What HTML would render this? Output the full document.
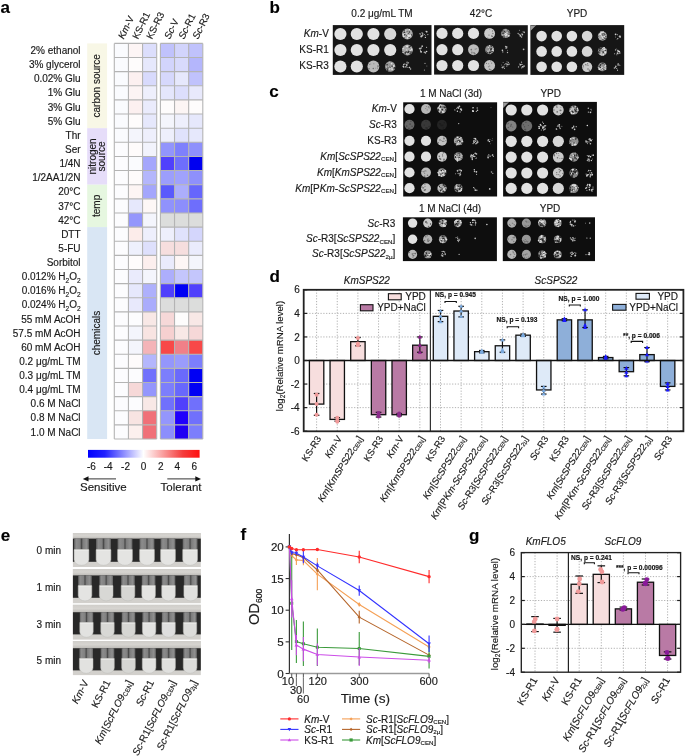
<!DOCTYPE html>
<html><head><meta charset="utf-8"><style>html,body{margin:0;padding:0;background:#fff;}svg{display:block;will-change:transform;font-family:"Liberation Sans",sans-serif;}text{stroke:currentColor;stroke-width:0.15px;paint-order:stroke;}</style></head>
<body><svg width="685" height="756" viewBox="0 0 685 756" font-family="Liberation Sans, sans-serif"><text x="0.50" y="13.30" font-size="17.00" text-anchor="start" fill="#000" font-weight="bold"><tspan>a</tspan></text>
<rect x="87.20" y="43.40" width="19.90" height="84.78" fill="#f8f7e6"/>
<rect x="87.20" y="128.18" width="19.90" height="56.52" fill="#e6ddf9"/>
<rect x="87.20" y="184.70" width="19.90" height="42.39" fill="#e6f7e0"/>
<rect x="87.20" y="227.09" width="19.90" height="211.95" fill="#d9e6f4"/>
<text transform="translate(100.10 85.79) rotate(-90.0)" font-size="10.00" text-anchor="middle" fill="#1a1a1a"><tspan>carbon source</tspan></text>
<text transform="translate(96.20 156.44) rotate(-90.0)" font-size="10.00" text-anchor="middle" fill="#1a1a1a"><tspan>nitrogen</tspan></text>
<text transform="translate(104.60 156.44) rotate(-90.0)" font-size="10.00" text-anchor="middle" fill="#1a1a1a"><tspan>source</tspan></text>
<text transform="translate(100.10 205.90) rotate(-90.0)" font-size="10.00" text-anchor="middle" fill="#1a1a1a"><tspan>temp</tspan></text>
<text transform="translate(100.10 333.06) rotate(-90.0)" font-size="10.00" text-anchor="middle" fill="#1a1a1a"><tspan>chemicals</tspan></text>
<text x="80.60" y="54.06" font-size="10.00" text-anchor="end" fill="#1a1a1a"><tspan>2% ethanol</tspan></text>
<rect x="114.30" y="43.40" width="14.13" height="14.13" fill="#fafbfe"/>
<rect x="128.43" y="43.40" width="14.13" height="14.13" fill="#fdf5f5"/>
<rect x="142.56" y="43.40" width="14.13" height="14.13" fill="#dcdefc"/>
<rect x="160.40" y="43.40" width="14.13" height="14.13" fill="#c0c2fc"/>
<rect x="174.53" y="43.40" width="14.13" height="14.13" fill="#d2d4fc"/>
<rect x="188.66" y="43.40" width="14.13" height="14.13" fill="#c0c2fc"/>
<text x="80.60" y="68.19" font-size="10.00" text-anchor="end" fill="#1a1a1a"><tspan>3% glycerol</tspan></text>
<rect x="114.30" y="57.53" width="14.13" height="14.13" fill="#fafbfe"/>
<rect x="128.43" y="57.53" width="14.13" height="14.13" fill="#fefcfc"/>
<rect x="142.56" y="57.53" width="14.13" height="14.13" fill="#e6e8fc"/>
<rect x="160.40" y="57.53" width="14.13" height="14.13" fill="#d2d4fc"/>
<rect x="174.53" y="57.53" width="14.13" height="14.13" fill="#d8dafc"/>
<rect x="188.66" y="57.53" width="14.13" height="14.13" fill="#b4b6fc"/>
<text x="80.60" y="82.32" font-size="10.00" text-anchor="end" fill="#1a1a1a"><tspan>0.02% Glu</tspan></text>
<rect x="114.30" y="71.66" width="14.13" height="14.13" fill="#fafbfe"/>
<rect x="128.43" y="71.66" width="14.13" height="14.13" fill="#fcf0f0"/>
<rect x="142.56" y="71.66" width="14.13" height="14.13" fill="#d8dafc"/>
<rect x="160.40" y="71.66" width="14.13" height="14.13" fill="#d6d8fc"/>
<rect x="174.53" y="71.66" width="14.13" height="14.13" fill="#e6e8fc"/>
<rect x="188.66" y="71.66" width="14.13" height="14.13" fill="#c0c2fc"/>
<text x="80.60" y="96.45" font-size="10.00" text-anchor="end" fill="#1a1a1a"><tspan>1% Glu</tspan></text>
<rect x="114.30" y="85.79" width="14.13" height="14.13" fill="#fafbfe"/>
<rect x="128.43" y="85.79" width="14.13" height="14.13" fill="#fcf4f4"/>
<rect x="142.56" y="85.79" width="14.13" height="14.13" fill="#eeeffc"/>
<rect x="160.40" y="85.79" width="14.13" height="14.13" fill="#e4e6fc"/>
<rect x="174.53" y="85.79" width="14.13" height="14.13" fill="#dcdefc"/>
<rect x="188.66" y="85.79" width="14.13" height="14.13" fill="#e8e9fc"/>
<text x="80.60" y="110.58" font-size="10.00" text-anchor="end" fill="#1a1a1a"><tspan>3% Glu</tspan></text>
<rect x="114.30" y="99.92" width="14.13" height="14.13" fill="#fafbfe"/>
<rect x="128.43" y="99.92" width="14.13" height="14.13" fill="#fcf0f0"/>
<rect x="142.56" y="99.92" width="14.13" height="14.13" fill="#eaebfc"/>
<rect x="160.40" y="99.92" width="14.13" height="14.13" fill="#fefcfc"/>
<rect x="174.53" y="99.92" width="14.13" height="14.13" fill="#fcf5f4"/>
<rect x="188.66" y="99.92" width="14.13" height="14.13" fill="#fefcfc"/>
<text x="80.60" y="124.72" font-size="10.00" text-anchor="end" fill="#1a1a1a"><tspan>5% Glu</tspan></text>
<rect x="114.30" y="114.05" width="14.13" height="14.13" fill="#fafbfe"/>
<rect x="128.43" y="114.05" width="14.13" height="14.13" fill="#fefcfc"/>
<rect x="142.56" y="114.05" width="14.13" height="14.13" fill="#e6e8fc"/>
<rect x="160.40" y="114.05" width="14.13" height="14.13" fill="#f4f5fc"/>
<rect x="174.53" y="114.05" width="14.13" height="14.13" fill="#eeeffc"/>
<rect x="188.66" y="114.05" width="14.13" height="14.13" fill="#e6e8fc"/>
<text x="80.60" y="138.84" font-size="10.00" text-anchor="end" fill="#1a1a1a"><tspan>Thr</tspan></text>
<rect x="114.30" y="128.18" width="14.13" height="14.13" fill="#fafbfe"/>
<rect x="128.43" y="128.18" width="14.13" height="14.13" fill="#f4f5fc"/>
<rect x="142.56" y="128.18" width="14.13" height="14.13" fill="#eeeffc"/>
<rect x="160.40" y="128.18" width="14.13" height="14.13" fill="#eeeffc"/>
<rect x="174.53" y="128.18" width="14.13" height="14.13" fill="#e0e2fc"/>
<rect x="188.66" y="128.18" width="14.13" height="14.13" fill="#e6e8fc"/>
<text x="80.60" y="152.97" font-size="10.00" text-anchor="end" fill="#1a1a1a"><tspan>Ser</tspan></text>
<rect x="114.30" y="142.31" width="14.13" height="14.13" fill="#fcfcfe"/>
<rect x="128.43" y="142.31" width="14.13" height="14.13" fill="#fefbfb"/>
<rect x="142.56" y="142.31" width="14.13" height="14.13" fill="#f2f3fc"/>
<rect x="160.40" y="142.31" width="14.13" height="14.13" fill="#9294fc"/>
<rect x="174.53" y="142.31" width="14.13" height="14.13" fill="#7e80fc"/>
<rect x="188.66" y="142.31" width="14.13" height="14.13" fill="#8e90fc"/>
<text x="80.60" y="167.10" font-size="10.00" text-anchor="end" fill="#1a1a1a"><tspan>1/4N</tspan></text>
<rect x="114.30" y="156.44" width="14.13" height="14.13" fill="#fcfcfe"/>
<rect x="128.43" y="156.44" width="14.13" height="14.13" fill="#fafbfe"/>
<rect x="142.56" y="156.44" width="14.13" height="14.13" fill="#a4a6fc"/>
<rect x="160.40" y="156.44" width="14.13" height="14.13" fill="#5040fc"/>
<rect x="174.53" y="156.44" width="14.13" height="14.13" fill="#6e6efc"/>
<rect x="188.66" y="156.44" width="14.13" height="14.13" fill="#0000f0"/>
<text x="80.60" y="181.23" font-size="10.00" text-anchor="end" fill="#1a1a1a"><tspan>1/2AA1/2N</tspan></text>
<rect x="114.30" y="170.57" width="14.13" height="14.13" fill="#fcfcfe"/>
<rect x="128.43" y="170.57" width="14.13" height="14.13" fill="#fefbfb"/>
<rect x="142.56" y="170.57" width="14.13" height="14.13" fill="#b4b6fc"/>
<rect x="160.40" y="170.57" width="14.13" height="14.13" fill="#9c9efc"/>
<rect x="174.53" y="170.57" width="14.13" height="14.13" fill="#a0a2fc"/>
<rect x="188.66" y="170.57" width="14.13" height="14.13" fill="#8e90fc"/>
<text x="80.60" y="195.37" font-size="10.00" text-anchor="end" fill="#1a1a1a"><tspan>20°C</tspan></text>
<rect x="114.30" y="184.70" width="14.13" height="14.13" fill="#fcfcfe"/>
<rect x="128.43" y="184.70" width="14.13" height="14.13" fill="#fdf5f4"/>
<rect x="142.56" y="184.70" width="14.13" height="14.13" fill="#a4a6fc"/>
<rect x="160.40" y="184.70" width="14.13" height="14.13" fill="#5a5afc"/>
<rect x="174.53" y="184.70" width="14.13" height="14.13" fill="#acaefc"/>
<rect x="188.66" y="184.70" width="14.13" height="14.13" fill="#6666fc"/>
<text x="80.60" y="209.50" font-size="10.00" text-anchor="end" fill="#1a1a1a"><tspan>37°C</tspan></text>
<rect x="114.30" y="198.83" width="14.13" height="14.13" fill="#fcfcfe"/>
<rect x="128.43" y="198.83" width="14.13" height="14.13" fill="#e6e8fc"/>
<rect x="142.56" y="198.83" width="14.13" height="14.13" fill="#fdf7f6"/>
<rect x="160.40" y="198.83" width="14.13" height="14.13" fill="#9092fc"/>
<rect x="174.53" y="198.83" width="14.13" height="14.13" fill="#8c8efc"/>
<rect x="188.66" y="198.83" width="14.13" height="14.13" fill="#6e6efc"/>
<text x="80.60" y="223.62" font-size="10.00" text-anchor="end" fill="#1a1a1a"><tspan>42°C</tspan></text>
<rect x="114.30" y="212.96" width="14.13" height="14.13" fill="#fcfcfe"/>
<rect x="128.43" y="212.96" width="14.13" height="14.13" fill="#9496fc"/>
<rect x="142.56" y="212.96" width="14.13" height="14.13" fill="#f4f5fc"/>
<rect x="160.40" y="212.96" width="14.13" height="14.13" fill="#dcdddc"/>
<rect x="174.53" y="212.96" width="14.13" height="14.13" fill="#dcdddc"/>
<rect x="188.66" y="212.96" width="14.13" height="14.13" fill="#dcdddc"/>
<text x="80.60" y="237.75" font-size="10.00" text-anchor="end" fill="#1a1a1a"><tspan>DTT</tspan></text>
<rect x="114.30" y="227.09" width="14.13" height="14.13" fill="#fcfcfe"/>
<rect x="128.43" y="227.09" width="14.13" height="14.13" fill="#fcecea"/>
<rect x="142.56" y="227.09" width="14.13" height="14.13" fill="#eeeffc"/>
<rect x="160.40" y="227.09" width="14.13" height="14.13" fill="#eeeffc"/>
<rect x="174.53" y="227.09" width="14.13" height="14.13" fill="#e0e2fc"/>
<rect x="188.66" y="227.09" width="14.13" height="14.13" fill="#d4d6fc"/>
<text x="80.60" y="251.89" font-size="10.00" text-anchor="end" fill="#1a1a1a"><tspan>5-FU</tspan></text>
<rect x="114.30" y="241.22" width="14.13" height="14.13" fill="#fcfcfe"/>
<rect x="128.43" y="241.22" width="14.13" height="14.13" fill="#eef0fc"/>
<rect x="142.56" y="241.22" width="14.13" height="14.13" fill="#dee0fc"/>
<rect x="160.40" y="241.22" width="14.13" height="14.13" fill="#f6dede"/>
<rect x="174.53" y="241.22" width="14.13" height="14.13" fill="#f6dede"/>
<rect x="188.66" y="241.22" width="14.13" height="14.13" fill="#eaebfc"/>
<text x="80.60" y="266.02" font-size="10.00" text-anchor="end" fill="#1a1a1a"><tspan>Sorbitol</tspan></text>
<rect x="114.30" y="255.35" width="14.13" height="14.13" fill="#fcfcfe"/>
<rect x="128.43" y="255.35" width="14.13" height="14.13" fill="#fefcfc"/>
<rect x="142.56" y="255.35" width="14.13" height="14.13" fill="#fcefee"/>
<rect x="160.40" y="255.35" width="14.13" height="14.13" fill="#eaebfc"/>
<rect x="174.53" y="255.35" width="14.13" height="14.13" fill="#fdf6f5"/>
<rect x="188.66" y="255.35" width="14.13" height="14.13" fill="#f4f5fc"/>
<text x="80.6" y="280.15" font-size="10" text-anchor="end" fill="#1a1a1a">0.012% H<tspan font-size="6.5" dy="2.6">2</tspan><tspan dy="-2.6">O</tspan><tspan font-size="6.5" dy="2.6">2</tspan></text>
<rect x="114.30" y="269.48" width="14.13" height="14.13" fill="#fcfcfe"/>
<rect x="128.43" y="269.48" width="14.13" height="14.13" fill="#eaebfc"/>
<rect x="142.56" y="269.48" width="14.13" height="14.13" fill="#f4f5fc"/>
<rect x="160.40" y="269.48" width="14.13" height="14.13" fill="#adaefc"/>
<rect x="174.53" y="269.48" width="14.13" height="14.13" fill="#c4c6fc"/>
<rect x="188.66" y="269.48" width="14.13" height="14.13" fill="#c4c6fc"/>
<text x="80.6" y="294.28" font-size="10" text-anchor="end" fill="#1a1a1a">0.016% H<tspan font-size="6.5" dy="2.6">2</tspan><tspan dy="-2.6">O</tspan><tspan font-size="6.5" dy="2.6">2</tspan></text>
<rect x="114.30" y="283.61" width="14.13" height="14.13" fill="#fcfcfe"/>
<rect x="128.43" y="283.61" width="14.13" height="14.13" fill="#e6e8fc"/>
<rect x="142.56" y="283.61" width="14.13" height="14.13" fill="#aeb0fc"/>
<rect x="160.40" y="283.61" width="14.13" height="14.13" fill="#5040fc"/>
<rect x="174.53" y="283.61" width="14.13" height="14.13" fill="#0000f4"/>
<rect x="188.66" y="283.61" width="14.13" height="14.13" fill="#5040fc"/>
<text x="80.6" y="308.41" font-size="10" text-anchor="end" fill="#1a1a1a">0.024% H<tspan font-size="6.5" dy="2.6">2</tspan><tspan dy="-2.6">O</tspan><tspan font-size="6.5" dy="2.6">2</tspan></text>
<rect x="114.30" y="297.74" width="14.13" height="14.13" fill="#fcfcfe"/>
<rect x="128.43" y="297.74" width="14.13" height="14.13" fill="#e8e9fc"/>
<rect x="142.56" y="297.74" width="14.13" height="14.13" fill="#aaacfc"/>
<rect x="160.40" y="297.74" width="14.13" height="14.13" fill="#dcdddc"/>
<rect x="174.53" y="297.74" width="14.13" height="14.13" fill="#dcdddc"/>
<rect x="188.66" y="297.74" width="14.13" height="14.13" fill="#dcdddc"/>
<text x="80.60" y="322.54" font-size="10.00" text-anchor="end" fill="#1a1a1a"><tspan>55 mM AcOH</tspan></text>
<rect x="114.30" y="311.87" width="14.13" height="14.13" fill="#fcfcfe"/>
<rect x="128.43" y="311.87" width="14.13" height="14.13" fill="#fcfcfe"/>
<rect x="142.56" y="311.87" width="14.13" height="14.13" fill="#f8e8e6"/>
<rect x="160.40" y="311.87" width="14.13" height="14.13" fill="#f6d8d8"/>
<rect x="174.53" y="311.87" width="14.13" height="14.13" fill="#fdfcfc"/>
<rect x="188.66" y="311.87" width="14.13" height="14.13" fill="#f8e8e6"/>
<text x="80.60" y="336.67" font-size="10.00" text-anchor="end" fill="#1a1a1a"><tspan>57.5 mM AcOH</tspan></text>
<rect x="114.30" y="326.00" width="14.13" height="14.13" fill="#fcfcfe"/>
<rect x="128.43" y="326.00" width="14.13" height="14.13" fill="#f4f5fc"/>
<rect x="142.56" y="326.00" width="14.13" height="14.13" fill="#f8e4e2"/>
<rect x="160.40" y="326.00" width="14.13" height="14.13" fill="#f6d0d0"/>
<rect x="174.53" y="326.00" width="14.13" height="14.13" fill="#f8e8e6"/>
<rect x="188.66" y="326.00" width="14.13" height="14.13" fill="#f6d8d8"/>
<text x="80.60" y="350.80" font-size="10.00" text-anchor="end" fill="#1a1a1a"><tspan>60 mM AcOH</tspan></text>
<rect x="114.30" y="340.13" width="14.13" height="14.13" fill="#fcfcfe"/>
<rect x="128.43" y="340.13" width="14.13" height="14.13" fill="#f4f5fc"/>
<rect x="142.56" y="340.13" width="14.13" height="14.13" fill="#f4b4b8"/>
<rect x="160.40" y="340.13" width="14.13" height="14.13" fill="#f84848"/>
<rect x="174.53" y="340.13" width="14.13" height="14.13" fill="#f08088"/>
<rect x="188.66" y="340.13" width="14.13" height="14.13" fill="#f84848"/>
<text x="80.60" y="364.93" font-size="10.00" text-anchor="end" fill="#1a1a1a"><tspan>0.2 μg/mL TM</tspan></text>
<rect x="114.30" y="354.26" width="14.13" height="14.13" fill="#fcfcfe"/>
<rect x="128.43" y="354.26" width="14.13" height="14.13" fill="#fefbfb"/>
<rect x="142.56" y="354.26" width="14.13" height="14.13" fill="#b4b6fc"/>
<rect x="160.40" y="354.26" width="14.13" height="14.13" fill="#9496fc"/>
<rect x="174.53" y="354.26" width="14.13" height="14.13" fill="#9a9cfc"/>
<rect x="188.66" y="354.26" width="14.13" height="14.13" fill="#7c7efc"/>
<text x="80.60" y="379.06" font-size="10.00" text-anchor="end" fill="#1a1a1a"><tspan>0.3 μg/mL TM</tspan></text>
<rect x="114.30" y="368.39" width="14.13" height="14.13" fill="#fcfcfe"/>
<rect x="128.43" y="368.39" width="14.13" height="14.13" fill="#fcfcfe"/>
<rect x="142.56" y="368.39" width="14.13" height="14.13" fill="#7070fc"/>
<rect x="160.40" y="368.39" width="14.13" height="14.13" fill="#7c7efc"/>
<rect x="174.53" y="368.39" width="14.13" height="14.13" fill="#6a6afc"/>
<rect x="188.66" y="368.39" width="14.13" height="14.13" fill="#0000f4"/>
<text x="80.60" y="393.19" font-size="10.00" text-anchor="end" fill="#1a1a1a"><tspan>0.4 μg/mL TM</tspan></text>
<rect x="114.30" y="382.52" width="14.13" height="14.13" fill="#fcfcfe"/>
<rect x="128.43" y="382.52" width="14.13" height="14.13" fill="#f6d8d8"/>
<rect x="142.56" y="382.52" width="14.13" height="14.13" fill="#9496fc"/>
<rect x="160.40" y="382.52" width="14.13" height="14.13" fill="#7c7efc"/>
<rect x="174.53" y="382.52" width="14.13" height="14.13" fill="#6868fc"/>
<rect x="188.66" y="382.52" width="14.13" height="14.13" fill="#0000f4"/>
<text x="80.60" y="407.31" font-size="10.00" text-anchor="end" fill="#1a1a1a"><tspan>0.6 M NaCl</tspan></text>
<rect x="114.30" y="396.65" width="14.13" height="14.13" fill="#fcfcfe"/>
<rect x="128.43" y="396.65" width="14.13" height="14.13" fill="#fcfcfe"/>
<rect x="142.56" y="396.65" width="14.13" height="14.13" fill="#f8e8e6"/>
<rect x="160.40" y="396.65" width="14.13" height="14.13" fill="#7070fc"/>
<rect x="174.53" y="396.65" width="14.13" height="14.13" fill="#5040fc"/>
<rect x="188.66" y="396.65" width="14.13" height="14.13" fill="#7070fc"/>
<text x="80.60" y="421.44" font-size="10.00" text-anchor="end" fill="#1a1a1a"><tspan>0.8 M NaCl</tspan></text>
<rect x="114.30" y="410.78" width="14.13" height="14.13" fill="#fcfcfe"/>
<rect x="128.43" y="410.78" width="14.13" height="14.13" fill="#f8e4e2"/>
<rect x="142.56" y="410.78" width="14.13" height="14.13" fill="#f07078"/>
<rect x="160.40" y="410.78" width="14.13" height="14.13" fill="#9496fc"/>
<rect x="174.53" y="410.78" width="14.13" height="14.13" fill="#2000fc"/>
<rect x="188.66" y="410.78" width="14.13" height="14.13" fill="#7070fc"/>
<text x="80.60" y="435.58" font-size="10.00" text-anchor="end" fill="#1a1a1a"><tspan>1.0 M NaCl</tspan></text>
<rect x="114.30" y="424.91" width="14.13" height="14.13" fill="#fcfcfe"/>
<rect x="128.43" y="424.91" width="14.13" height="14.13" fill="#fcf0ee"/>
<rect x="142.56" y="424.91" width="14.13" height="14.13" fill="#f07078"/>
<rect x="160.40" y="424.91" width="14.13" height="14.13" fill="#8c8efc"/>
<rect x="174.53" y="424.91" width="14.13" height="14.13" fill="#2000f4"/>
<rect x="188.66" y="424.91" width="14.13" height="14.13" fill="#7c7efc"/>
<line x1="114.30" y1="43.40" x2="114.30" y2="439.04" stroke="#b4b4b4" stroke-width="1.10"/>
<line x1="128.43" y1="43.40" x2="128.43" y2="439.04" stroke="#b4b4b4" stroke-width="1.10"/>
<line x1="142.56" y1="43.40" x2="142.56" y2="439.04" stroke="#b4b4b4" stroke-width="1.10"/>
<line x1="156.69" y1="43.40" x2="156.69" y2="439.04" stroke="#b4b4b4" stroke-width="1.10"/>
<line x1="114.30" y1="43.40" x2="156.69" y2="43.40" stroke="#b4b4b4" stroke-width="1.10"/>
<line x1="114.30" y1="57.53" x2="156.69" y2="57.53" stroke="#b4b4b4" stroke-width="1.10"/>
<line x1="114.30" y1="71.66" x2="156.69" y2="71.66" stroke="#b4b4b4" stroke-width="1.10"/>
<line x1="114.30" y1="85.79" x2="156.69" y2="85.79" stroke="#b4b4b4" stroke-width="1.10"/>
<line x1="114.30" y1="99.92" x2="156.69" y2="99.92" stroke="#b4b4b4" stroke-width="1.10"/>
<line x1="114.30" y1="114.05" x2="156.69" y2="114.05" stroke="#b4b4b4" stroke-width="1.10"/>
<line x1="114.30" y1="128.18" x2="156.69" y2="128.18" stroke="#b4b4b4" stroke-width="1.10"/>
<line x1="114.30" y1="142.31" x2="156.69" y2="142.31" stroke="#b4b4b4" stroke-width="1.10"/>
<line x1="114.30" y1="156.44" x2="156.69" y2="156.44" stroke="#b4b4b4" stroke-width="1.10"/>
<line x1="114.30" y1="170.57" x2="156.69" y2="170.57" stroke="#b4b4b4" stroke-width="1.10"/>
<line x1="114.30" y1="184.70" x2="156.69" y2="184.70" stroke="#b4b4b4" stroke-width="1.10"/>
<line x1="114.30" y1="198.83" x2="156.69" y2="198.83" stroke="#b4b4b4" stroke-width="1.10"/>
<line x1="114.30" y1="212.96" x2="156.69" y2="212.96" stroke="#b4b4b4" stroke-width="1.10"/>
<line x1="114.30" y1="227.09" x2="156.69" y2="227.09" stroke="#b4b4b4" stroke-width="1.10"/>
<line x1="114.30" y1="241.22" x2="156.69" y2="241.22" stroke="#b4b4b4" stroke-width="1.10"/>
<line x1="114.30" y1="255.35" x2="156.69" y2="255.35" stroke="#b4b4b4" stroke-width="1.10"/>
<line x1="114.30" y1="269.48" x2="156.69" y2="269.48" stroke="#b4b4b4" stroke-width="1.10"/>
<line x1="114.30" y1="283.61" x2="156.69" y2="283.61" stroke="#b4b4b4" stroke-width="1.10"/>
<line x1="114.30" y1="297.74" x2="156.69" y2="297.74" stroke="#b4b4b4" stroke-width="1.10"/>
<line x1="114.30" y1="311.87" x2="156.69" y2="311.87" stroke="#b4b4b4" stroke-width="1.10"/>
<line x1="114.30" y1="326.00" x2="156.69" y2="326.00" stroke="#b4b4b4" stroke-width="1.10"/>
<line x1="114.30" y1="340.13" x2="156.69" y2="340.13" stroke="#b4b4b4" stroke-width="1.10"/>
<line x1="114.30" y1="354.26" x2="156.69" y2="354.26" stroke="#b4b4b4" stroke-width="1.10"/>
<line x1="114.30" y1="368.39" x2="156.69" y2="368.39" stroke="#b4b4b4" stroke-width="1.10"/>
<line x1="114.30" y1="382.52" x2="156.69" y2="382.52" stroke="#b4b4b4" stroke-width="1.10"/>
<line x1="114.30" y1="396.65" x2="156.69" y2="396.65" stroke="#b4b4b4" stroke-width="1.10"/>
<line x1="114.30" y1="410.78" x2="156.69" y2="410.78" stroke="#b4b4b4" stroke-width="1.10"/>
<line x1="114.30" y1="424.91" x2="156.69" y2="424.91" stroke="#b4b4b4" stroke-width="1.10"/>
<line x1="114.30" y1="439.04" x2="156.69" y2="439.04" stroke="#b4b4b4" stroke-width="1.10"/>
<line x1="160.40" y1="43.40" x2="160.40" y2="439.04" stroke="#b4b4b4" stroke-width="1.10"/>
<line x1="174.53" y1="43.40" x2="174.53" y2="439.04" stroke="#b4b4b4" stroke-width="1.10"/>
<line x1="188.66" y1="43.40" x2="188.66" y2="439.04" stroke="#b4b4b4" stroke-width="1.10"/>
<line x1="202.79" y1="43.40" x2="202.79" y2="439.04" stroke="#b4b4b4" stroke-width="1.10"/>
<line x1="160.40" y1="43.40" x2="202.79" y2="43.40" stroke="#b4b4b4" stroke-width="1.10"/>
<line x1="160.40" y1="57.53" x2="202.79" y2="57.53" stroke="#b4b4b4" stroke-width="1.10"/>
<line x1="160.40" y1="71.66" x2="202.79" y2="71.66" stroke="#b4b4b4" stroke-width="1.10"/>
<line x1="160.40" y1="85.79" x2="202.79" y2="85.79" stroke="#b4b4b4" stroke-width="1.10"/>
<line x1="160.40" y1="99.92" x2="202.79" y2="99.92" stroke="#b4b4b4" stroke-width="1.10"/>
<line x1="160.40" y1="114.05" x2="202.79" y2="114.05" stroke="#b4b4b4" stroke-width="1.10"/>
<line x1="160.40" y1="128.18" x2="202.79" y2="128.18" stroke="#b4b4b4" stroke-width="1.10"/>
<line x1="160.40" y1="142.31" x2="202.79" y2="142.31" stroke="#b4b4b4" stroke-width="1.10"/>
<line x1="160.40" y1="156.44" x2="202.79" y2="156.44" stroke="#b4b4b4" stroke-width="1.10"/>
<line x1="160.40" y1="170.57" x2="202.79" y2="170.57" stroke="#b4b4b4" stroke-width="1.10"/>
<line x1="160.40" y1="184.70" x2="202.79" y2="184.70" stroke="#b4b4b4" stroke-width="1.10"/>
<line x1="160.40" y1="198.83" x2="202.79" y2="198.83" stroke="#b4b4b4" stroke-width="1.10"/>
<line x1="160.40" y1="212.96" x2="202.79" y2="212.96" stroke="#b4b4b4" stroke-width="1.10"/>
<line x1="160.40" y1="227.09" x2="202.79" y2="227.09" stroke="#b4b4b4" stroke-width="1.10"/>
<line x1="160.40" y1="241.22" x2="202.79" y2="241.22" stroke="#b4b4b4" stroke-width="1.10"/>
<line x1="160.40" y1="255.35" x2="202.79" y2="255.35" stroke="#b4b4b4" stroke-width="1.10"/>
<line x1="160.40" y1="269.48" x2="202.79" y2="269.48" stroke="#b4b4b4" stroke-width="1.10"/>
<line x1="160.40" y1="283.61" x2="202.79" y2="283.61" stroke="#b4b4b4" stroke-width="1.10"/>
<line x1="160.40" y1="297.74" x2="202.79" y2="297.74" stroke="#b4b4b4" stroke-width="1.10"/>
<line x1="160.40" y1="311.87" x2="202.79" y2="311.87" stroke="#b4b4b4" stroke-width="1.10"/>
<line x1="160.40" y1="326.00" x2="202.79" y2="326.00" stroke="#b4b4b4" stroke-width="1.10"/>
<line x1="160.40" y1="340.13" x2="202.79" y2="340.13" stroke="#b4b4b4" stroke-width="1.10"/>
<line x1="160.40" y1="354.26" x2="202.79" y2="354.26" stroke="#b4b4b4" stroke-width="1.10"/>
<line x1="160.40" y1="368.39" x2="202.79" y2="368.39" stroke="#b4b4b4" stroke-width="1.10"/>
<line x1="160.40" y1="382.52" x2="202.79" y2="382.52" stroke="#b4b4b4" stroke-width="1.10"/>
<line x1="160.40" y1="396.65" x2="202.79" y2="396.65" stroke="#b4b4b4" stroke-width="1.10"/>
<line x1="160.40" y1="410.78" x2="202.79" y2="410.78" stroke="#b4b4b4" stroke-width="1.10"/>
<line x1="160.40" y1="424.91" x2="202.79" y2="424.91" stroke="#b4b4b4" stroke-width="1.10"/>
<line x1="160.40" y1="439.04" x2="202.79" y2="439.04" stroke="#b4b4b4" stroke-width="1.10"/>
<text transform="translate(123.77 39.80) rotate(-64.0)" font-size="9.70" text-anchor="start" fill="#1a1a1a"><tspan font-style="italic">Km</tspan><tspan>-V</tspan></text>
<text transform="translate(137.90 39.80) rotate(-64.0)" font-size="9.70" text-anchor="start" fill="#1a1a1a"><tspan>KS-R1</tspan></text>
<text transform="translate(152.03 39.80) rotate(-64.0)" font-size="9.70" text-anchor="start" fill="#1a1a1a"><tspan>KS-R3</tspan></text>
<text transform="translate(169.87 39.80) rotate(-64.0)" font-size="9.70" text-anchor="start" fill="#1a1a1a"><tspan font-style="italic">Sc</tspan><tspan>-V</tspan></text>
<text transform="translate(184.00 39.80) rotate(-64.0)" font-size="9.70" text-anchor="start" fill="#1a1a1a"><tspan font-style="italic">Sc</tspan><tspan>-R1</tspan></text>
<text transform="translate(198.12 39.80) rotate(-64.0)" font-size="9.70" text-anchor="start" fill="#1a1a1a"><tspan font-style="italic">Sc</tspan><tspan>-R3</tspan></text>
<defs><linearGradient id="cb" x1="0" x2="1"><stop offset="0" stop-color="#0000ff"/><stop offset="0.15" stop-color="#2020ff"/><stop offset="0.497" stop-color="#ffffff"/><stop offset="0.85" stop-color="#f43c3c"/><stop offset="1" stop-color="#ff1010"/></linearGradient></defs>
<rect x="88.00" y="449.90" width="111.60" height="7.80" fill="url(#cb)"/>
<text x="91.40" y="470.00" font-size="10.00" text-anchor="middle" fill="#1a1a1a"><tspan>-6</tspan></text>
<text x="108.10" y="470.00" font-size="10.00" text-anchor="middle" fill="#1a1a1a"><tspan>-4</tspan></text>
<text x="125.50" y="470.00" font-size="10.00" text-anchor="middle" fill="#1a1a1a"><tspan>-2</tspan></text>
<text x="143.60" y="470.00" font-size="10.00" text-anchor="middle" fill="#1a1a1a"><tspan>0</tspan></text>
<text x="160.70" y="470.00" font-size="10.00" text-anchor="middle" fill="#1a1a1a"><tspan>2</tspan></text>
<text x="177.20" y="470.00" font-size="10.00" text-anchor="middle" fill="#1a1a1a"><tspan>4</tspan></text>
<text x="194.30" y="470.00" font-size="10.00" text-anchor="middle" fill="#1a1a1a"><tspan>6</tspan></text>
<line x1="86.00" y1="478.90" x2="116.00" y2="478.90" stroke="#333" stroke-width="1.00"/>
<path d="M82.8 478.9 L88.5 476.2 L88.5 481.6 Z" fill="#111"/>
<line x1="167.30" y1="478.90" x2="196.00" y2="478.90" stroke="#333" stroke-width="1.00"/>
<path d="M201 478.9 L195.3 476.2 L195.3 481.6 Z" fill="#111"/>
<text x="80.00" y="491.20" font-size="11.50" text-anchor="start" fill="#1a1a1a"><tspan>Sensitive</tspan></text>
<text x="201.50" y="491.20" font-size="11.50" text-anchor="end" fill="#1a1a1a"><tspan>Tolerant</tspan></text>
<text x="269.50" y="13.20" font-size="17.00" text-anchor="start" fill="#000" font-weight="bold"><tspan>b</tspan></text>
<text x="382.00" y="17.00" font-size="10.00" text-anchor="middle" fill="#1a1a1a"><tspan>0.2 μg/mL TM</tspan></text>
<text x="481.00" y="17.00" font-size="10.00" text-anchor="middle" fill="#1a1a1a"><tspan>42°C</tspan></text>
<text x="577.00" y="17.00" font-size="10.00" text-anchor="middle" fill="#1a1a1a"><tspan>YPD</tspan></text>
<text x="328.80" y="37.30" font-size="10.00" text-anchor="end" fill="#1a1a1a"><tspan font-style="italic">Km</tspan><tspan>-V</tspan></text>
<text x="328.80" y="53.30" font-size="10.00" text-anchor="end" fill="#1a1a1a"><tspan>KS-R1</tspan></text>
<text x="328.80" y="69.30" font-size="10.00" text-anchor="end" fill="#1a1a1a"><tspan>KS-R3</tspan></text>
<rect x="332.80" y="25.10" width="98.70" height="49.80" fill="#161616"/>
<circle cx="340.4" cy="34.0" r="6.10" fill="rgb(226,226,226)"/>
<circle cx="356.8" cy="34.0" r="6.10" fill="rgb(226,226,226)"/>
<circle cx="373.4" cy="34.0" r="6.10" fill="rgb(226,226,226)"/>
<circle cx="390.2" cy="34.0" r="6.10" fill="rgb(215,215,215)"/>
<circle cx="407.4" cy="34.0" r="5.43" fill="rgb(168,168,168)"/>
<circle cx="406.5" cy="35.8" r="0.49" fill="rgb(52,52,52)"/>
<circle cx="404.4" cy="33.3" r="0.70" fill="rgb(226,226,226)"/>
<circle cx="410.7" cy="34.8" r="0.50" fill="rgb(226,226,226)"/>
<circle cx="403.2" cy="36.1" r="0.56" fill="rgb(226,226,226)"/>
<circle cx="403.9" cy="30.4" r="0.65" fill="rgb(52,52,52)"/>
<circle cx="408.5" cy="33.8" r="0.59" fill="rgb(52,52,52)"/>
<circle cx="408.5" cy="35.4" r="0.86" fill="rgb(226,226,226)"/>
<circle cx="409.1" cy="37.6" r="0.64" fill="rgb(52,52,52)"/>
<circle cx="406.2" cy="33.6" r="0.55" fill="rgb(226,226,226)"/>
<circle cx="406.0" cy="30.9" r="0.74" fill="rgb(226,226,226)"/>
<circle cx="404.7" cy="34.8" r="0.80" fill="rgb(52,52,52)"/>
<circle cx="407.5" cy="37.9" r="0.89" fill="rgb(226,226,226)"/>
<circle cx="407.0" cy="31.3" r="0.51" fill="rgb(52,52,52)"/>
<circle cx="403.5" cy="36.2" r="0.69" fill="rgb(226,226,226)"/>
<circle cx="411.5" cy="35.0" r="0.74" fill="rgb(52,52,52)"/>
<circle cx="409.4" cy="32.0" r="0.75" fill="rgb(52,52,52)"/>
<circle cx="404.3" cy="32.3" r="0.92" fill="rgb(52,52,52)"/>
<circle cx="403.3" cy="34.7" r="0.80" fill="rgb(226,226,226)"/>
<circle cx="404.3" cy="29.9" r="0.59" fill="rgb(52,52,52)"/>
<circle cx="404.2" cy="36.8" r="0.68" fill="rgb(226,226,226)"/>
<circle cx="408.3" cy="35.5" r="0.83" fill="rgb(226,226,226)"/>
<circle cx="409.2" cy="35.9" r="0.89" fill="rgb(226,226,226)"/>
<circle cx="410.4" cy="35.7" r="0.89" fill="rgb(226,226,226)"/>
<circle cx="409.4" cy="29.7" r="0.66" fill="rgb(226,226,226)"/>
<circle cx="404.3" cy="37.8" r="0.53" fill="rgb(52,52,52)"/>
<circle cx="408.5" cy="36.2" r="0.69" fill="rgb(226,226,226)"/>
<circle cx="421.6" cy="32.8" r="0.40" fill="rgb(190,190,190)"/>
<circle cx="421.2" cy="36.5" r="0.88" fill="rgb(207,207,207)"/>
<circle cx="420.0" cy="33.7" r="0.74" fill="rgb(168,168,168)"/>
<circle cx="426.7" cy="31.7" r="0.84" fill="rgb(213,213,213)"/>
<circle cx="421.3" cy="35.8" r="0.45" fill="rgb(203,203,203)"/>
<circle cx="424.6" cy="34.4" r="0.50" fill="rgb(174,174,174)"/>
<circle cx="423.0" cy="34.9" r="0.40" fill="rgb(174,174,174)"/>
<circle cx="425.7" cy="35.6" r="0.41" fill="rgb(218,218,218)"/>
<circle cx="422.2" cy="32.9" r="0.53" fill="rgb(186,186,186)"/>
<circle cx="422.5" cy="35.2" r="0.82" fill="rgb(225,225,225)"/>
<circle cx="420.5" cy="34.7" r="0.44" fill="rgb(171,171,171)"/>
<circle cx="422.2" cy="35.9" r="0.81" fill="rgb(174,174,174)"/>
<circle cx="427.8" cy="34.6" r="0.66" fill="rgb(173,173,173)"/>
<circle cx="422.8" cy="33.8" r="0.66" fill="rgb(224,224,224)"/>
<circle cx="425.9" cy="31.2" r="0.53" fill="rgb(187,187,187)"/>
<circle cx="425.4" cy="37.4" r="0.67" fill="rgb(212,212,212)"/>
<circle cx="340.4" cy="50.0" r="6.10" fill="rgb(226,226,226)"/>
<circle cx="356.8" cy="50.0" r="6.10" fill="rgb(226,226,226)"/>
<circle cx="373.4" cy="50.0" r="6.10" fill="rgb(226,226,226)"/>
<circle cx="390.2" cy="50.0" r="6.10" fill="rgb(226,226,226)"/>
<circle cx="407.4" cy="50.0" r="5.43" fill="rgb(168,168,168)"/>
<circle cx="406.2" cy="52.1" r="0.94" fill="rgb(52,52,52)"/>
<circle cx="410.2" cy="46.3" r="0.82" fill="rgb(52,52,52)"/>
<circle cx="407.9" cy="53.7" r="0.46" fill="rgb(226,226,226)"/>
<circle cx="410.1" cy="50.5" r="0.80" fill="rgb(226,226,226)"/>
<circle cx="410.7" cy="49.1" r="0.94" fill="rgb(52,52,52)"/>
<circle cx="410.4" cy="49.1" r="0.56" fill="rgb(226,226,226)"/>
<circle cx="408.2" cy="52.2" r="0.90" fill="rgb(52,52,52)"/>
<circle cx="409.3" cy="47.0" r="0.85" fill="rgb(52,52,52)"/>
<circle cx="411.0" cy="52.1" r="0.84" fill="rgb(52,52,52)"/>
<circle cx="407.4" cy="46.4" r="0.84" fill="rgb(226,226,226)"/>
<circle cx="405.1" cy="54.0" r="0.65" fill="rgb(52,52,52)"/>
<circle cx="403.3" cy="52.9" r="0.54" fill="rgb(52,52,52)"/>
<circle cx="408.8" cy="51.4" r="0.85" fill="rgb(52,52,52)"/>
<circle cx="410.2" cy="53.7" r="0.78" fill="rgb(52,52,52)"/>
<circle cx="405.1" cy="53.1" r="0.46" fill="rgb(226,226,226)"/>
<circle cx="411.5" cy="49.2" r="0.92" fill="rgb(226,226,226)"/>
<circle cx="403.0" cy="51.9" r="0.56" fill="rgb(52,52,52)"/>
<circle cx="407.4" cy="52.8" r="0.74" fill="rgb(226,226,226)"/>
<circle cx="407.2" cy="53.3" r="0.91" fill="rgb(226,226,226)"/>
<circle cx="405.3" cy="52.8" r="0.90" fill="rgb(52,52,52)"/>
<circle cx="403.1" cy="52.4" r="0.72" fill="rgb(226,226,226)"/>
<circle cx="406.7" cy="49.9" r="0.54" fill="rgb(226,226,226)"/>
<circle cx="412.0" cy="50.1" r="0.69" fill="rgb(226,226,226)"/>
<circle cx="406.8" cy="46.2" r="0.71" fill="rgb(226,226,226)"/>
<circle cx="403.1" cy="48.4" r="0.73" fill="rgb(226,226,226)"/>
<circle cx="407.4" cy="52.7" r="0.70" fill="rgb(52,52,52)"/>
<circle cx="420.1" cy="48.6" r="0.86" fill="rgb(191,191,191)"/>
<circle cx="421.2" cy="48.0" r="0.66" fill="rgb(207,207,207)"/>
<circle cx="420.5" cy="50.9" r="0.64" fill="rgb(222,222,222)"/>
<circle cx="422.2" cy="46.2" r="0.87" fill="rgb(180,180,180)"/>
<circle cx="419.6" cy="48.5" r="0.82" fill="rgb(173,173,173)"/>
<circle cx="425.5" cy="52.0" r="0.44" fill="rgb(179,179,179)"/>
<circle cx="426.6" cy="51.5" r="0.79" fill="rgb(219,219,219)"/>
<circle cx="425.5" cy="53.0" r="0.73" fill="rgb(173,173,173)"/>
<circle cx="426.6" cy="47.2" r="0.51" fill="rgb(223,223,223)"/>
<circle cx="421.1" cy="51.8" r="0.89" fill="rgb(215,215,215)"/>
<circle cx="425.0" cy="52.4" r="0.66" fill="rgb(185,185,185)"/>
<circle cx="424.3" cy="52.3" r="0.76" fill="rgb(165,165,165)"/>
<circle cx="420.8" cy="49.1" r="0.41" fill="rgb(185,185,185)"/>
<circle cx="340.4" cy="66.5" r="6.10" fill="rgb(226,226,226)"/>
<circle cx="356.8" cy="66.5" r="6.10" fill="rgb(226,226,226)"/>
<circle cx="373.4" cy="66.5" r="5.92" fill="rgb(187,187,187)"/>
<circle cx="370.8" cy="63.9" r="0.48" fill="rgb(113,113,113)"/>
<circle cx="378.0" cy="66.1" r="0.84" fill="rgb(113,113,113)"/>
<circle cx="375.5" cy="68.1" r="0.47" fill="rgb(113,113,113)"/>
<circle cx="373.9" cy="63.8" r="0.50" fill="rgb(113,113,113)"/>
<circle cx="369.0" cy="68.8" r="0.78" fill="rgb(113,113,113)"/>
<circle cx="373.3" cy="68.5" r="0.82" fill="rgb(113,113,113)"/>
<circle cx="369.5" cy="64.6" r="0.49" fill="rgb(113,113,113)"/>
<circle cx="377.4" cy="68.0" r="0.62" fill="rgb(113,113,113)"/>
<circle cx="390.2" cy="66.5" r="5.15" fill="rgb(154,154,154)"/>
<circle cx="394.5" cy="68.6" r="0.85" fill="rgb(47,47,47)"/>
<circle cx="394.1" cy="68.8" r="0.88" fill="rgb(226,226,226)"/>
<circle cx="387.5" cy="67.3" r="0.91" fill="rgb(47,47,47)"/>
<circle cx="390.0" cy="68.2" r="0.57" fill="rgb(226,226,226)"/>
<circle cx="391.7" cy="67.7" r="0.55" fill="rgb(226,226,226)"/>
<circle cx="389.2" cy="69.0" r="0.59" fill="rgb(47,47,47)"/>
<circle cx="388.1" cy="66.5" r="0.46" fill="rgb(226,226,226)"/>
<circle cx="390.2" cy="67.1" r="0.73" fill="rgb(47,47,47)"/>
<circle cx="391.5" cy="69.6" r="0.50" fill="rgb(47,47,47)"/>
<circle cx="391.6" cy="63.6" r="0.87" fill="rgb(226,226,226)"/>
<circle cx="387.5" cy="68.7" r="0.94" fill="rgb(47,47,47)"/>
<circle cx="387.7" cy="70.2" r="0.77" fill="rgb(47,47,47)"/>
<circle cx="387.8" cy="68.1" r="0.51" fill="rgb(226,226,226)"/>
<circle cx="394.0" cy="68.3" r="0.53" fill="rgb(226,226,226)"/>
<circle cx="394.1" cy="68.8" r="0.79" fill="rgb(47,47,47)"/>
<circle cx="389.7" cy="68.9" r="0.68" fill="rgb(226,226,226)"/>
<circle cx="392.0" cy="69.2" r="0.93" fill="rgb(226,226,226)"/>
<circle cx="393.8" cy="65.9" r="0.93" fill="rgb(226,226,226)"/>
<circle cx="389.1" cy="69.2" r="0.64" fill="rgb(226,226,226)"/>
<circle cx="386.8" cy="67.1" r="0.70" fill="rgb(226,226,226)"/>
<circle cx="392.7" cy="66.6" r="0.65" fill="rgb(226,226,226)"/>
<circle cx="390.9" cy="66.7" r="0.57" fill="rgb(226,226,226)"/>
<circle cx="387.1" cy="64.7" r="0.78" fill="rgb(47,47,47)"/>
<circle cx="389.2" cy="62.0" r="0.61" fill="rgb(226,226,226)"/>
<circle cx="392.1" cy="66.3" r="0.77" fill="rgb(47,47,47)"/>
<circle cx="394.5" cy="67.7" r="0.76" fill="rgb(47,47,47)"/>
<circle cx="407.0" cy="62.5" r="0.47" fill="rgb(196,196,196)"/>
<circle cx="403.3" cy="66.4" r="0.80" fill="rgb(215,215,215)"/>
<circle cx="403.8" cy="64.4" r="0.74" fill="rgb(207,207,207)"/>
<circle cx="407.5" cy="67.3" r="0.47" fill="rgb(186,186,186)"/>
<circle cx="410.6" cy="69.0" r="0.68" fill="rgb(203,203,203)"/>
<circle cx="404.8" cy="63.9" r="0.64" fill="rgb(165,165,165)"/>
<circle cx="408.5" cy="62.8" r="0.65" fill="rgb(197,197,197)"/>
<circle cx="406.8" cy="65.5" r="0.77" fill="rgb(180,180,180)"/>
<circle cx="409.4" cy="67.5" r="0.76" fill="rgb(177,177,177)"/>
<circle cx="407.1" cy="62.1" r="0.65" fill="rgb(188,188,188)"/>
<circle cx="403.8" cy="67.0" r="0.78" fill="rgb(202,202,202)"/>
<circle cx="406.6" cy="65.5" r="0.47" fill="rgb(180,180,180)"/>
<circle cx="407.3" cy="64.0" r="0.68" fill="rgb(165,165,165)"/>
<circle cx="409.5" cy="67.4" r="0.74" fill="rgb(207,207,207)"/>
<circle cx="406.3" cy="64.4" r="0.66" fill="rgb(193,193,193)"/>
<circle cx="405.9" cy="66.8" r="0.85" fill="rgb(176,176,176)"/>
<circle cx="426.9" cy="66.0" r="0.41" fill="rgb(192,192,192)"/>
<circle cx="425.0" cy="63.3" r="0.62" fill="rgb(181,181,181)"/>
<circle cx="424.4" cy="69.9" r="0.51" fill="rgb(200,200,200)"/>
<rect x="434.10" y="25.20" width="93.70" height="49.40" fill="#161616"/>
<circle cx="442.0" cy="33.4" r="5.60" fill="rgb(226,226,226)"/>
<circle cx="457.7" cy="33.4" r="5.60" fill="rgb(226,226,226)"/>
<circle cx="473.5" cy="33.4" r="5.60" fill="rgb(226,226,226)"/>
<circle cx="489.6" cy="33.4" r="5.43" fill="rgb(203,203,203)"/>
<circle cx="491.8" cy="36.1" r="0.83" fill="rgb(113,113,113)"/>
<circle cx="492.5" cy="36.6" r="0.65" fill="rgb(113,113,113)"/>
<circle cx="492.6" cy="30.8" r="0.54" fill="rgb(113,113,113)"/>
<circle cx="492.3" cy="31.4" r="0.46" fill="rgb(113,113,113)"/>
<circle cx="492.9" cy="33.5" r="0.63" fill="rgb(113,113,113)"/>
<circle cx="489.0" cy="35.1" r="0.59" fill="rgb(113,113,113)"/>
<circle cx="487.8" cy="37.4" r="0.45" fill="rgb(113,113,113)"/>
<circle cx="489.6" cy="29.0" r="0.50" fill="rgb(113,113,113)"/>
<circle cx="505.6" cy="33.4" r="4.61" fill="rgb(147,147,147)"/>
<circle cx="508.9" cy="31.8" r="0.59" fill="rgb(44,44,44)"/>
<circle cx="503.7" cy="35.4" r="0.74" fill="rgb(44,44,44)"/>
<circle cx="503.8" cy="35.6" r="0.47" fill="rgb(226,226,226)"/>
<circle cx="508.8" cy="35.8" r="0.92" fill="rgb(226,226,226)"/>
<circle cx="505.6" cy="35.7" r="0.54" fill="rgb(226,226,226)"/>
<circle cx="502.6" cy="36.5" r="0.86" fill="rgb(44,44,44)"/>
<circle cx="502.8" cy="30.3" r="0.72" fill="rgb(44,44,44)"/>
<circle cx="505.4" cy="32.4" r="0.68" fill="rgb(44,44,44)"/>
<circle cx="505.7" cy="29.9" r="0.47" fill="rgb(226,226,226)"/>
<circle cx="507.0" cy="32.7" r="0.62" fill="rgb(226,226,226)"/>
<circle cx="504.5" cy="37.0" r="0.58" fill="rgb(44,44,44)"/>
<circle cx="504.3" cy="31.4" r="0.65" fill="rgb(44,44,44)"/>
<circle cx="506.5" cy="34.9" r="0.90" fill="rgb(226,226,226)"/>
<circle cx="503.5" cy="33.4" r="0.95" fill="rgb(44,44,44)"/>
<circle cx="504.0" cy="33.9" r="0.50" fill="rgb(226,226,226)"/>
<circle cx="504.9" cy="34.5" r="0.58" fill="rgb(226,226,226)"/>
<circle cx="501.9" cy="31.7" r="0.66" fill="rgb(44,44,44)"/>
<circle cx="502.9" cy="35.0" r="0.62" fill="rgb(226,226,226)"/>
<circle cx="507.7" cy="34.3" r="0.51" fill="rgb(44,44,44)"/>
<circle cx="502.1" cy="33.3" r="0.56" fill="rgb(44,44,44)"/>
<circle cx="505.3" cy="35.6" r="0.67" fill="rgb(226,226,226)"/>
<circle cx="509.5" cy="32.2" r="0.46" fill="rgb(44,44,44)"/>
<circle cx="509.2" cy="34.1" r="0.69" fill="rgb(44,44,44)"/>
<circle cx="505.6" cy="33.4" r="0.91" fill="rgb(226,226,226)"/>
<circle cx="507.5" cy="29.8" r="0.57" fill="rgb(44,44,44)"/>
<circle cx="506.9" cy="34.5" r="0.79" fill="rgb(226,226,226)"/>
<circle cx="524.2" cy="32.3" r="0.72" fill="rgb(211,211,211)"/>
<circle cx="518.5" cy="34.1" r="0.42" fill="rgb(212,212,212)"/>
<circle cx="521.6" cy="37.0" r="0.72" fill="rgb(183,183,183)"/>
<circle cx="522.5" cy="34.8" r="0.72" fill="rgb(207,207,207)"/>
<circle cx="522.0" cy="34.0" r="0.66" fill="rgb(200,200,200)"/>
<circle cx="519.8" cy="34.5" r="0.70" fill="rgb(165,165,165)"/>
<circle cx="520.4" cy="35.8" r="0.88" fill="rgb(204,204,204)"/>
<circle cx="523.1" cy="31.7" r="0.52" fill="rgb(179,179,179)"/>
<circle cx="524.3" cy="32.6" r="0.55" fill="rgb(166,166,166)"/>
<circle cx="518.1" cy="33.4" r="0.61" fill="rgb(180,180,180)"/>
<circle cx="519.4" cy="30.3" r="0.51" fill="rgb(166,166,166)"/>
<circle cx="442.0" cy="49.7" r="5.60" fill="rgb(226,226,226)"/>
<circle cx="457.7" cy="49.7" r="5.60" fill="rgb(226,226,226)"/>
<circle cx="473.5" cy="49.7" r="5.43" fill="rgb(187,187,187)"/>
<circle cx="471.9" cy="52.3" r="0.72" fill="rgb(113,113,113)"/>
<circle cx="474.9" cy="53.7" r="0.75" fill="rgb(113,113,113)"/>
<circle cx="471.3" cy="49.6" r="0.84" fill="rgb(113,113,113)"/>
<circle cx="471.9" cy="53.7" r="0.54" fill="rgb(113,113,113)"/>
<circle cx="474.2" cy="53.8" r="0.57" fill="rgb(113,113,113)"/>
<circle cx="476.7" cy="48.7" r="0.52" fill="rgb(113,113,113)"/>
<circle cx="474.0" cy="52.7" r="0.72" fill="rgb(113,113,113)"/>
<circle cx="475.2" cy="49.1" r="0.61" fill="rgb(113,113,113)"/>
<circle cx="489.6" cy="49.7" r="4.48" fill="rgb(140,140,140)"/>
<circle cx="490.6" cy="53.8" r="0.48" fill="rgb(226,226,226)"/>
<circle cx="492.1" cy="50.7" r="0.89" fill="rgb(42,42,42)"/>
<circle cx="489.1" cy="45.5" r="0.61" fill="rgb(42,42,42)"/>
<circle cx="491.2" cy="53.5" r="0.47" fill="rgb(42,42,42)"/>
<circle cx="488.3" cy="47.5" r="0.62" fill="rgb(226,226,226)"/>
<circle cx="489.7" cy="49.9" r="0.63" fill="rgb(226,226,226)"/>
<circle cx="491.0" cy="49.3" r="0.55" fill="rgb(42,42,42)"/>
<circle cx="487.2" cy="52.7" r="0.67" fill="rgb(42,42,42)"/>
<circle cx="492.4" cy="50.6" r="0.91" fill="rgb(226,226,226)"/>
<circle cx="490.5" cy="52.1" r="0.47" fill="rgb(42,42,42)"/>
<circle cx="486.4" cy="51.7" r="0.47" fill="rgb(42,42,42)"/>
<circle cx="490.6" cy="49.9" r="0.58" fill="rgb(42,42,42)"/>
<circle cx="489.5" cy="45.7" r="0.59" fill="rgb(226,226,226)"/>
<circle cx="492.8" cy="48.8" r="0.81" fill="rgb(226,226,226)"/>
<circle cx="488.7" cy="51.7" r="0.83" fill="rgb(226,226,226)"/>
<circle cx="492.5" cy="48.0" r="0.46" fill="rgb(42,42,42)"/>
<circle cx="489.9" cy="52.6" r="0.93" fill="rgb(42,42,42)"/>
<circle cx="488.0" cy="51.1" r="0.70" fill="rgb(226,226,226)"/>
<circle cx="491.2" cy="48.9" r="0.82" fill="rgb(42,42,42)"/>
<circle cx="491.3" cy="46.3" r="0.61" fill="rgb(42,42,42)"/>
<circle cx="488.5" cy="52.0" r="0.49" fill="rgb(42,42,42)"/>
<circle cx="490.8" cy="53.2" r="0.48" fill="rgb(226,226,226)"/>
<circle cx="492.7" cy="50.4" r="0.94" fill="rgb(226,226,226)"/>
<circle cx="492.7" cy="46.9" r="0.49" fill="rgb(226,226,226)"/>
<circle cx="492.1" cy="51.4" r="0.67" fill="rgb(42,42,42)"/>
<circle cx="489.9" cy="52.4" r="0.79" fill="rgb(42,42,42)"/>
<circle cx="505.6" cy="46.4" r="0.73" fill="rgb(172,172,172)"/>
<circle cx="506.6" cy="48.1" r="0.68" fill="rgb(187,187,187)"/>
<circle cx="505.5" cy="48.1" r="0.52" fill="rgb(179,179,179)"/>
<circle cx="507.5" cy="52.5" r="0.69" fill="rgb(184,184,184)"/>
<circle cx="502.8" cy="51.9" r="0.65" fill="rgb(178,178,178)"/>
<circle cx="506.6" cy="47.0" r="0.90" fill="rgb(171,171,171)"/>
<circle cx="502.4" cy="50.2" r="0.82" fill="rgb(220,220,220)"/>
<circle cx="507.5" cy="50.2" r="0.46" fill="rgb(176,176,176)"/>
<circle cx="523.6" cy="49.3" r="0.87" fill="rgb(187,187,187)"/>
<circle cx="442.0" cy="65.5" r="5.60" fill="rgb(226,226,226)"/>
<circle cx="457.7" cy="65.5" r="5.60" fill="rgb(226,226,226)"/>
<circle cx="473.5" cy="65.5" r="5.60" fill="rgb(226,226,226)"/>
<circle cx="489.6" cy="65.5" r="5.43" fill="rgb(195,195,195)"/>
<circle cx="491.7" cy="63.1" r="0.55" fill="rgb(113,113,113)"/>
<circle cx="490.4" cy="60.9" r="0.49" fill="rgb(113,113,113)"/>
<circle cx="486.5" cy="63.4" r="0.54" fill="rgb(113,113,113)"/>
<circle cx="488.4" cy="66.8" r="0.53" fill="rgb(113,113,113)"/>
<circle cx="489.5" cy="69.2" r="0.71" fill="rgb(113,113,113)"/>
<circle cx="489.7" cy="66.0" r="0.58" fill="rgb(113,113,113)"/>
<circle cx="488.7" cy="63.7" r="0.57" fill="rgb(113,113,113)"/>
<circle cx="490.8" cy="69.6" r="0.67" fill="rgb(113,113,113)"/>
<circle cx="506.8" cy="66.0" r="0.60" fill="rgb(198,198,198)"/>
<circle cx="504.8" cy="64.6" r="0.48" fill="rgb(207,207,207)"/>
<circle cx="503.8" cy="66.7" r="0.55" fill="rgb(223,223,223)"/>
<circle cx="504.4" cy="68.3" r="0.58" fill="rgb(190,190,190)"/>
<circle cx="508.3" cy="62.4" r="0.58" fill="rgb(176,176,176)"/>
<circle cx="505.3" cy="63.7" r="0.40" fill="rgb(219,219,219)"/>
<circle cx="502.3" cy="67.2" r="0.60" fill="rgb(218,218,218)"/>
<circle cx="504.0" cy="65.9" r="0.41" fill="rgb(198,198,198)"/>
<circle cx="503.1" cy="62.5" r="0.44" fill="rgb(202,202,202)"/>
<circle cx="503.6" cy="67.6" r="0.47" fill="rgb(182,182,182)"/>
<circle cx="501.7" cy="65.0" r="0.45" fill="rgb(194,194,194)"/>
<circle cx="507.0" cy="61.7" r="0.50" fill="rgb(172,172,172)"/>
<circle cx="509.4" cy="64.1" r="0.64" fill="rgb(168,168,168)"/>
<circle cx="507.9" cy="64.4" r="0.85" fill="rgb(202,202,202)"/>
<circle cx="506.3" cy="64.0" r="0.79" fill="rgb(178,178,178)"/>
<circle cx="502.5" cy="67.6" r="0.81" fill="rgb(175,175,175)"/>
<circle cx="521.7" cy="67.8" r="0.66" fill="rgb(188,188,188)"/>
<circle cx="522.5" cy="66.8" r="0.76" fill="rgb(219,219,219)"/>
<circle cx="523.9" cy="66.2" r="0.78" fill="rgb(167,167,167)"/>
<circle cx="521.9" cy="64.4" r="0.70" fill="rgb(198,198,198)"/>
<circle cx="519.8" cy="64.0" r="0.61" fill="rgb(200,200,200)"/>
<circle cx="518.5" cy="66.9" r="0.62" fill="rgb(191,191,191)"/>
<circle cx="524.1" cy="65.9" r="0.64" fill="rgb(179,179,179)"/>
<circle cx="521.5" cy="62.2" r="0.63" fill="rgb(175,175,175)"/>
<circle cx="520.0" cy="65.7" r="0.46" fill="rgb(191,191,191)"/>
<circle cx="523.3" cy="66.9" r="0.66" fill="rgb(167,167,167)"/>
<circle cx="520.5" cy="64.7" r="0.77" fill="rgb(212,212,212)"/>
<rect x="530.40" y="25.10" width="93.80" height="49.80" fill="#161616"/>
<path d="M530.4 31.1 L530.4 25.1 Q531.4 26.1 536.4 25.1 Z" fill="#9a9a9a"/>
<circle cx="541.6" cy="36.1" r="5.30" fill="rgb(226,226,226)"/>
<circle cx="556.7" cy="36.1" r="5.30" fill="rgb(226,226,226)"/>
<circle cx="571.9" cy="36.1" r="5.30" fill="rgb(226,226,226)"/>
<circle cx="587.1" cy="36.1" r="5.30" fill="rgb(215,215,215)"/>
<circle cx="602.4" cy="36.1" r="4.60" fill="rgb(161,161,161)"/>
<circle cx="601.4" cy="36.0" r="0.64" fill="rgb(226,226,226)"/>
<circle cx="603.9" cy="35.6" r="0.95" fill="rgb(50,50,50)"/>
<circle cx="602.0" cy="32.2" r="0.94" fill="rgb(226,226,226)"/>
<circle cx="598.1" cy="36.3" r="0.53" fill="rgb(50,50,50)"/>
<circle cx="603.4" cy="32.0" r="0.63" fill="rgb(226,226,226)"/>
<circle cx="602.5" cy="34.4" r="0.59" fill="rgb(50,50,50)"/>
<circle cx="603.1" cy="34.6" r="0.91" fill="rgb(226,226,226)"/>
<circle cx="603.0" cy="38.3" r="0.61" fill="rgb(226,226,226)"/>
<circle cx="604.2" cy="36.5" r="0.92" fill="rgb(226,226,226)"/>
<circle cx="600.6" cy="32.4" r="0.84" fill="rgb(226,226,226)"/>
<circle cx="604.8" cy="38.2" r="0.63" fill="rgb(50,50,50)"/>
<circle cx="604.7" cy="33.8" r="0.89" fill="rgb(50,50,50)"/>
<circle cx="605.8" cy="38.8" r="0.65" fill="rgb(50,50,50)"/>
<circle cx="603.1" cy="34.0" r="0.74" fill="rgb(50,50,50)"/>
<circle cx="600.0" cy="39.0" r="0.54" fill="rgb(226,226,226)"/>
<circle cx="602.4" cy="35.1" r="0.58" fill="rgb(50,50,50)"/>
<circle cx="599.6" cy="32.8" r="0.78" fill="rgb(50,50,50)"/>
<circle cx="602.3" cy="36.3" r="0.52" fill="rgb(226,226,226)"/>
<circle cx="600.3" cy="34.2" r="0.90" fill="rgb(226,226,226)"/>
<circle cx="603.8" cy="37.6" r="0.46" fill="rgb(50,50,50)"/>
<circle cx="605.0" cy="36.1" r="0.63" fill="rgb(226,226,226)"/>
<circle cx="602.9" cy="39.4" r="0.55" fill="rgb(50,50,50)"/>
<circle cx="600.3" cy="34.0" r="0.92" fill="rgb(226,226,226)"/>
<circle cx="602.5" cy="37.8" r="0.77" fill="rgb(226,226,226)"/>
<circle cx="605.1" cy="33.3" r="0.58" fill="rgb(226,226,226)"/>
<circle cx="605.9" cy="36.4" r="0.63" fill="rgb(50,50,50)"/>
<circle cx="615.6" cy="34.3" r="0.87" fill="rgb(209,209,209)"/>
<circle cx="617.0" cy="39.3" r="0.42" fill="rgb(197,197,197)"/>
<circle cx="615.6" cy="37.0" r="0.43" fill="rgb(212,212,212)"/>
<circle cx="619.5" cy="36.3" r="0.87" fill="rgb(173,173,173)"/>
<circle cx="617.8" cy="38.6" r="0.65" fill="rgb(204,204,204)"/>
<circle cx="617.5" cy="34.8" r="0.55" fill="rgb(183,183,183)"/>
<circle cx="620.1" cy="37.1" r="0.79" fill="rgb(208,208,208)"/>
<circle cx="620.1" cy="36.2" r="0.77" fill="rgb(193,193,193)"/>
<circle cx="541.6" cy="51.4" r="5.30" fill="rgb(226,226,226)"/>
<circle cx="556.7" cy="51.4" r="5.30" fill="rgb(226,226,226)"/>
<circle cx="571.9" cy="51.4" r="5.30" fill="rgb(226,226,226)"/>
<circle cx="587.1" cy="51.4" r="5.30" fill="rgb(215,215,215)"/>
<circle cx="602.4" cy="51.4" r="4.48" fill="rgb(154,154,154)"/>
<circle cx="602.3" cy="48.5" r="0.50" fill="rgb(226,226,226)"/>
<circle cx="602.5" cy="52.2" r="0.82" fill="rgb(226,226,226)"/>
<circle cx="601.1" cy="47.7" r="0.58" fill="rgb(47,47,47)"/>
<circle cx="599.7" cy="50.5" r="0.71" fill="rgb(47,47,47)"/>
<circle cx="602.1" cy="54.8" r="0.56" fill="rgb(47,47,47)"/>
<circle cx="602.8" cy="51.0" r="0.57" fill="rgb(226,226,226)"/>
<circle cx="602.2" cy="47.3" r="0.61" fill="rgb(47,47,47)"/>
<circle cx="604.2" cy="49.7" r="0.90" fill="rgb(226,226,226)"/>
<circle cx="600.0" cy="48.8" r="0.94" fill="rgb(47,47,47)"/>
<circle cx="598.6" cy="52.1" r="0.88" fill="rgb(47,47,47)"/>
<circle cx="599.1" cy="52.8" r="0.60" fill="rgb(47,47,47)"/>
<circle cx="603.2" cy="54.7" r="0.91" fill="rgb(226,226,226)"/>
<circle cx="602.8" cy="52.0" r="0.91" fill="rgb(226,226,226)"/>
<circle cx="601.5" cy="52.7" r="0.47" fill="rgb(226,226,226)"/>
<circle cx="601.2" cy="48.2" r="0.82" fill="rgb(47,47,47)"/>
<circle cx="605.4" cy="52.7" r="0.86" fill="rgb(226,226,226)"/>
<circle cx="604.1" cy="47.8" r="0.88" fill="rgb(226,226,226)"/>
<circle cx="606.0" cy="49.3" r="0.55" fill="rgb(226,226,226)"/>
<circle cx="603.0" cy="51.9" r="0.86" fill="rgb(47,47,47)"/>
<circle cx="599.8" cy="48.5" r="0.59" fill="rgb(47,47,47)"/>
<circle cx="603.5" cy="52.2" r="0.55" fill="rgb(47,47,47)"/>
<circle cx="601.2" cy="53.9" r="0.58" fill="rgb(226,226,226)"/>
<circle cx="601.7" cy="54.9" r="0.61" fill="rgb(226,226,226)"/>
<circle cx="605.3" cy="50.7" r="0.76" fill="rgb(47,47,47)"/>
<circle cx="605.1" cy="51.9" r="0.84" fill="rgb(226,226,226)"/>
<circle cx="600.4" cy="54.3" r="0.56" fill="rgb(226,226,226)"/>
<circle cx="617.7" cy="50.6" r="0.81" fill="rgb(175,175,175)"/>
<circle cx="618.6" cy="51.4" r="0.78" fill="rgb(224,224,224)"/>
<circle cx="619.5" cy="51.5" r="0.65" fill="rgb(213,213,213)"/>
<circle cx="618.0" cy="53.7" r="0.57" fill="rgb(215,215,215)"/>
<circle cx="616.8" cy="54.8" r="0.54" fill="rgb(177,177,177)"/>
<circle cx="616.2" cy="49.0" r="0.45" fill="rgb(203,203,203)"/>
<circle cx="619.8" cy="52.9" r="0.75" fill="rgb(212,212,212)"/>
<circle cx="615.5" cy="49.9" r="0.60" fill="rgb(188,188,188)"/>
<circle cx="617.8" cy="50.7" r="0.84" fill="rgb(166,166,166)"/>
<circle cx="617.5" cy="53.2" r="0.85" fill="rgb(195,195,195)"/>
<circle cx="614.6" cy="53.7" r="0.52" fill="rgb(193,193,193)"/>
<circle cx="541.6" cy="66.8" r="5.30" fill="rgb(226,226,226)"/>
<circle cx="556.7" cy="66.8" r="5.30" fill="rgb(226,226,226)"/>
<circle cx="571.9" cy="66.8" r="5.30" fill="rgb(226,226,226)"/>
<circle cx="587.1" cy="66.8" r="5.14" fill="rgb(203,203,203)"/>
<circle cx="583.3" cy="66.0" r="0.75" fill="rgb(113,113,113)"/>
<circle cx="585.5" cy="64.7" r="0.58" fill="rgb(113,113,113)"/>
<circle cx="589.4" cy="70.2" r="0.71" fill="rgb(113,113,113)"/>
<circle cx="587.0" cy="64.9" r="0.63" fill="rgb(113,113,113)"/>
<circle cx="587.6" cy="63.4" r="0.50" fill="rgb(113,113,113)"/>
<circle cx="583.0" cy="67.8" r="0.55" fill="rgb(113,113,113)"/>
<circle cx="588.0" cy="69.1" r="0.73" fill="rgb(113,113,113)"/>
<circle cx="588.1" cy="65.3" r="0.51" fill="rgb(113,113,113)"/>
<circle cx="602.4" cy="66.8" r="4.36" fill="rgb(147,147,147)"/>
<circle cx="602.4" cy="69.2" r="0.53" fill="rgb(226,226,226)"/>
<circle cx="601.6" cy="68.4" r="0.81" fill="rgb(44,44,44)"/>
<circle cx="605.7" cy="69.2" r="0.64" fill="rgb(226,226,226)"/>
<circle cx="606.1" cy="66.4" r="0.67" fill="rgb(44,44,44)"/>
<circle cx="603.5" cy="69.9" r="0.55" fill="rgb(226,226,226)"/>
<circle cx="601.8" cy="67.3" r="0.85" fill="rgb(226,226,226)"/>
<circle cx="601.4" cy="64.1" r="0.68" fill="rgb(44,44,44)"/>
<circle cx="604.4" cy="69.3" r="0.82" fill="rgb(226,226,226)"/>
<circle cx="604.7" cy="65.3" r="0.82" fill="rgb(44,44,44)"/>
<circle cx="600.7" cy="67.7" r="0.89" fill="rgb(44,44,44)"/>
<circle cx="602.9" cy="63.4" r="0.79" fill="rgb(44,44,44)"/>
<circle cx="600.6" cy="64.6" r="0.76" fill="rgb(226,226,226)"/>
<circle cx="604.6" cy="68.3" r="0.81" fill="rgb(44,44,44)"/>
<circle cx="601.0" cy="65.3" r="0.68" fill="rgb(226,226,226)"/>
<circle cx="600.5" cy="65.0" r="0.92" fill="rgb(44,44,44)"/>
<circle cx="603.8" cy="69.9" r="0.64" fill="rgb(44,44,44)"/>
<circle cx="598.3" cy="67.1" r="0.72" fill="rgb(226,226,226)"/>
<circle cx="604.3" cy="69.9" r="0.71" fill="rgb(44,44,44)"/>
<circle cx="604.9" cy="68.7" r="0.81" fill="rgb(226,226,226)"/>
<circle cx="599.1" cy="66.5" r="0.71" fill="rgb(44,44,44)"/>
<circle cx="599.0" cy="69.0" r="0.79" fill="rgb(226,226,226)"/>
<circle cx="599.6" cy="69.1" r="0.94" fill="rgb(226,226,226)"/>
<circle cx="601.8" cy="67.6" r="0.65" fill="rgb(226,226,226)"/>
<circle cx="605.1" cy="67.0" r="0.80" fill="rgb(226,226,226)"/>
<circle cx="601.1" cy="68.5" r="0.82" fill="rgb(226,226,226)"/>
<circle cx="605.2" cy="65.7" r="0.85" fill="rgb(226,226,226)"/>
<circle cx="615.7" cy="67.8" r="0.46" fill="rgb(212,212,212)"/>
<circle cx="618.0" cy="64.2" r="0.63" fill="rgb(199,199,199)"/>
<circle cx="617.5" cy="70.2" r="0.58" fill="rgb(203,203,203)"/>
<circle cx="618.3" cy="63.9" r="0.63" fill="rgb(182,182,182)"/>
<circle cx="615.8" cy="66.4" r="0.82" fill="rgb(186,186,186)"/>
<circle cx="618.1" cy="65.3" r="0.59" fill="rgb(180,180,180)"/>
<circle cx="615.6" cy="67.5" r="0.40" fill="rgb(208,208,208)"/>
<circle cx="616.7" cy="68.5" r="0.55" fill="rgb(194,194,194)"/>
<circle cx="614.4" cy="68.0" r="0.73" fill="rgb(186,186,186)"/>
<circle cx="620.0" cy="65.4" r="0.43" fill="rgb(215,215,215)"/>
<circle cx="619.6" cy="65.0" r="0.47" fill="rgb(215,215,215)"/>
<text x="269.20" y="97.00" font-size="17.00" text-anchor="start" fill="#000" font-weight="bold"><tspan>c</tspan></text>
<text x="451.00" y="96.80" font-size="10.00" text-anchor="middle" fill="#1a1a1a"><tspan>1 M NaCl (3d)</tspan></text>
<text x="550.70" y="97.00" font-size="10.00" text-anchor="middle" fill="#1a1a1a"><tspan>YPD</tspan></text>
<text x="396.80" y="112.30" font-size="10.00" text-anchor="end" fill="#1a1a1a"><tspan font-style="italic">Km</tspan><tspan>-V</tspan></text>
<text x="396.80" y="128.20" font-size="10.00" text-anchor="end" fill="#1a1a1a"><tspan font-style="italic">Sc</tspan><tspan>-R3</tspan></text>
<text x="396.80" y="144.10" font-size="10.00" text-anchor="end" fill="#1a1a1a"><tspan>KS-R3</tspan></text>
<text x="396.80" y="160.00" font-size="10.00" text-anchor="end" fill="#1a1a1a"><tspan font-style="italic">Km</tspan><tspan>[</tspan><tspan font-style="italic">ScSPS22</tspan><tspan font-size="6.2" dy="1.2">CEN</tspan><tspan dy="-1.2">]</tspan></text>
<text x="396.80" y="175.90" font-size="10.00" text-anchor="end" fill="#1a1a1a"><tspan font-style="italic">Km</tspan><tspan>[</tspan><tspan font-style="italic">KmSPS22</tspan><tspan font-size="6.2" dy="1.2">CEN</tspan><tspan dy="-1.2">]</tspan></text>
<text x="396.80" y="191.80" font-size="10.00" text-anchor="end" fill="#1a1a1a"><tspan font-style="italic">Km</tspan><tspan>[P</tspan><tspan font-style="italic">Km-ScSPS22</tspan><tspan font-size="6.2" dy="1.2">CEN</tspan><tspan dy="-1.2">]</tspan></text>
<rect x="403.20" y="102.30" width="93.90" height="94.20" fill="#0e0e0e"/>
<circle cx="409.5" cy="109.0" r="5.10" fill="rgb(226,226,226)"/>
<circle cx="426.0" cy="109.0" r="4.95" fill="rgb(183,183,183)"/>
<circle cx="425.7" cy="108.6" r="0.50" fill="rgb(132,132,132)"/>
<circle cx="429.2" cy="108.0" r="0.60" fill="rgb(132,132,132)"/>
<circle cx="427.2" cy="109.9" r="0.59" fill="rgb(132,132,132)"/>
<circle cx="426.4" cy="106.6" r="0.56" fill="rgb(132,132,132)"/>
<circle cx="429.0" cy="106.9" r="0.57" fill="rgb(132,132,132)"/>
<circle cx="428.5" cy="107.0" r="0.81" fill="rgb(132,132,132)"/>
<circle cx="442.0" cy="109.0" r="4.42" fill="rgb(159,159,159)"/>
<circle cx="440.1" cy="105.5" r="0.87" fill="rgb(43,43,43)"/>
<circle cx="443.1" cy="112.3" r="0.82" fill="rgb(226,226,226)"/>
<circle cx="438.3" cy="110.5" r="0.58" fill="rgb(43,43,43)"/>
<circle cx="442.2" cy="110.6" r="0.48" fill="rgb(226,226,226)"/>
<circle cx="440.4" cy="109.3" r="0.70" fill="rgb(226,226,226)"/>
<circle cx="438.2" cy="108.0" r="0.87" fill="rgb(226,226,226)"/>
<circle cx="438.9" cy="109.6" r="0.87" fill="rgb(43,43,43)"/>
<circle cx="440.1" cy="110.9" r="0.49" fill="rgb(43,43,43)"/>
<circle cx="439.8" cy="106.5" r="0.75" fill="rgb(226,226,226)"/>
<circle cx="440.3" cy="105.3" r="0.94" fill="rgb(226,226,226)"/>
<circle cx="439.1" cy="108.8" r="0.47" fill="rgb(43,43,43)"/>
<circle cx="441.3" cy="105.7" r="0.88" fill="rgb(226,226,226)"/>
<circle cx="440.1" cy="111.2" r="0.84" fill="rgb(226,226,226)"/>
<circle cx="442.7" cy="111.7" r="0.73" fill="rgb(226,226,226)"/>
<circle cx="443.1" cy="107.0" r="0.65" fill="rgb(43,43,43)"/>
<circle cx="439.8" cy="108.9" r="0.94" fill="rgb(226,226,226)"/>
<circle cx="439.9" cy="105.9" r="0.61" fill="rgb(226,226,226)"/>
<circle cx="441.0" cy="112.1" r="0.84" fill="rgb(43,43,43)"/>
<circle cx="445.5" cy="109.9" r="0.72" fill="rgb(43,43,43)"/>
<circle cx="444.2" cy="109.7" r="0.54" fill="rgb(226,226,226)"/>
<circle cx="444.9" cy="107.4" r="0.84" fill="rgb(43,43,43)"/>
<circle cx="444.8" cy="107.2" r="0.76" fill="rgb(43,43,43)"/>
<circle cx="440.9" cy="105.9" r="0.56" fill="rgb(43,43,43)"/>
<circle cx="440.6" cy="106.5" r="0.50" fill="rgb(43,43,43)"/>
<circle cx="442.3" cy="109.7" r="0.91" fill="rgb(43,43,43)"/>
<circle cx="440.6" cy="106.9" r="0.84" fill="rgb(43,43,43)"/>
<circle cx="456.7" cy="108.3" r="0.55" fill="rgb(189,189,189)"/>
<circle cx="457.4" cy="111.2" r="0.72" fill="rgb(221,221,221)"/>
<circle cx="461.0" cy="109.9" r="0.42" fill="rgb(169,169,169)"/>
<circle cx="459.4" cy="106.4" r="0.86" fill="rgb(190,190,190)"/>
<circle cx="460.7" cy="109.2" r="0.70" fill="rgb(222,222,222)"/>
<circle cx="460.9" cy="108.7" r="0.61" fill="rgb(168,168,168)"/>
<circle cx="457.3" cy="107.6" r="0.48" fill="rgb(163,163,163)"/>
<circle cx="461.5" cy="109.1" r="0.46" fill="rgb(223,223,223)"/>
<circle cx="461.4" cy="110.8" r="0.46" fill="rgb(163,163,163)"/>
<circle cx="458.0" cy="107.2" r="0.77" fill="rgb(174,174,174)"/>
<circle cx="461.5" cy="110.0" r="0.76" fill="rgb(216,216,216)"/>
<circle cx="458.3" cy="107.9" r="0.71" fill="rgb(207,207,207)"/>
<circle cx="454.9" cy="109.9" r="0.53" fill="rgb(223,223,223)"/>
<circle cx="458.3" cy="108.6" r="0.41" fill="rgb(203,203,203)"/>
<circle cx="458.8" cy="108.0" r="0.56" fill="rgb(208,208,208)"/>
<circle cx="460.1" cy="112.0" r="0.64" fill="rgb(166,166,166)"/>
<circle cx="472.8" cy="110.8" r="0.62" fill="rgb(205,205,205)"/>
<circle cx="476.3" cy="111.3" r="0.58" fill="rgb(203,203,203)"/>
<circle cx="473.1" cy="107.5" r="0.59" fill="rgb(212,212,212)"/>
<circle cx="477.2" cy="108.0" r="0.68" fill="rgb(180,180,180)"/>
<circle cx="477.5" cy="110.2" r="0.75" fill="rgb(215,215,215)"/>
<circle cx="473.2" cy="111.2" r="0.89" fill="rgb(215,215,215)"/>
<circle cx="473.0" cy="107.9" r="0.61" fill="rgb(218,218,218)"/>
<circle cx="472.6" cy="110.9" r="0.70" fill="rgb(219,219,219)"/>
<circle cx="491.0" cy="107.6" r="0.40" fill="rgb(179,179,179)"/>
<circle cx="409.5" cy="124.7" r="4.95" fill="rgb(103,103,103)"/>
<circle cx="406.7" cy="126.2" r="0.83" fill="rgb(76,76,76)"/>
<circle cx="410.1" cy="124.2" r="0.83" fill="rgb(76,76,76)"/>
<circle cx="410.9" cy="121.2" r="0.73" fill="rgb(76,76,76)"/>
<circle cx="408.9" cy="128.4" r="0.82" fill="rgb(76,76,76)"/>
<circle cx="407.9" cy="121.1" r="0.64" fill="rgb(76,76,76)"/>
<circle cx="412.1" cy="126.2" r="0.82" fill="rgb(76,76,76)"/>
<circle cx="426.0" cy="124.7" r="4.95" fill="rgb(56,56,56)"/>
<circle cx="427.1" cy="128.1" r="0.87" fill="rgb(43,43,43)"/>
<circle cx="426.3" cy="127.9" r="0.77" fill="rgb(43,43,43)"/>
<circle cx="424.2" cy="125.1" r="0.60" fill="rgb(43,43,43)"/>
<circle cx="426.0" cy="121.1" r="0.68" fill="rgb(43,43,43)"/>
<circle cx="429.1" cy="126.6" r="0.81" fill="rgb(43,43,43)"/>
<circle cx="426.3" cy="127.8" r="0.86" fill="rgb(43,43,43)"/>
<circle cx="442.0" cy="124.7" r="4.95" fill="rgb(35,35,35)"/>
<circle cx="444.2" cy="122.8" r="0.69" fill="rgb(28,28,28)"/>
<circle cx="440.5" cy="123.8" r="0.58" fill="rgb(28,28,28)"/>
<circle cx="443.4" cy="127.8" r="0.65" fill="rgb(28,28,28)"/>
<circle cx="439.6" cy="123.7" r="0.71" fill="rgb(28,28,28)"/>
<circle cx="442.5" cy="125.4" r="0.90" fill="rgb(28,28,28)"/>
<circle cx="441.1" cy="125.6" r="0.75" fill="rgb(28,28,28)"/>
<circle cx="458.7" cy="123.6" r="0.70" fill="rgb(184,184,184)"/>
<circle cx="409.5" cy="140.8" r="5.10" fill="rgb(226,226,226)"/>
<circle cx="426.0" cy="140.8" r="5.10" fill="rgb(226,226,226)"/>
<circle cx="442.0" cy="140.8" r="4.95" fill="rgb(194,194,194)"/>
<circle cx="441.4" cy="140.7" r="0.46" fill="rgb(109,109,109)"/>
<circle cx="446.0" cy="140.6" r="0.64" fill="rgb(109,109,109)"/>
<circle cx="440.0" cy="139.9" r="0.76" fill="rgb(109,109,109)"/>
<circle cx="438.2" cy="142.7" r="0.76" fill="rgb(109,109,109)"/>
<circle cx="443.8" cy="136.9" r="0.55" fill="rgb(109,109,109)"/>
<circle cx="443.9" cy="141.3" r="0.52" fill="rgb(109,109,109)"/>
<circle cx="442.8" cy="141.3" r="0.67" fill="rgb(109,109,109)"/>
<circle cx="444.0" cy="138.7" r="0.83" fill="rgb(109,109,109)"/>
<circle cx="458.4" cy="140.8" r="4.54" fill="rgb(166,166,166)"/>
<circle cx="459.3" cy="140.2" r="0.65" fill="rgb(45,45,45)"/>
<circle cx="461.5" cy="143.7" r="0.73" fill="rgb(226,226,226)"/>
<circle cx="455.7" cy="137.5" r="0.65" fill="rgb(45,45,45)"/>
<circle cx="456.8" cy="141.3" r="0.95" fill="rgb(45,45,45)"/>
<circle cx="458.5" cy="141.6" r="0.63" fill="rgb(226,226,226)"/>
<circle cx="461.8" cy="138.4" r="0.47" fill="rgb(45,45,45)"/>
<circle cx="459.2" cy="137.3" r="0.94" fill="rgb(45,45,45)"/>
<circle cx="459.9" cy="141.4" r="0.92" fill="rgb(45,45,45)"/>
<circle cx="457.4" cy="138.7" r="0.83" fill="rgb(45,45,45)"/>
<circle cx="460.3" cy="142.3" r="0.51" fill="rgb(226,226,226)"/>
<circle cx="456.6" cy="141.0" r="0.52" fill="rgb(226,226,226)"/>
<circle cx="458.2" cy="140.4" r="0.55" fill="rgb(45,45,45)"/>
<circle cx="462.4" cy="141.7" r="0.92" fill="rgb(226,226,226)"/>
<circle cx="461.1" cy="137.8" r="0.67" fill="rgb(226,226,226)"/>
<circle cx="461.8" cy="143.2" r="0.76" fill="rgb(45,45,45)"/>
<circle cx="456.0" cy="141.5" r="0.69" fill="rgb(45,45,45)"/>
<circle cx="457.3" cy="139.6" r="0.48" fill="rgb(226,226,226)"/>
<circle cx="457.7" cy="137.7" r="0.89" fill="rgb(226,226,226)"/>
<circle cx="458.1" cy="143.6" r="0.59" fill="rgb(226,226,226)"/>
<circle cx="459.7" cy="138.7" r="0.70" fill="rgb(226,226,226)"/>
<circle cx="456.7" cy="144.5" r="0.94" fill="rgb(226,226,226)"/>
<circle cx="462.2" cy="142.2" r="0.56" fill="rgb(45,45,45)"/>
<circle cx="456.1" cy="141.1" r="0.55" fill="rgb(226,226,226)"/>
<circle cx="455.6" cy="144.0" r="0.91" fill="rgb(45,45,45)"/>
<circle cx="460.3" cy="142.1" r="0.48" fill="rgb(45,45,45)"/>
<circle cx="458.1" cy="138.5" r="0.46" fill="rgb(45,45,45)"/>
<circle cx="475.3" cy="138.8" r="0.47" fill="rgb(162,162,162)"/>
<circle cx="475.8" cy="138.5" r="0.49" fill="rgb(190,190,190)"/>
<circle cx="476.0" cy="139.9" r="0.69" fill="rgb(171,171,171)"/>
<circle cx="475.9" cy="143.8" r="0.76" fill="rgb(174,174,174)"/>
<circle cx="475.5" cy="141.3" r="0.70" fill="rgb(193,193,193)"/>
<circle cx="474.2" cy="142.5" r="0.71" fill="rgb(207,207,207)"/>
<circle cx="475.6" cy="138.2" r="0.50" fill="rgb(166,166,166)"/>
<circle cx="474.2" cy="138.4" r="0.76" fill="rgb(165,165,165)"/>
<circle cx="475.3" cy="138.8" r="0.82" fill="rgb(217,217,217)"/>
<circle cx="474.0" cy="140.8" r="0.86" fill="rgb(192,192,192)"/>
<circle cx="475.8" cy="139.4" r="0.49" fill="rgb(215,215,215)"/>
<circle cx="473.5" cy="141.9" r="0.59" fill="rgb(200,200,200)"/>
<circle cx="477.2" cy="140.9" r="0.62" fill="rgb(195,195,195)"/>
<circle cx="476.8" cy="143.0" r="0.81" fill="rgb(217,217,217)"/>
<circle cx="473.1" cy="143.6" r="0.59" fill="rgb(210,210,210)"/>
<circle cx="477.7" cy="142.1" r="0.88" fill="rgb(193,193,193)"/>
<circle cx="488.1" cy="140.6" r="0.67" fill="rgb(163,163,163)"/>
<circle cx="492.0" cy="140.5" r="0.49" fill="rgb(168,168,168)"/>
<circle cx="490.5" cy="143.8" r="0.42" fill="rgb(168,168,168)"/>
<circle cx="490.0" cy="139.4" r="0.41" fill="rgb(200,200,200)"/>
<circle cx="488.4" cy="139.7" r="0.75" fill="rgb(168,168,168)"/>
<circle cx="492.4" cy="138.8" r="0.42" fill="rgb(170,170,170)"/>
<circle cx="488.2" cy="140.9" r="0.54" fill="rgb(170,170,170)"/>
<circle cx="489.5" cy="141.5" r="0.70" fill="rgb(217,217,217)"/>
<circle cx="409.5" cy="156.7" r="5.10" fill="rgb(226,226,226)"/>
<circle cx="426.0" cy="156.7" r="5.10" fill="rgb(226,226,226)"/>
<circle cx="442.0" cy="156.7" r="4.95" fill="rgb(202,202,202)"/>
<circle cx="444.0" cy="159.3" r="0.75" fill="rgb(109,109,109)"/>
<circle cx="444.0" cy="160.1" r="0.83" fill="rgb(109,109,109)"/>
<circle cx="439.8" cy="158.5" r="0.79" fill="rgb(109,109,109)"/>
<circle cx="439.3" cy="156.3" r="0.83" fill="rgb(109,109,109)"/>
<circle cx="442.4" cy="154.2" r="0.55" fill="rgb(109,109,109)"/>
<circle cx="440.5" cy="159.2" r="0.84" fill="rgb(109,109,109)"/>
<circle cx="443.4" cy="152.8" r="0.78" fill="rgb(109,109,109)"/>
<circle cx="442.6" cy="155.9" r="0.66" fill="rgb(109,109,109)"/>
<circle cx="458.4" cy="156.7" r="4.42" fill="rgb(159,159,159)"/>
<circle cx="462.3" cy="155.6" r="0.66" fill="rgb(226,226,226)"/>
<circle cx="456.7" cy="154.8" r="0.48" fill="rgb(226,226,226)"/>
<circle cx="455.7" cy="157.9" r="0.52" fill="rgb(226,226,226)"/>
<circle cx="462.0" cy="156.0" r="0.77" fill="rgb(43,43,43)"/>
<circle cx="459.8" cy="153.0" r="0.47" fill="rgb(43,43,43)"/>
<circle cx="457.0" cy="155.0" r="0.59" fill="rgb(43,43,43)"/>
<circle cx="454.5" cy="155.6" r="0.58" fill="rgb(43,43,43)"/>
<circle cx="455.7" cy="156.3" r="0.59" fill="rgb(43,43,43)"/>
<circle cx="457.2" cy="159.9" r="0.75" fill="rgb(226,226,226)"/>
<circle cx="461.3" cy="155.9" r="0.68" fill="rgb(226,226,226)"/>
<circle cx="456.8" cy="156.4" r="0.52" fill="rgb(226,226,226)"/>
<circle cx="457.7" cy="159.3" r="0.57" fill="rgb(226,226,226)"/>
<circle cx="461.0" cy="158.3" r="0.75" fill="rgb(43,43,43)"/>
<circle cx="455.3" cy="155.3" r="0.81" fill="rgb(226,226,226)"/>
<circle cx="455.4" cy="157.5" r="0.68" fill="rgb(43,43,43)"/>
<circle cx="457.6" cy="158.6" r="0.71" fill="rgb(226,226,226)"/>
<circle cx="456.0" cy="158.9" r="0.63" fill="rgb(226,226,226)"/>
<circle cx="459.7" cy="155.1" r="0.70" fill="rgb(43,43,43)"/>
<circle cx="457.5" cy="160.8" r="0.84" fill="rgb(226,226,226)"/>
<circle cx="459.0" cy="157.6" r="0.67" fill="rgb(43,43,43)"/>
<circle cx="460.8" cy="157.7" r="0.82" fill="rgb(226,226,226)"/>
<circle cx="459.9" cy="158.0" r="0.82" fill="rgb(43,43,43)"/>
<circle cx="459.8" cy="158.7" r="0.79" fill="rgb(226,226,226)"/>
<circle cx="455.5" cy="154.1" r="0.71" fill="rgb(43,43,43)"/>
<circle cx="458.1" cy="153.1" r="0.69" fill="rgb(43,43,43)"/>
<circle cx="459.2" cy="153.2" r="0.51" fill="rgb(43,43,43)"/>
<circle cx="474.7" cy="156.5" r="0.78" fill="rgb(199,199,199)"/>
<circle cx="470.8" cy="156.7" r="0.69" fill="rgb(188,188,188)"/>
<circle cx="475.2" cy="153.3" r="0.70" fill="rgb(186,186,186)"/>
<circle cx="472.1" cy="157.4" r="0.76" fill="rgb(181,181,181)"/>
<circle cx="472.4" cy="158.5" r="0.59" fill="rgb(182,182,182)"/>
<circle cx="475.3" cy="153.4" r="0.65" fill="rgb(190,190,190)"/>
<circle cx="475.3" cy="158.6" r="0.47" fill="rgb(198,198,198)"/>
<circle cx="473.5" cy="156.2" r="0.86" fill="rgb(182,182,182)"/>
<circle cx="476.4" cy="153.9" r="0.88" fill="rgb(175,175,175)"/>
<circle cx="471.3" cy="158.3" r="0.41" fill="rgb(165,165,165)"/>
<circle cx="472.1" cy="155.7" r="0.86" fill="rgb(211,211,211)"/>
<circle cx="470.9" cy="155.8" r="0.66" fill="rgb(195,195,195)"/>
<circle cx="473.6" cy="154.6" r="0.58" fill="rgb(200,200,200)"/>
<circle cx="472.3" cy="159.6" r="0.74" fill="rgb(195,195,195)"/>
<circle cx="476.4" cy="158.0" r="0.60" fill="rgb(198,198,198)"/>
<circle cx="471.4" cy="155.1" r="0.88" fill="rgb(193,193,193)"/>
<circle cx="488.1" cy="157.6" r="0.90" fill="rgb(184,184,184)"/>
<circle cx="487.6" cy="156.1" r="0.49" fill="rgb(182,182,182)"/>
<circle cx="493.4" cy="156.3" r="0.66" fill="rgb(169,169,169)"/>
<circle cx="492.6" cy="155.0" r="0.81" fill="rgb(225,225,225)"/>
<circle cx="492.1" cy="155.3" r="0.48" fill="rgb(180,180,180)"/>
<circle cx="488.2" cy="156.5" r="0.49" fill="rgb(174,174,174)"/>
<circle cx="488.8" cy="154.9" r="0.58" fill="rgb(225,225,225)"/>
<circle cx="490.1" cy="156.2" r="0.61" fill="rgb(212,212,212)"/>
<circle cx="409.5" cy="172.5" r="5.10" fill="rgb(226,226,226)"/>
<circle cx="426.0" cy="172.5" r="4.95" fill="rgb(186,186,186)"/>
<circle cx="424.7" cy="175.9" r="0.45" fill="rgb(109,109,109)"/>
<circle cx="424.7" cy="176.2" r="0.68" fill="rgb(109,109,109)"/>
<circle cx="425.1" cy="170.8" r="0.65" fill="rgb(109,109,109)"/>
<circle cx="423.9" cy="171.8" r="0.71" fill="rgb(109,109,109)"/>
<circle cx="421.8" cy="171.6" r="0.68" fill="rgb(109,109,109)"/>
<circle cx="424.7" cy="173.3" r="0.51" fill="rgb(109,109,109)"/>
<circle cx="426.1" cy="171.1" r="0.49" fill="rgb(109,109,109)"/>
<circle cx="427.5" cy="175.3" r="0.78" fill="rgb(109,109,109)"/>
<circle cx="442.0" cy="172.5" r="4.31" fill="rgb(151,151,151)"/>
<circle cx="439.2" cy="170.1" r="0.46" fill="rgb(226,226,226)"/>
<circle cx="442.3" cy="170.2" r="0.63" fill="rgb(40,40,40)"/>
<circle cx="443.0" cy="174.3" r="0.90" fill="rgb(226,226,226)"/>
<circle cx="439.9" cy="171.3" r="0.64" fill="rgb(226,226,226)"/>
<circle cx="445.6" cy="173.8" r="0.93" fill="rgb(40,40,40)"/>
<circle cx="439.0" cy="173.7" r="0.47" fill="rgb(226,226,226)"/>
<circle cx="445.4" cy="170.9" r="0.90" fill="rgb(226,226,226)"/>
<circle cx="442.9" cy="170.4" r="0.93" fill="rgb(40,40,40)"/>
<circle cx="438.0" cy="172.6" r="0.64" fill="rgb(226,226,226)"/>
<circle cx="441.6" cy="170.6" r="0.89" fill="rgb(226,226,226)"/>
<circle cx="438.4" cy="172.9" r="0.54" fill="rgb(226,226,226)"/>
<circle cx="440.9" cy="173.9" r="0.60" fill="rgb(40,40,40)"/>
<circle cx="440.7" cy="172.0" r="0.64" fill="rgb(226,226,226)"/>
<circle cx="441.1" cy="173.1" r="0.86" fill="rgb(226,226,226)"/>
<circle cx="440.8" cy="174.1" r="0.59" fill="rgb(226,226,226)"/>
<circle cx="442.1" cy="173.3" r="0.62" fill="rgb(40,40,40)"/>
<circle cx="443.9" cy="175.4" r="0.58" fill="rgb(226,226,226)"/>
<circle cx="442.7" cy="171.2" r="0.87" fill="rgb(226,226,226)"/>
<circle cx="442.6" cy="171.0" r="0.81" fill="rgb(226,226,226)"/>
<circle cx="439.1" cy="175.3" r="0.93" fill="rgb(226,226,226)"/>
<circle cx="440.0" cy="172.4" r="0.52" fill="rgb(226,226,226)"/>
<circle cx="441.4" cy="170.5" r="0.74" fill="rgb(40,40,40)"/>
<circle cx="440.6" cy="174.0" r="0.56" fill="rgb(40,40,40)"/>
<circle cx="443.0" cy="171.5" r="0.72" fill="rgb(226,226,226)"/>
<circle cx="441.5" cy="176.1" r="0.78" fill="rgb(226,226,226)"/>
<circle cx="439.9" cy="171.6" r="0.49" fill="rgb(226,226,226)"/>
<circle cx="459.9" cy="175.6" r="0.56" fill="rgb(204,204,204)"/>
<circle cx="460.6" cy="174.3" r="0.58" fill="rgb(194,194,194)"/>
<circle cx="458.1" cy="173.4" r="0.56" fill="rgb(176,176,176)"/>
<circle cx="460.6" cy="174.7" r="0.54" fill="rgb(188,188,188)"/>
<circle cx="461.2" cy="170.7" r="0.84" fill="rgb(217,217,217)"/>
<circle cx="459.7" cy="173.9" r="0.41" fill="rgb(205,205,205)"/>
<circle cx="457.3" cy="170.6" r="0.61" fill="rgb(204,204,204)"/>
<circle cx="457.8" cy="170.7" r="0.82" fill="rgb(184,184,184)"/>
<circle cx="457.3" cy="171.4" r="0.46" fill="rgb(220,220,220)"/>
<circle cx="458.1" cy="169.4" r="0.42" fill="rgb(164,164,164)"/>
<circle cx="459.3" cy="173.9" r="0.55" fill="rgb(186,186,186)"/>
<circle cx="460.4" cy="173.0" r="0.72" fill="rgb(173,173,173)"/>
<circle cx="459.9" cy="170.1" r="0.76" fill="rgb(178,178,178)"/>
<circle cx="455.6" cy="173.7" r="0.57" fill="rgb(162,162,162)"/>
<circle cx="460.1" cy="169.7" r="0.54" fill="rgb(165,165,165)"/>
<circle cx="460.2" cy="170.2" r="0.42" fill="rgb(177,177,177)"/>
<circle cx="476.6" cy="174.3" r="0.51" fill="rgb(220,220,220)"/>
<circle cx="474.5" cy="171.6" r="0.75" fill="rgb(187,187,187)"/>
<circle cx="474.5" cy="169.7" r="0.54" fill="rgb(168,168,168)"/>
<circle cx="476.4" cy="171.8" r="0.87" fill="rgb(206,206,206)"/>
<circle cx="474.3" cy="169.7" r="0.71" fill="rgb(191,191,191)"/>
<circle cx="492.8" cy="173.3" r="0.61" fill="rgb(194,194,194)"/>
<circle cx="491.5" cy="172.0" r="0.78" fill="rgb(165,165,165)"/>
<circle cx="409.5" cy="188.2" r="5.10" fill="rgb(226,226,226)"/>
<circle cx="426.0" cy="188.2" r="4.95" fill="rgb(194,194,194)"/>
<circle cx="424.9" cy="184.5" r="0.55" fill="rgb(109,109,109)"/>
<circle cx="421.9" cy="187.0" r="0.71" fill="rgb(109,109,109)"/>
<circle cx="423.9" cy="187.6" r="0.47" fill="rgb(109,109,109)"/>
<circle cx="424.3" cy="190.4" r="0.53" fill="rgb(109,109,109)"/>
<circle cx="425.4" cy="189.7" r="0.73" fill="rgb(109,109,109)"/>
<circle cx="425.0" cy="186.3" r="0.55" fill="rgb(109,109,109)"/>
<circle cx="423.1" cy="187.9" r="0.82" fill="rgb(109,109,109)"/>
<circle cx="424.6" cy="190.1" r="0.80" fill="rgb(109,109,109)"/>
<circle cx="442.0" cy="188.2" r="4.54" fill="rgb(166,166,166)"/>
<circle cx="444.0" cy="190.7" r="0.86" fill="rgb(226,226,226)"/>
<circle cx="438.4" cy="187.1" r="0.78" fill="rgb(226,226,226)"/>
<circle cx="439.6" cy="186.5" r="0.87" fill="rgb(45,45,45)"/>
<circle cx="443.7" cy="189.7" r="0.55" fill="rgb(226,226,226)"/>
<circle cx="444.1" cy="189.0" r="0.80" fill="rgb(226,226,226)"/>
<circle cx="440.6" cy="188.7" r="0.68" fill="rgb(226,226,226)"/>
<circle cx="440.8" cy="189.5" r="0.46" fill="rgb(226,226,226)"/>
<circle cx="445.7" cy="188.0" r="0.81" fill="rgb(226,226,226)"/>
<circle cx="445.2" cy="187.8" r="0.69" fill="rgb(226,226,226)"/>
<circle cx="440.3" cy="189.0" r="0.45" fill="rgb(226,226,226)"/>
<circle cx="445.0" cy="186.5" r="0.92" fill="rgb(45,45,45)"/>
<circle cx="440.8" cy="186.4" r="0.52" fill="rgb(226,226,226)"/>
<circle cx="445.7" cy="188.9" r="0.60" fill="rgb(45,45,45)"/>
<circle cx="443.4" cy="191.4" r="0.91" fill="rgb(45,45,45)"/>
<circle cx="443.9" cy="191.5" r="0.82" fill="rgb(45,45,45)"/>
<circle cx="441.1" cy="189.8" r="0.61" fill="rgb(45,45,45)"/>
<circle cx="439.8" cy="190.6" r="0.87" fill="rgb(226,226,226)"/>
<circle cx="442.1" cy="189.1" r="0.76" fill="rgb(45,45,45)"/>
<circle cx="443.5" cy="184.9" r="0.92" fill="rgb(45,45,45)"/>
<circle cx="439.0" cy="188.3" r="0.60" fill="rgb(226,226,226)"/>
<circle cx="440.9" cy="187.6" r="0.53" fill="rgb(45,45,45)"/>
<circle cx="438.0" cy="189.7" r="0.47" fill="rgb(226,226,226)"/>
<circle cx="440.3" cy="188.9" r="0.45" fill="rgb(45,45,45)"/>
<circle cx="444.2" cy="184.8" r="0.66" fill="rgb(45,45,45)"/>
<circle cx="441.3" cy="191.6" r="0.66" fill="rgb(226,226,226)"/>
<circle cx="440.5" cy="190.6" r="0.86" fill="rgb(45,45,45)"/>
<circle cx="458.4" cy="188.2" r="4.08" fill="rgb(136,136,136)"/>
<circle cx="459.7" cy="187.3" r="0.67" fill="rgb(226,226,226)"/>
<circle cx="456.3" cy="187.3" r="0.49" fill="rgb(226,226,226)"/>
<circle cx="457.2" cy="190.6" r="0.90" fill="rgb(35,35,35)"/>
<circle cx="460.9" cy="185.3" r="0.76" fill="rgb(35,35,35)"/>
<circle cx="458.8" cy="187.3" r="0.75" fill="rgb(35,35,35)"/>
<circle cx="457.5" cy="191.0" r="0.69" fill="rgb(35,35,35)"/>
<circle cx="457.1" cy="186.5" r="0.89" fill="rgb(226,226,226)"/>
<circle cx="460.1" cy="188.5" r="0.67" fill="rgb(35,35,35)"/>
<circle cx="461.1" cy="189.8" r="0.74" fill="rgb(226,226,226)"/>
<circle cx="456.0" cy="189.6" r="0.65" fill="rgb(35,35,35)"/>
<circle cx="459.6" cy="189.3" r="0.72" fill="rgb(35,35,35)"/>
<circle cx="461.1" cy="190.5" r="0.50" fill="rgb(226,226,226)"/>
<circle cx="456.5" cy="187.8" r="0.73" fill="rgb(226,226,226)"/>
<circle cx="458.8" cy="191.1" r="0.71" fill="rgb(226,226,226)"/>
<circle cx="457.5" cy="187.6" r="0.49" fill="rgb(226,226,226)"/>
<circle cx="455.1" cy="189.5" r="0.81" fill="rgb(35,35,35)"/>
<circle cx="458.5" cy="186.9" r="0.81" fill="rgb(35,35,35)"/>
<circle cx="461.2" cy="190.3" r="0.54" fill="rgb(226,226,226)"/>
<circle cx="461.2" cy="187.5" r="0.52" fill="rgb(35,35,35)"/>
<circle cx="458.6" cy="187.3" r="0.64" fill="rgb(226,226,226)"/>
<circle cx="461.4" cy="188.5" r="0.60" fill="rgb(226,226,226)"/>
<circle cx="457.7" cy="185.8" r="0.76" fill="rgb(35,35,35)"/>
<circle cx="460.4" cy="186.1" r="0.89" fill="rgb(35,35,35)"/>
<circle cx="460.0" cy="191.1" r="0.83" fill="rgb(226,226,226)"/>
<circle cx="456.9" cy="185.0" r="0.64" fill="rgb(226,226,226)"/>
<circle cx="458.1" cy="184.4" r="0.47" fill="rgb(35,35,35)"/>
<circle cx="473.7" cy="187.6" r="0.67" fill="rgb(213,213,213)"/>
<circle cx="476.8" cy="190.2" r="0.74" fill="rgb(178,178,178)"/>
<circle cx="475.2" cy="190.1" r="0.82" fill="rgb(199,199,199)"/>
<circle cx="474.8" cy="188.5" r="0.46" fill="rgb(213,213,213)"/>
<circle cx="475.4" cy="190.3" r="0.55" fill="rgb(206,206,206)"/>
<circle cx="489.7" cy="188.9" r="0.84" fill="rgb(196,196,196)"/>
<rect x="503.10" y="101.90" width="93.80" height="94.60" fill="#0e0e0e"/>
<path d="M503.1 107.9 L503.1 101.9 Q504.1 102.9 509.1 101.9 Z" fill="#9a9a9a"/>
<circle cx="511.2" cy="110.0" r="5.60" fill="rgb(226,226,226)"/>
<circle cx="526.8" cy="110.0" r="5.60" fill="rgb(226,226,226)"/>
<circle cx="542.6" cy="110.0" r="5.60" fill="rgb(226,226,226)"/>
<circle cx="558.3" cy="110.0" r="5.43" fill="rgb(202,202,202)"/>
<circle cx="556.7" cy="106.0" r="0.83" fill="rgb(109,109,109)"/>
<circle cx="561.1" cy="110.2" r="0.51" fill="rgb(109,109,109)"/>
<circle cx="553.9" cy="110.0" r="0.77" fill="rgb(109,109,109)"/>
<circle cx="560.3" cy="110.4" r="0.78" fill="rgb(109,109,109)"/>
<circle cx="557.0" cy="107.3" r="0.64" fill="rgb(109,109,109)"/>
<circle cx="560.7" cy="113.7" r="0.61" fill="rgb(109,109,109)"/>
<circle cx="560.9" cy="107.3" r="0.48" fill="rgb(109,109,109)"/>
<circle cx="557.2" cy="111.9" r="0.81" fill="rgb(109,109,109)"/>
<circle cx="573.9" cy="110.0" r="4.61" fill="rgb(144,144,144)"/>
<circle cx="573.1" cy="109.5" r="0.63" fill="rgb(226,226,226)"/>
<circle cx="570.6" cy="110.7" r="0.63" fill="rgb(226,226,226)"/>
<circle cx="577.2" cy="110.1" r="0.46" fill="rgb(226,226,226)"/>
<circle cx="569.7" cy="111.1" r="0.52" fill="rgb(226,226,226)"/>
<circle cx="572.8" cy="108.0" r="0.70" fill="rgb(226,226,226)"/>
<circle cx="573.7" cy="113.3" r="0.93" fill="rgb(226,226,226)"/>
<circle cx="574.7" cy="110.0" r="0.84" fill="rgb(37,37,37)"/>
<circle cx="576.6" cy="107.2" r="0.77" fill="rgb(37,37,37)"/>
<circle cx="572.4" cy="111.8" r="0.89" fill="rgb(37,37,37)"/>
<circle cx="577.2" cy="108.6" r="0.83" fill="rgb(226,226,226)"/>
<circle cx="573.7" cy="106.9" r="0.63" fill="rgb(37,37,37)"/>
<circle cx="571.3" cy="109.1" r="0.62" fill="rgb(226,226,226)"/>
<circle cx="572.0" cy="113.9" r="0.63" fill="rgb(226,226,226)"/>
<circle cx="574.0" cy="112.1" r="0.52" fill="rgb(226,226,226)"/>
<circle cx="578.0" cy="110.2" r="0.67" fill="rgb(226,226,226)"/>
<circle cx="571.7" cy="109.0" r="0.48" fill="rgb(226,226,226)"/>
<circle cx="573.1" cy="112.3" r="0.73" fill="rgb(37,37,37)"/>
<circle cx="576.3" cy="109.0" r="0.74" fill="rgb(37,37,37)"/>
<circle cx="575.5" cy="110.9" r="0.94" fill="rgb(37,37,37)"/>
<circle cx="571.5" cy="113.0" r="0.88" fill="rgb(226,226,226)"/>
<circle cx="576.7" cy="111.3" r="0.59" fill="rgb(37,37,37)"/>
<circle cx="573.9" cy="110.7" r="0.58" fill="rgb(226,226,226)"/>
<circle cx="573.3" cy="108.0" r="0.55" fill="rgb(226,226,226)"/>
<circle cx="570.7" cy="107.5" r="0.55" fill="rgb(37,37,37)"/>
<circle cx="573.5" cy="105.7" r="0.49" fill="rgb(37,37,37)"/>
<circle cx="575.4" cy="106.2" r="0.52" fill="rgb(226,226,226)"/>
<circle cx="590.5" cy="112.3" r="0.84" fill="rgb(203,203,203)"/>
<circle cx="591.0" cy="109.3" r="0.56" fill="rgb(210,210,210)"/>
<circle cx="588.3" cy="108.2" r="0.74" fill="rgb(183,183,183)"/>
<circle cx="591.7" cy="110.8" r="0.42" fill="rgb(202,202,202)"/>
<circle cx="588.4" cy="112.1" r="0.70" fill="rgb(178,178,178)"/>
<circle cx="511.2" cy="126.0" r="5.43" fill="rgb(130,130,130)"/>
<circle cx="510.7" cy="126.1" r="0.87" fill="rgb(95,95,95)"/>
<circle cx="507.1" cy="124.3" r="0.52" fill="rgb(95,95,95)"/>
<circle cx="508.3" cy="123.5" r="0.63" fill="rgb(95,95,95)"/>
<circle cx="512.7" cy="127.0" r="0.56" fill="rgb(95,95,95)"/>
<circle cx="511.3" cy="124.7" r="0.83" fill="rgb(95,95,95)"/>
<circle cx="508.3" cy="127.5" r="0.74" fill="rgb(95,95,95)"/>
<circle cx="526.8" cy="126.0" r="5.43" fill="rgb(109,109,109)"/>
<circle cx="523.4" cy="124.8" r="0.74" fill="rgb(80,80,80)"/>
<circle cx="524.9" cy="129.4" r="0.60" fill="rgb(80,80,80)"/>
<circle cx="525.9" cy="122.2" r="0.81" fill="rgb(80,80,80)"/>
<circle cx="525.4" cy="129.7" r="0.89" fill="rgb(80,80,80)"/>
<circle cx="524.5" cy="126.7" r="0.71" fill="rgb(80,80,80)"/>
<circle cx="528.3" cy="125.4" r="0.50" fill="rgb(80,80,80)"/>
<circle cx="539.2" cy="126.5" r="0.79" fill="rgb(185,185,185)"/>
<circle cx="544.6" cy="125.9" r="0.78" fill="rgb(168,168,168)"/>
<circle cx="544.1" cy="126.3" r="0.43" fill="rgb(194,194,194)"/>
<circle cx="540.9" cy="125.4" r="0.87" fill="rgb(185,185,185)"/>
<circle cx="543.7" cy="127.4" r="0.77" fill="rgb(221,221,221)"/>
<circle cx="543.0" cy="126.6" r="0.79" fill="rgb(177,177,177)"/>
<circle cx="545.6" cy="125.7" r="0.72" fill="rgb(184,184,184)"/>
<circle cx="543.5" cy="123.3" r="0.56" fill="rgb(219,219,219)"/>
<circle cx="545.4" cy="128.3" r="0.43" fill="rgb(203,203,203)"/>
<circle cx="539.4" cy="128.3" r="0.43" fill="rgb(198,198,198)"/>
<circle cx="539.2" cy="128.2" r="0.87" fill="rgb(202,202,202)"/>
<circle cx="542.9" cy="128.1" r="0.53" fill="rgb(189,189,189)"/>
<circle cx="542.8" cy="127.9" r="0.78" fill="rgb(203,203,203)"/>
<circle cx="541.3" cy="130.0" r="0.51" fill="rgb(198,198,198)"/>
<circle cx="544.8" cy="129.3" r="0.83" fill="rgb(179,179,179)"/>
<circle cx="542.6" cy="122.1" r="0.54" fill="rgb(183,183,183)"/>
<circle cx="538.6" cy="126.4" r="0.48" fill="rgb(205,205,205)"/>
<circle cx="540.3" cy="124.4" r="0.69" fill="rgb(218,218,218)"/>
<circle cx="543.6" cy="129.9" r="0.58" fill="rgb(211,211,211)"/>
<circle cx="559.3" cy="124.8" r="0.83" fill="rgb(225,225,225)"/>
<circle cx="558.1" cy="126.6" r="0.46" fill="rgb(224,224,224)"/>
<circle cx="561.9" cy="126.2" r="0.48" fill="rgb(209,209,209)"/>
<circle cx="559.6" cy="126.9" r="0.74" fill="rgb(168,168,168)"/>
<circle cx="556.4" cy="129.0" r="0.76" fill="rgb(218,218,218)"/>
<circle cx="559.0" cy="125.9" r="0.52" fill="rgb(212,212,212)"/>
<circle cx="558.0" cy="125.3" r="0.65" fill="rgb(177,177,177)"/>
<circle cx="557.2" cy="126.5" r="0.41" fill="rgb(225,225,225)"/>
<circle cx="556.9" cy="129.2" r="0.46" fill="rgb(193,193,193)"/>
<circle cx="559.9" cy="127.9" r="0.49" fill="rgb(205,205,205)"/>
<circle cx="560.2" cy="128.6" r="0.65" fill="rgb(169,169,169)"/>
<circle cx="572.4" cy="127.9" r="0.86" fill="rgb(184,184,184)"/>
<circle cx="574.6" cy="129.3" r="0.84" fill="rgb(208,208,208)"/>
<circle cx="573.7" cy="127.4" r="0.53" fill="rgb(166,166,166)"/>
<circle cx="576.2" cy="126.7" r="0.60" fill="rgb(197,197,197)"/>
<circle cx="573.7" cy="126.3" r="0.74" fill="rgb(203,203,203)"/>
<circle cx="587.3" cy="125.4" r="0.75" fill="rgb(224,224,224)"/>
<circle cx="511.2" cy="141.3" r="5.60" fill="rgb(226,226,226)"/>
<circle cx="526.8" cy="141.3" r="5.60" fill="rgb(226,226,226)"/>
<circle cx="542.6" cy="141.3" r="5.60" fill="rgb(226,226,226)"/>
<circle cx="558.3" cy="141.3" r="5.60" fill="rgb(215,215,215)"/>
<circle cx="573.9" cy="141.3" r="4.61" fill="rgb(144,144,144)"/>
<circle cx="576.5" cy="138.7" r="0.61" fill="rgb(226,226,226)"/>
<circle cx="570.1" cy="143.4" r="0.64" fill="rgb(226,226,226)"/>
<circle cx="572.5" cy="142.2" r="0.45" fill="rgb(37,37,37)"/>
<circle cx="570.6" cy="138.7" r="0.76" fill="rgb(226,226,226)"/>
<circle cx="572.4" cy="142.8" r="0.51" fill="rgb(226,226,226)"/>
<circle cx="576.0" cy="138.1" r="0.47" fill="rgb(37,37,37)"/>
<circle cx="573.0" cy="139.0" r="0.72" fill="rgb(37,37,37)"/>
<circle cx="572.2" cy="145.3" r="0.82" fill="rgb(226,226,226)"/>
<circle cx="575.8" cy="138.8" r="0.95" fill="rgb(37,37,37)"/>
<circle cx="574.2" cy="144.8" r="0.64" fill="rgb(37,37,37)"/>
<circle cx="573.3" cy="138.6" r="0.76" fill="rgb(226,226,226)"/>
<circle cx="572.8" cy="139.1" r="0.72" fill="rgb(37,37,37)"/>
<circle cx="574.5" cy="144.7" r="0.90" fill="rgb(226,226,226)"/>
<circle cx="570.2" cy="141.9" r="0.69" fill="rgb(226,226,226)"/>
<circle cx="574.2" cy="142.9" r="0.71" fill="rgb(37,37,37)"/>
<circle cx="570.8" cy="140.8" r="0.57" fill="rgb(37,37,37)"/>
<circle cx="575.8" cy="144.8" r="0.77" fill="rgb(226,226,226)"/>
<circle cx="575.8" cy="137.6" r="0.47" fill="rgb(37,37,37)"/>
<circle cx="571.0" cy="144.0" r="0.51" fill="rgb(37,37,37)"/>
<circle cx="575.1" cy="143.1" r="0.63" fill="rgb(226,226,226)"/>
<circle cx="574.9" cy="138.3" r="0.49" fill="rgb(226,226,226)"/>
<circle cx="570.4" cy="144.0" r="0.67" fill="rgb(37,37,37)"/>
<circle cx="570.0" cy="141.8" r="0.52" fill="rgb(37,37,37)"/>
<circle cx="572.8" cy="138.9" r="0.57" fill="rgb(226,226,226)"/>
<circle cx="572.1" cy="143.2" r="0.46" fill="rgb(226,226,226)"/>
<circle cx="574.9" cy="144.4" r="0.54" fill="rgb(226,226,226)"/>
<circle cx="589.2" cy="139.3" r="0.56" fill="rgb(177,177,177)"/>
<circle cx="590.2" cy="140.3" r="0.72" fill="rgb(217,217,217)"/>
<circle cx="590.4" cy="143.7" r="0.80" fill="rgb(201,201,201)"/>
<circle cx="589.0" cy="141.9" r="0.62" fill="rgb(185,185,185)"/>
<circle cx="589.1" cy="139.2" r="0.60" fill="rgb(203,203,203)"/>
<circle cx="590.5" cy="139.1" r="0.59" fill="rgb(199,199,199)"/>
<circle cx="591.1" cy="140.5" r="0.89" fill="rgb(207,207,207)"/>
<circle cx="587.4" cy="143.6" r="0.56" fill="rgb(166,166,166)"/>
<circle cx="589.7" cy="138.9" r="0.66" fill="rgb(193,193,193)"/>
<circle cx="592.4" cy="139.3" r="0.41" fill="rgb(200,200,200)"/>
<circle cx="587.0" cy="141.9" r="0.82" fill="rgb(188,188,188)"/>
<circle cx="586.0" cy="141.9" r="0.62" fill="rgb(193,193,193)"/>
<circle cx="586.0" cy="141.0" r="0.74" fill="rgb(209,209,209)"/>
<circle cx="511.2" cy="157.1" r="5.60" fill="rgb(226,226,226)"/>
<circle cx="526.8" cy="157.1" r="5.60" fill="rgb(226,226,226)"/>
<circle cx="542.6" cy="157.1" r="5.60" fill="rgb(226,226,226)"/>
<circle cx="558.3" cy="157.1" r="5.43" fill="rgb(202,202,202)"/>
<circle cx="557.5" cy="157.7" r="0.72" fill="rgb(109,109,109)"/>
<circle cx="554.4" cy="155.7" r="0.76" fill="rgb(109,109,109)"/>
<circle cx="559.9" cy="158.6" r="0.48" fill="rgb(109,109,109)"/>
<circle cx="558.9" cy="155.7" r="0.49" fill="rgb(109,109,109)"/>
<circle cx="558.4" cy="153.5" r="0.47" fill="rgb(109,109,109)"/>
<circle cx="556.6" cy="153.5" r="0.64" fill="rgb(109,109,109)"/>
<circle cx="562.0" cy="158.4" r="0.62" fill="rgb(109,109,109)"/>
<circle cx="554.2" cy="154.7" r="0.78" fill="rgb(109,109,109)"/>
<circle cx="573.9" cy="157.1" r="4.61" fill="rgb(144,144,144)"/>
<circle cx="575.1" cy="155.9" r="0.71" fill="rgb(226,226,226)"/>
<circle cx="578.2" cy="157.3" r="0.58" fill="rgb(226,226,226)"/>
<circle cx="573.0" cy="159.1" r="0.73" fill="rgb(37,37,37)"/>
<circle cx="571.1" cy="156.9" r="0.60" fill="rgb(226,226,226)"/>
<circle cx="576.5" cy="154.2" r="0.58" fill="rgb(37,37,37)"/>
<circle cx="574.2" cy="158.1" r="0.64" fill="rgb(226,226,226)"/>
<circle cx="570.9" cy="157.8" r="0.63" fill="rgb(37,37,37)"/>
<circle cx="574.5" cy="155.2" r="0.73" fill="rgb(37,37,37)"/>
<circle cx="576.2" cy="157.9" r="0.65" fill="rgb(226,226,226)"/>
<circle cx="571.6" cy="156.1" r="0.85" fill="rgb(226,226,226)"/>
<circle cx="572.9" cy="160.7" r="0.75" fill="rgb(37,37,37)"/>
<circle cx="569.8" cy="158.3" r="0.89" fill="rgb(226,226,226)"/>
<circle cx="576.6" cy="158.1" r="0.47" fill="rgb(37,37,37)"/>
<circle cx="574.7" cy="156.2" r="0.54" fill="rgb(37,37,37)"/>
<circle cx="576.8" cy="155.6" r="0.70" fill="rgb(37,37,37)"/>
<circle cx="572.2" cy="153.9" r="0.56" fill="rgb(226,226,226)"/>
<circle cx="574.8" cy="155.7" r="0.55" fill="rgb(37,37,37)"/>
<circle cx="575.0" cy="157.9" r="0.93" fill="rgb(37,37,37)"/>
<circle cx="570.8" cy="158.9" r="0.90" fill="rgb(226,226,226)"/>
<circle cx="573.2" cy="155.5" r="0.80" fill="rgb(226,226,226)"/>
<circle cx="577.8" cy="158.1" r="0.57" fill="rgb(226,226,226)"/>
<circle cx="571.8" cy="155.9" r="0.53" fill="rgb(37,37,37)"/>
<circle cx="576.0" cy="155.8" r="0.53" fill="rgb(37,37,37)"/>
<circle cx="575.2" cy="153.0" r="0.47" fill="rgb(226,226,226)"/>
<circle cx="571.3" cy="159.5" r="0.72" fill="rgb(226,226,226)"/>
<circle cx="576.4" cy="158.8" r="0.66" fill="rgb(37,37,37)"/>
<circle cx="589.0" cy="155.9" r="0.81" fill="rgb(170,170,170)"/>
<circle cx="593.2" cy="155.2" r="0.87" fill="rgb(195,195,195)"/>
<circle cx="589.0" cy="159.4" r="0.78" fill="rgb(193,193,193)"/>
<circle cx="590.7" cy="156.6" r="0.64" fill="rgb(217,217,217)"/>
<circle cx="587.1" cy="155.4" r="0.44" fill="rgb(171,171,171)"/>
<circle cx="589.1" cy="160.9" r="0.82" fill="rgb(176,176,176)"/>
<circle cx="590.3" cy="156.8" r="0.70" fill="rgb(223,223,223)"/>
<circle cx="587.4" cy="160.4" r="0.73" fill="rgb(165,165,165)"/>
<circle cx="588.2" cy="159.5" r="0.52" fill="rgb(209,209,209)"/>
<circle cx="591.2" cy="160.4" r="0.55" fill="rgb(166,166,166)"/>
<circle cx="588.4" cy="156.6" r="0.68" fill="rgb(212,212,212)"/>
<circle cx="587.3" cy="155.5" r="0.42" fill="rgb(195,195,195)"/>
<circle cx="592.3" cy="159.0" r="0.47" fill="rgb(199,199,199)"/>
<circle cx="588.1" cy="159.1" r="0.73" fill="rgb(172,172,172)"/>
<circle cx="591.5" cy="160.6" r="0.57" fill="rgb(215,215,215)"/>
<circle cx="591.6" cy="155.1" r="0.47" fill="rgb(168,168,168)"/>
<circle cx="511.2" cy="173.0" r="5.60" fill="rgb(226,226,226)"/>
<circle cx="526.8" cy="173.0" r="5.60" fill="rgb(226,226,226)"/>
<circle cx="542.6" cy="173.0" r="5.60" fill="rgb(226,226,226)"/>
<circle cx="558.3" cy="173.0" r="5.43" fill="rgb(202,202,202)"/>
<circle cx="559.5" cy="171.9" r="0.65" fill="rgb(109,109,109)"/>
<circle cx="556.7" cy="172.6" r="0.64" fill="rgb(109,109,109)"/>
<circle cx="560.1" cy="176.0" r="0.65" fill="rgb(109,109,109)"/>
<circle cx="556.9" cy="174.6" r="0.61" fill="rgb(109,109,109)"/>
<circle cx="558.8" cy="174.6" r="0.55" fill="rgb(109,109,109)"/>
<circle cx="560.6" cy="170.6" r="0.81" fill="rgb(109,109,109)"/>
<circle cx="562.9" cy="173.4" r="0.65" fill="rgb(109,109,109)"/>
<circle cx="559.2" cy="169.5" r="0.73" fill="rgb(109,109,109)"/>
<circle cx="573.9" cy="173.0" r="4.48" fill="rgb(136,136,136)"/>
<circle cx="574.4" cy="176.7" r="0.58" fill="rgb(226,226,226)"/>
<circle cx="576.5" cy="173.5" r="0.60" fill="rgb(226,226,226)"/>
<circle cx="574.9" cy="172.2" r="0.57" fill="rgb(35,35,35)"/>
<circle cx="570.8" cy="170.9" r="0.48" fill="rgb(35,35,35)"/>
<circle cx="574.0" cy="176.3" r="0.47" fill="rgb(35,35,35)"/>
<circle cx="571.3" cy="170.6" r="0.62" fill="rgb(35,35,35)"/>
<circle cx="575.0" cy="170.3" r="0.46" fill="rgb(35,35,35)"/>
<circle cx="576.4" cy="172.0" r="0.49" fill="rgb(226,226,226)"/>
<circle cx="574.0" cy="176.6" r="0.53" fill="rgb(35,35,35)"/>
<circle cx="573.0" cy="174.3" r="0.56" fill="rgb(226,226,226)"/>
<circle cx="571.9" cy="176.7" r="0.85" fill="rgb(35,35,35)"/>
<circle cx="570.9" cy="173.4" r="0.90" fill="rgb(35,35,35)"/>
<circle cx="573.9" cy="169.6" r="0.76" fill="rgb(226,226,226)"/>
<circle cx="576.0" cy="169.9" r="0.81" fill="rgb(226,226,226)"/>
<circle cx="572.9" cy="174.4" r="0.79" fill="rgb(35,35,35)"/>
<circle cx="573.9" cy="171.4" r="0.92" fill="rgb(35,35,35)"/>
<circle cx="576.9" cy="170.9" r="0.85" fill="rgb(35,35,35)"/>
<circle cx="571.5" cy="171.5" r="0.84" fill="rgb(35,35,35)"/>
<circle cx="575.5" cy="171.3" r="0.72" fill="rgb(35,35,35)"/>
<circle cx="575.3" cy="172.5" r="0.84" fill="rgb(35,35,35)"/>
<circle cx="573.9" cy="176.9" r="0.55" fill="rgb(226,226,226)"/>
<circle cx="571.9" cy="173.5" r="0.90" fill="rgb(226,226,226)"/>
<circle cx="572.5" cy="169.7" r="0.84" fill="rgb(226,226,226)"/>
<circle cx="574.9" cy="169.6" r="0.86" fill="rgb(35,35,35)"/>
<circle cx="572.9" cy="173.7" r="0.87" fill="rgb(35,35,35)"/>
<circle cx="572.1" cy="175.8" r="0.85" fill="rgb(35,35,35)"/>
<circle cx="592.5" cy="173.1" r="0.41" fill="rgb(169,169,169)"/>
<circle cx="590.6" cy="170.6" r="0.70" fill="rgb(191,191,191)"/>
<circle cx="588.6" cy="174.6" r="0.58" fill="rgb(216,216,216)"/>
<circle cx="588.0" cy="171.5" r="0.44" fill="rgb(179,179,179)"/>
<circle cx="588.8" cy="170.4" r="0.73" fill="rgb(213,213,213)"/>
<circle cx="592.1" cy="175.3" r="0.42" fill="rgb(214,214,214)"/>
<circle cx="590.5" cy="175.0" r="0.88" fill="rgb(185,185,185)"/>
<circle cx="590.2" cy="176.8" r="0.71" fill="rgb(219,219,219)"/>
<circle cx="587.3" cy="174.8" r="0.88" fill="rgb(194,194,194)"/>
<circle cx="591.4" cy="172.9" r="0.82" fill="rgb(172,172,172)"/>
<circle cx="589.5" cy="173.0" r="0.49" fill="rgb(222,222,222)"/>
<circle cx="586.1" cy="174.0" r="0.53" fill="rgb(184,184,184)"/>
<circle cx="592.0" cy="174.8" r="0.83" fill="rgb(195,195,195)"/>
<circle cx="586.8" cy="175.8" r="0.85" fill="rgb(204,204,204)"/>
<circle cx="592.5" cy="174.5" r="0.62" fill="rgb(223,223,223)"/>
<circle cx="587.5" cy="175.5" r="0.72" fill="rgb(186,186,186)"/>
<circle cx="511.2" cy="188.4" r="5.60" fill="rgb(226,226,226)"/>
<circle cx="526.8" cy="188.4" r="5.60" fill="rgb(226,226,226)"/>
<circle cx="542.6" cy="188.4" r="5.60" fill="rgb(226,226,226)"/>
<circle cx="558.3" cy="188.4" r="5.60" fill="rgb(215,215,215)"/>
<circle cx="573.9" cy="188.4" r="4.61" fill="rgb(144,144,144)"/>
<circle cx="570.3" cy="187.9" r="0.70" fill="rgb(37,37,37)"/>
<circle cx="571.1" cy="191.7" r="0.87" fill="rgb(226,226,226)"/>
<circle cx="572.6" cy="185.4" r="0.83" fill="rgb(226,226,226)"/>
<circle cx="576.8" cy="186.0" r="0.47" fill="rgb(37,37,37)"/>
<circle cx="573.2" cy="189.8" r="0.90" fill="rgb(37,37,37)"/>
<circle cx="576.0" cy="191.0" r="0.47" fill="rgb(37,37,37)"/>
<circle cx="571.0" cy="190.8" r="0.59" fill="rgb(37,37,37)"/>
<circle cx="574.1" cy="186.0" r="0.66" fill="rgb(226,226,226)"/>
<circle cx="577.4" cy="187.9" r="0.79" fill="rgb(37,37,37)"/>
<circle cx="570.8" cy="191.3" r="0.80" fill="rgb(37,37,37)"/>
<circle cx="573.6" cy="190.1" r="0.86" fill="rgb(37,37,37)"/>
<circle cx="574.6" cy="185.9" r="0.71" fill="rgb(226,226,226)"/>
<circle cx="575.2" cy="187.2" r="0.54" fill="rgb(37,37,37)"/>
<circle cx="573.5" cy="189.3" r="0.64" fill="rgb(226,226,226)"/>
<circle cx="578.1" cy="187.5" r="0.60" fill="rgb(226,226,226)"/>
<circle cx="575.7" cy="187.7" r="0.67" fill="rgb(226,226,226)"/>
<circle cx="575.6" cy="189.8" r="0.64" fill="rgb(226,226,226)"/>
<circle cx="576.1" cy="187.9" r="0.90" fill="rgb(226,226,226)"/>
<circle cx="570.1" cy="189.6" r="0.84" fill="rgb(37,37,37)"/>
<circle cx="573.2" cy="190.0" r="0.69" fill="rgb(37,37,37)"/>
<circle cx="570.6" cy="187.1" r="0.59" fill="rgb(37,37,37)"/>
<circle cx="571.2" cy="191.6" r="0.59" fill="rgb(226,226,226)"/>
<circle cx="572.4" cy="186.8" r="0.47" fill="rgb(37,37,37)"/>
<circle cx="575.4" cy="185.5" r="0.92" fill="rgb(226,226,226)"/>
<circle cx="573.7" cy="190.5" r="0.72" fill="rgb(226,226,226)"/>
<circle cx="574.0" cy="184.8" r="0.85" fill="rgb(226,226,226)"/>
<circle cx="591.4" cy="189.9" r="0.72" fill="rgb(223,223,223)"/>
<circle cx="587.2" cy="185.8" r="0.79" fill="rgb(187,187,187)"/>
<circle cx="593.0" cy="187.1" r="0.57" fill="rgb(187,187,187)"/>
<circle cx="590.5" cy="186.0" r="0.49" fill="rgb(217,217,217)"/>
<circle cx="586.6" cy="187.8" r="0.73" fill="rgb(219,219,219)"/>
<circle cx="591.3" cy="190.2" r="0.43" fill="rgb(188,188,188)"/>
<circle cx="585.7" cy="188.3" r="0.73" fill="rgb(199,199,199)"/>
<circle cx="586.9" cy="190.2" r="0.54" fill="rgb(216,216,216)"/>
<circle cx="590.5" cy="184.6" r="0.48" fill="rgb(205,205,205)"/>
<circle cx="589.7" cy="185.4" r="0.85" fill="rgb(219,219,219)"/>
<circle cx="589.4" cy="184.5" r="0.72" fill="rgb(218,218,218)"/>
<circle cx="592.0" cy="191.0" r="0.75" fill="rgb(201,201,201)"/>
<circle cx="589.4" cy="189.5" r="0.70" fill="rgb(214,214,214)"/>
<circle cx="589.3" cy="190.3" r="0.51" fill="rgb(168,168,168)"/>
<circle cx="587.7" cy="184.6" r="0.80" fill="rgb(185,185,185)"/>
<circle cx="589.2" cy="187.3" r="0.82" fill="rgb(183,183,183)"/>
<circle cx="593.0" cy="188.5" r="0.47" fill="rgb(179,179,179)"/>
<circle cx="592.2" cy="189.4" r="0.68" fill="rgb(213,213,213)"/>
<circle cx="593.4" cy="189.4" r="0.46" fill="rgb(176,176,176)"/>
<text x="450.00" y="211.50" font-size="10.00" text-anchor="middle" fill="#1a1a1a"><tspan>1 M NaCl (4d)</tspan></text>
<text x="550.00" y="211.50" font-size="10.00" text-anchor="middle" fill="#1a1a1a"><tspan>YPD</tspan></text>
<text x="395.30" y="227.40" font-size="10.00" text-anchor="end" fill="#1a1a1a"><tspan font-style="italic">Sc</tspan><tspan>-R3</tspan></text>
<text x="395.30" y="242.40" font-size="10.00" text-anchor="end" fill="#1a1a1a"><tspan font-style="italic">Sc</tspan><tspan>-R3[</tspan><tspan font-style="italic">ScSPS22</tspan><tspan font-size="6.2" dy="1.2">CEN</tspan><tspan dy="-1.2">]</tspan></text>
<text x="395.30" y="257.40" font-size="10.00" text-anchor="end" fill="#1a1a1a"><tspan font-style="italic">Sc</tspan><tspan>-R3[</tspan><tspan font-style="italic">ScSPS22</tspan><tspan font-size="6.2" dy="1.2">2μ</tspan><tspan dy="-1.2">]</tspan></text>
<rect x="402.90" y="217.30" width="94.00" height="43.80" fill="#0e0e0e"/>
<circle cx="412.6" cy="223.1" r="4.70" fill="rgb(226,226,226)"/>
<circle cx="427.7" cy="223.1" r="4.56" fill="rgb(202,202,202)"/>
<circle cx="426.1" cy="221.4" r="0.58" fill="rgb(109,109,109)"/>
<circle cx="426.0" cy="222.3" r="0.77" fill="rgb(109,109,109)"/>
<circle cx="428.6" cy="226.6" r="0.77" fill="rgb(109,109,109)"/>
<circle cx="427.0" cy="222.9" r="0.76" fill="rgb(109,109,109)"/>
<circle cx="430.5" cy="223.6" r="0.62" fill="rgb(109,109,109)"/>
<circle cx="430.6" cy="224.3" r="0.74" fill="rgb(109,109,109)"/>
<circle cx="425.5" cy="221.8" r="0.65" fill="rgb(109,109,109)"/>
<circle cx="426.1" cy="222.1" r="0.80" fill="rgb(109,109,109)"/>
<circle cx="442.9" cy="223.1" r="4.18" fill="rgb(166,166,166)"/>
<circle cx="446.5" cy="223.0" r="0.61" fill="rgb(45,45,45)"/>
<circle cx="444.0" cy="223.0" r="0.52" fill="rgb(226,226,226)"/>
<circle cx="439.8" cy="224.0" r="0.68" fill="rgb(45,45,45)"/>
<circle cx="442.0" cy="224.6" r="0.59" fill="rgb(226,226,226)"/>
<circle cx="444.1" cy="226.3" r="0.67" fill="rgb(226,226,226)"/>
<circle cx="444.0" cy="226.3" r="0.58" fill="rgb(226,226,226)"/>
<circle cx="439.8" cy="221.9" r="0.82" fill="rgb(45,45,45)"/>
<circle cx="446.5" cy="221.9" r="0.81" fill="rgb(45,45,45)"/>
<circle cx="444.6" cy="223.8" r="0.88" fill="rgb(226,226,226)"/>
<circle cx="442.3" cy="220.0" r="0.63" fill="rgb(226,226,226)"/>
<circle cx="444.5" cy="225.8" r="0.60" fill="rgb(45,45,45)"/>
<circle cx="444.5" cy="223.6" r="0.90" fill="rgb(226,226,226)"/>
<circle cx="443.8" cy="220.6" r="0.50" fill="rgb(226,226,226)"/>
<circle cx="444.9" cy="226.0" r="0.95" fill="rgb(226,226,226)"/>
<circle cx="445.9" cy="221.2" r="0.86" fill="rgb(226,226,226)"/>
<circle cx="443.8" cy="224.0" r="0.70" fill="rgb(45,45,45)"/>
<circle cx="443.4" cy="225.0" r="0.90" fill="rgb(226,226,226)"/>
<circle cx="441.9" cy="219.4" r="0.67" fill="rgb(45,45,45)"/>
<circle cx="442.6" cy="220.7" r="0.87" fill="rgb(45,45,45)"/>
<circle cx="443.2" cy="223.4" r="0.74" fill="rgb(226,226,226)"/>
<circle cx="442.6" cy="223.4" r="0.84" fill="rgb(45,45,45)"/>
<circle cx="442.1" cy="223.3" r="0.72" fill="rgb(45,45,45)"/>
<circle cx="444.9" cy="224.1" r="0.89" fill="rgb(45,45,45)"/>
<circle cx="439.7" cy="223.4" r="0.57" fill="rgb(226,226,226)"/>
<circle cx="444.9" cy="221.7" r="0.75" fill="rgb(226,226,226)"/>
<circle cx="444.1" cy="224.4" r="0.74" fill="rgb(226,226,226)"/>
<circle cx="457.8" cy="223.1" r="3.87" fill="rgb(144,144,144)"/>
<circle cx="455.8" cy="220.8" r="0.48" fill="rgb(226,226,226)"/>
<circle cx="457.7" cy="222.3" r="0.65" fill="rgb(226,226,226)"/>
<circle cx="456.4" cy="220.4" r="0.77" fill="rgb(226,226,226)"/>
<circle cx="456.9" cy="220.7" r="0.90" fill="rgb(226,226,226)"/>
<circle cx="457.1" cy="222.6" r="0.94" fill="rgb(226,226,226)"/>
<circle cx="458.1" cy="225.4" r="0.86" fill="rgb(37,37,37)"/>
<circle cx="455.7" cy="220.7" r="0.50" fill="rgb(226,226,226)"/>
<circle cx="461.1" cy="222.6" r="0.47" fill="rgb(226,226,226)"/>
<circle cx="458.0" cy="226.6" r="0.79" fill="rgb(226,226,226)"/>
<circle cx="460.5" cy="221.9" r="0.58" fill="rgb(37,37,37)"/>
<circle cx="458.1" cy="223.5" r="0.50" fill="rgb(37,37,37)"/>
<circle cx="460.9" cy="222.6" r="0.85" fill="rgb(226,226,226)"/>
<circle cx="459.2" cy="225.3" r="0.84" fill="rgb(226,226,226)"/>
<circle cx="460.5" cy="220.9" r="0.88" fill="rgb(226,226,226)"/>
<circle cx="454.7" cy="222.0" r="0.76" fill="rgb(226,226,226)"/>
<circle cx="455.1" cy="221.3" r="0.48" fill="rgb(226,226,226)"/>
<circle cx="455.9" cy="222.5" r="0.45" fill="rgb(226,226,226)"/>
<circle cx="457.8" cy="222.5" r="0.86" fill="rgb(37,37,37)"/>
<circle cx="456.6" cy="223.4" r="0.55" fill="rgb(37,37,37)"/>
<circle cx="456.7" cy="223.6" r="0.72" fill="rgb(37,37,37)"/>
<circle cx="457.1" cy="224.0" r="0.87" fill="rgb(37,37,37)"/>
<circle cx="458.5" cy="222.1" r="0.60" fill="rgb(226,226,226)"/>
<circle cx="457.9" cy="221.7" r="0.94" fill="rgb(37,37,37)"/>
<circle cx="457.8" cy="222.8" r="0.51" fill="rgb(226,226,226)"/>
<circle cx="456.8" cy="220.4" r="0.68" fill="rgb(226,226,226)"/>
<circle cx="455.4" cy="224.7" r="0.91" fill="rgb(37,37,37)"/>
<circle cx="472.7" cy="220.2" r="0.86" fill="rgb(215,215,215)"/>
<circle cx="472.9" cy="222.5" r="0.74" fill="rgb(216,216,216)"/>
<circle cx="470.2" cy="224.4" r="0.49" fill="rgb(222,222,222)"/>
<circle cx="470.4" cy="224.1" r="0.53" fill="rgb(181,181,181)"/>
<circle cx="471.9" cy="224.6" r="0.45" fill="rgb(190,190,190)"/>
<circle cx="475.6" cy="222.8" r="0.87" fill="rgb(210,210,210)"/>
<circle cx="474.7" cy="220.3" r="0.78" fill="rgb(179,179,179)"/>
<circle cx="473.0" cy="225.2" r="0.41" fill="rgb(177,177,177)"/>
<circle cx="475.4" cy="221.0" r="0.56" fill="rgb(211,211,211)"/>
<circle cx="473.5" cy="220.0" r="0.80" fill="rgb(196,196,196)"/>
<circle cx="475.4" cy="224.9" r="0.56" fill="rgb(202,202,202)"/>
<circle cx="471.4" cy="224.9" r="0.88" fill="rgb(172,172,172)"/>
<circle cx="470.4" cy="222.6" r="0.67" fill="rgb(222,222,222)"/>
<circle cx="486.9" cy="224.5" r="0.74" fill="rgb(223,223,223)"/>
<circle cx="412.6" cy="239.2" r="4.70" fill="rgb(226,226,226)"/>
<circle cx="427.7" cy="239.2" r="4.56" fill="rgb(178,178,178)"/>
<circle cx="429.3" cy="240.2" r="0.56" fill="rgb(109,109,109)"/>
<circle cx="428.1" cy="238.9" r="0.55" fill="rgb(109,109,109)"/>
<circle cx="426.9" cy="235.3" r="0.52" fill="rgb(109,109,109)"/>
<circle cx="424.6" cy="240.5" r="0.73" fill="rgb(109,109,109)"/>
<circle cx="427.6" cy="235.7" r="0.55" fill="rgb(109,109,109)"/>
<circle cx="427.7" cy="239.9" r="0.73" fill="rgb(109,109,109)"/>
<circle cx="428.2" cy="241.2" r="0.84" fill="rgb(109,109,109)"/>
<circle cx="425.8" cy="236.8" r="0.71" fill="rgb(109,109,109)"/>
<circle cx="442.9" cy="239.2" r="3.97" fill="rgb(151,151,151)"/>
<circle cx="440.3" cy="237.4" r="0.48" fill="rgb(226,226,226)"/>
<circle cx="443.3" cy="239.4" r="0.52" fill="rgb(226,226,226)"/>
<circle cx="444.9" cy="240.9" r="0.79" fill="rgb(40,40,40)"/>
<circle cx="442.4" cy="242.5" r="0.50" fill="rgb(226,226,226)"/>
<circle cx="442.1" cy="241.5" r="0.67" fill="rgb(40,40,40)"/>
<circle cx="442.7" cy="238.0" r="0.62" fill="rgb(40,40,40)"/>
<circle cx="443.2" cy="238.6" r="0.56" fill="rgb(40,40,40)"/>
<circle cx="445.0" cy="236.5" r="0.59" fill="rgb(40,40,40)"/>
<circle cx="444.5" cy="239.3" r="0.53" fill="rgb(40,40,40)"/>
<circle cx="441.3" cy="236.8" r="0.54" fill="rgb(40,40,40)"/>
<circle cx="443.6" cy="240.1" r="0.64" fill="rgb(40,40,40)"/>
<circle cx="441.3" cy="236.9" r="0.48" fill="rgb(226,226,226)"/>
<circle cx="446.4" cy="239.5" r="0.93" fill="rgb(226,226,226)"/>
<circle cx="440.8" cy="241.6" r="0.84" fill="rgb(226,226,226)"/>
<circle cx="442.9" cy="241.5" r="0.51" fill="rgb(226,226,226)"/>
<circle cx="442.9" cy="242.6" r="0.64" fill="rgb(226,226,226)"/>
<circle cx="443.1" cy="237.4" r="0.56" fill="rgb(226,226,226)"/>
<circle cx="441.2" cy="240.7" r="0.69" fill="rgb(40,40,40)"/>
<circle cx="443.5" cy="238.6" r="0.87" fill="rgb(40,40,40)"/>
<circle cx="443.0" cy="239.8" r="0.51" fill="rgb(226,226,226)"/>
<circle cx="439.8" cy="240.0" r="0.51" fill="rgb(226,226,226)"/>
<circle cx="441.3" cy="239.4" r="0.67" fill="rgb(226,226,226)"/>
<circle cx="443.6" cy="239.9" r="0.68" fill="rgb(226,226,226)"/>
<circle cx="445.5" cy="238.1" r="0.56" fill="rgb(226,226,226)"/>
<circle cx="442.8" cy="236.4" r="0.93" fill="rgb(40,40,40)"/>
<circle cx="443.7" cy="238.2" r="0.71" fill="rgb(40,40,40)"/>
<circle cx="457.9" cy="240.4" r="0.83" fill="rgb(175,175,175)"/>
<circle cx="459.1" cy="240.0" r="0.86" fill="rgb(191,191,191)"/>
<circle cx="457.7" cy="238.4" r="0.63" fill="rgb(182,182,182)"/>
<circle cx="458.5" cy="241.6" r="0.58" fill="rgb(170,170,170)"/>
<circle cx="459.9" cy="239.0" r="0.49" fill="rgb(163,163,163)"/>
<circle cx="456.6" cy="237.4" r="0.41" fill="rgb(192,192,192)"/>
<circle cx="457.7" cy="237.0" r="0.52" fill="rgb(194,194,194)"/>
<circle cx="455.9" cy="237.7" r="0.47" fill="rgb(213,213,213)"/>
<circle cx="475.2" cy="238.4" r="0.83" fill="rgb(185,185,185)"/>
<circle cx="412.6" cy="254.4" r="4.56" fill="rgb(186,186,186)"/>
<circle cx="414.0" cy="253.4" r="0.54" fill="rgb(109,109,109)"/>
<circle cx="409.5" cy="252.2" r="0.48" fill="rgb(109,109,109)"/>
<circle cx="412.8" cy="255.1" r="0.63" fill="rgb(109,109,109)"/>
<circle cx="413.7" cy="255.8" r="0.75" fill="rgb(109,109,109)"/>
<circle cx="409.2" cy="252.5" r="0.61" fill="rgb(109,109,109)"/>
<circle cx="412.4" cy="254.0" r="0.83" fill="rgb(109,109,109)"/>
<circle cx="412.9" cy="257.1" r="0.65" fill="rgb(109,109,109)"/>
<circle cx="415.3" cy="253.5" r="0.85" fill="rgb(109,109,109)"/>
<circle cx="427.7" cy="254.4" r="3.87" fill="rgb(144,144,144)"/>
<circle cx="426.5" cy="253.2" r="0.55" fill="rgb(37,37,37)"/>
<circle cx="430.2" cy="254.4" r="0.93" fill="rgb(226,226,226)"/>
<circle cx="426.7" cy="256.5" r="0.78" fill="rgb(226,226,226)"/>
<circle cx="429.9" cy="254.7" r="0.86" fill="rgb(226,226,226)"/>
<circle cx="430.6" cy="254.4" r="0.68" fill="rgb(226,226,226)"/>
<circle cx="424.8" cy="253.2" r="0.57" fill="rgb(226,226,226)"/>
<circle cx="430.3" cy="256.9" r="0.52" fill="rgb(226,226,226)"/>
<circle cx="424.9" cy="254.0" r="0.48" fill="rgb(37,37,37)"/>
<circle cx="427.8" cy="255.9" r="0.68" fill="rgb(37,37,37)"/>
<circle cx="424.8" cy="256.3" r="0.88" fill="rgb(37,37,37)"/>
<circle cx="429.5" cy="253.9" r="0.65" fill="rgb(37,37,37)"/>
<circle cx="431.0" cy="255.5" r="0.46" fill="rgb(226,226,226)"/>
<circle cx="427.2" cy="256.3" r="0.89" fill="rgb(37,37,37)"/>
<circle cx="425.4" cy="255.7" r="0.85" fill="rgb(37,37,37)"/>
<circle cx="426.2" cy="252.2" r="0.57" fill="rgb(226,226,226)"/>
<circle cx="426.2" cy="252.0" r="0.90" fill="rgb(37,37,37)"/>
<circle cx="429.3" cy="254.0" r="0.90" fill="rgb(226,226,226)"/>
<circle cx="426.3" cy="253.7" r="0.58" fill="rgb(37,37,37)"/>
<circle cx="427.9" cy="256.6" r="0.79" fill="rgb(226,226,226)"/>
<circle cx="430.5" cy="255.8" r="0.69" fill="rgb(37,37,37)"/>
<circle cx="426.2" cy="251.5" r="0.69" fill="rgb(226,226,226)"/>
<circle cx="426.3" cy="251.6" r="0.54" fill="rgb(37,37,37)"/>
<circle cx="430.8" cy="253.6" r="0.67" fill="rgb(226,226,226)"/>
<circle cx="429.3" cy="254.0" r="0.93" fill="rgb(226,226,226)"/>
<circle cx="429.1" cy="253.4" r="0.63" fill="rgb(37,37,37)"/>
<circle cx="426.0" cy="251.6" r="0.56" fill="rgb(226,226,226)"/>
<circle cx="443.3" cy="256.0" r="0.42" fill="rgb(171,171,171)"/>
<circle cx="441.2" cy="255.5" r="0.44" fill="rgb(199,199,199)"/>
<circle cx="445.1" cy="253.6" r="0.58" fill="rgb(207,207,207)"/>
<circle cx="441.7" cy="254.9" r="0.64" fill="rgb(163,163,163)"/>
<circle cx="442.3" cy="253.3" r="0.58" fill="rgb(223,223,223)"/>
<circle cx="443.2" cy="251.5" r="0.72" fill="rgb(202,202,202)"/>
<circle cx="442.0" cy="251.4" r="0.50" fill="rgb(211,211,211)"/>
<circle cx="442.4" cy="255.9" r="0.81" fill="rgb(200,200,200)"/>
<circle cx="444.6" cy="252.0" r="0.69" fill="rgb(175,175,175)"/>
<circle cx="445.2" cy="254.6" r="0.76" fill="rgb(179,179,179)"/>
<circle cx="443.1" cy="254.5" r="0.49" fill="rgb(206,206,206)"/>
<circle cx="459.1" cy="254.4" r="0.53" fill="rgb(207,207,207)"/>
<rect x="502.80" y="217.30" width="92.20" height="43.80" fill="#0e0e0e"/>
<circle cx="511.8" cy="223.1" r="4.56" fill="rgb(173,173,173)"/>
<circle cx="512.3" cy="223.1" r="0.55" fill="rgb(125,125,125)"/>
<circle cx="515.2" cy="221.6" r="0.56" fill="rgb(125,125,125)"/>
<circle cx="510.4" cy="225.4" r="0.63" fill="rgb(125,125,125)"/>
<circle cx="509.5" cy="224.4" r="0.60" fill="rgb(125,125,125)"/>
<circle cx="512.8" cy="223.5" r="0.56" fill="rgb(125,125,125)"/>
<circle cx="514.3" cy="224.7" r="0.78" fill="rgb(125,125,125)"/>
<circle cx="526.4" cy="223.1" r="4.56" fill="rgb(151,151,151)"/>
<circle cx="526.1" cy="226.4" r="0.79" fill="rgb(110,110,110)"/>
<circle cx="525.0" cy="225.3" r="0.58" fill="rgb(110,110,110)"/>
<circle cx="528.9" cy="221.9" r="0.52" fill="rgb(110,110,110)"/>
<circle cx="528.2" cy="225.7" r="0.65" fill="rgb(110,110,110)"/>
<circle cx="526.0" cy="221.3" r="0.82" fill="rgb(110,110,110)"/>
<circle cx="526.8" cy="222.0" r="0.73" fill="rgb(110,110,110)"/>
<circle cx="542.2" cy="223.1" r="4.08" fill="rgb(159,159,159)"/>
<circle cx="543.4" cy="226.1" r="0.85" fill="rgb(43,43,43)"/>
<circle cx="542.3" cy="224.3" r="0.73" fill="rgb(43,43,43)"/>
<circle cx="543.3" cy="224.4" r="0.50" fill="rgb(43,43,43)"/>
<circle cx="540.9" cy="221.7" r="0.66" fill="rgb(226,226,226)"/>
<circle cx="539.0" cy="222.4" r="0.81" fill="rgb(226,226,226)"/>
<circle cx="542.6" cy="225.2" r="0.80" fill="rgb(43,43,43)"/>
<circle cx="539.4" cy="220.7" r="0.61" fill="rgb(226,226,226)"/>
<circle cx="541.2" cy="221.4" r="0.56" fill="rgb(226,226,226)"/>
<circle cx="542.7" cy="219.6" r="0.93" fill="rgb(43,43,43)"/>
<circle cx="542.8" cy="221.0" r="0.81" fill="rgb(226,226,226)"/>
<circle cx="545.0" cy="224.1" r="0.47" fill="rgb(226,226,226)"/>
<circle cx="540.7" cy="223.0" r="0.89" fill="rgb(43,43,43)"/>
<circle cx="540.5" cy="223.5" r="0.70" fill="rgb(226,226,226)"/>
<circle cx="539.9" cy="222.8" r="0.71" fill="rgb(43,43,43)"/>
<circle cx="542.4" cy="221.9" r="0.64" fill="rgb(226,226,226)"/>
<circle cx="540.3" cy="223.3" r="0.56" fill="rgb(43,43,43)"/>
<circle cx="541.1" cy="225.5" r="0.84" fill="rgb(43,43,43)"/>
<circle cx="540.4" cy="225.0" r="0.92" fill="rgb(43,43,43)"/>
<circle cx="541.3" cy="222.2" r="0.77" fill="rgb(226,226,226)"/>
<circle cx="542.1" cy="223.8" r="0.90" fill="rgb(43,43,43)"/>
<circle cx="544.0" cy="225.0" r="0.60" fill="rgb(43,43,43)"/>
<circle cx="545.2" cy="224.5" r="0.67" fill="rgb(43,43,43)"/>
<circle cx="544.3" cy="224.3" r="0.93" fill="rgb(226,226,226)"/>
<circle cx="544.2" cy="223.8" r="0.52" fill="rgb(43,43,43)"/>
<circle cx="543.0" cy="223.7" r="0.72" fill="rgb(226,226,226)"/>
<circle cx="543.0" cy="221.7" r="0.83" fill="rgb(226,226,226)"/>
<circle cx="557.7" cy="223.1" r="3.87" fill="rgb(144,144,144)"/>
<circle cx="555.8" cy="224.1" r="0.57" fill="rgb(226,226,226)"/>
<circle cx="558.9" cy="222.9" r="0.82" fill="rgb(226,226,226)"/>
<circle cx="560.4" cy="220.9" r="0.93" fill="rgb(226,226,226)"/>
<circle cx="556.1" cy="221.9" r="0.81" fill="rgb(226,226,226)"/>
<circle cx="557.6" cy="221.8" r="0.93" fill="rgb(226,226,226)"/>
<circle cx="560.3" cy="225.2" r="0.57" fill="rgb(226,226,226)"/>
<circle cx="557.6" cy="225.6" r="0.52" fill="rgb(37,37,37)"/>
<circle cx="559.0" cy="221.5" r="0.82" fill="rgb(226,226,226)"/>
<circle cx="556.8" cy="224.4" r="0.86" fill="rgb(226,226,226)"/>
<circle cx="559.5" cy="221.0" r="0.83" fill="rgb(226,226,226)"/>
<circle cx="555.0" cy="220.9" r="0.61" fill="rgb(37,37,37)"/>
<circle cx="559.6" cy="220.4" r="0.63" fill="rgb(226,226,226)"/>
<circle cx="556.2" cy="224.6" r="0.51" fill="rgb(226,226,226)"/>
<circle cx="558.2" cy="226.6" r="0.77" fill="rgb(226,226,226)"/>
<circle cx="560.1" cy="221.0" r="0.91" fill="rgb(226,226,226)"/>
<circle cx="558.9" cy="219.7" r="0.83" fill="rgb(37,37,37)"/>
<circle cx="558.4" cy="221.4" r="0.64" fill="rgb(37,37,37)"/>
<circle cx="558.4" cy="222.0" r="0.62" fill="rgb(226,226,226)"/>
<circle cx="558.6" cy="221.2" r="0.87" fill="rgb(37,37,37)"/>
<circle cx="558.7" cy="222.2" r="0.82" fill="rgb(37,37,37)"/>
<circle cx="556.4" cy="220.4" r="0.89" fill="rgb(226,226,226)"/>
<circle cx="555.3" cy="222.4" r="0.84" fill="rgb(226,226,226)"/>
<circle cx="558.4" cy="219.7" r="0.62" fill="rgb(226,226,226)"/>
<circle cx="557.7" cy="224.3" r="0.46" fill="rgb(226,226,226)"/>
<circle cx="558.2" cy="221.4" r="0.48" fill="rgb(226,226,226)"/>
<circle cx="557.6" cy="221.5" r="0.65" fill="rgb(226,226,226)"/>
<circle cx="574.1" cy="220.1" r="0.55" fill="rgb(202,202,202)"/>
<circle cx="574.9" cy="221.7" r="0.85" fill="rgb(209,209,209)"/>
<circle cx="571.9" cy="225.9" r="0.69" fill="rgb(169,169,169)"/>
<circle cx="570.5" cy="221.5" r="0.66" fill="rgb(193,193,193)"/>
<circle cx="570.4" cy="224.6" r="0.73" fill="rgb(175,175,175)"/>
<circle cx="571.8" cy="224.6" r="0.88" fill="rgb(206,206,206)"/>
<circle cx="575.3" cy="225.3" r="0.42" fill="rgb(199,199,199)"/>
<circle cx="570.6" cy="224.2" r="0.61" fill="rgb(168,168,168)"/>
<circle cx="570.2" cy="222.7" r="0.79" fill="rgb(185,185,185)"/>
<circle cx="573.6" cy="225.9" r="0.80" fill="rgb(176,176,176)"/>
<circle cx="575.5" cy="220.9" r="0.62" fill="rgb(186,186,186)"/>
<circle cx="572.3" cy="220.0" r="0.50" fill="rgb(181,181,181)"/>
<circle cx="571.8" cy="225.6" r="0.49" fill="rgb(197,197,197)"/>
<circle cx="585.5" cy="223.1" r="0.47" fill="rgb(223,223,223)"/>
<circle cx="589.7" cy="223.1" r="0.80" fill="rgb(174,174,174)"/>
<circle cx="511.8" cy="239.2" r="4.56" fill="rgb(173,173,173)"/>
<circle cx="514.2" cy="237.7" r="0.80" fill="rgb(125,125,125)"/>
<circle cx="513.3" cy="237.5" r="0.87" fill="rgb(125,125,125)"/>
<circle cx="512.0" cy="239.8" r="0.70" fill="rgb(125,125,125)"/>
<circle cx="514.7" cy="237.1" r="0.88" fill="rgb(125,125,125)"/>
<circle cx="508.2" cy="239.0" r="0.72" fill="rgb(125,125,125)"/>
<circle cx="513.7" cy="241.5" r="0.82" fill="rgb(125,125,125)"/>
<circle cx="526.4" cy="239.2" r="4.56" fill="rgb(151,151,151)"/>
<circle cx="523.8" cy="240.5" r="0.60" fill="rgb(110,110,110)"/>
<circle cx="526.0" cy="241.6" r="0.71" fill="rgb(110,110,110)"/>
<circle cx="525.3" cy="239.4" r="0.50" fill="rgb(110,110,110)"/>
<circle cx="524.7" cy="241.9" r="0.80" fill="rgb(110,110,110)"/>
<circle cx="526.6" cy="241.1" r="0.71" fill="rgb(110,110,110)"/>
<circle cx="527.7" cy="241.8" r="0.86" fill="rgb(110,110,110)"/>
<circle cx="542.2" cy="239.2" r="3.97" fill="rgb(151,151,151)"/>
<circle cx="543.1" cy="242.0" r="0.82" fill="rgb(40,40,40)"/>
<circle cx="541.4" cy="236.1" r="0.87" fill="rgb(226,226,226)"/>
<circle cx="543.0" cy="238.8" r="0.67" fill="rgb(40,40,40)"/>
<circle cx="543.1" cy="239.7" r="0.79" fill="rgb(40,40,40)"/>
<circle cx="543.8" cy="241.2" r="0.95" fill="rgb(40,40,40)"/>
<circle cx="540.5" cy="242.0" r="0.55" fill="rgb(226,226,226)"/>
<circle cx="543.5" cy="241.2" r="0.60" fill="rgb(40,40,40)"/>
<circle cx="543.1" cy="240.7" r="0.55" fill="rgb(226,226,226)"/>
<circle cx="541.1" cy="241.7" r="0.69" fill="rgb(226,226,226)"/>
<circle cx="538.7" cy="240.6" r="0.92" fill="rgb(226,226,226)"/>
<circle cx="540.5" cy="239.5" r="0.52" fill="rgb(40,40,40)"/>
<circle cx="542.7" cy="240.1" r="0.93" fill="rgb(40,40,40)"/>
<circle cx="540.4" cy="240.5" r="0.63" fill="rgb(226,226,226)"/>
<circle cx="541.3" cy="237.0" r="0.88" fill="rgb(226,226,226)"/>
<circle cx="541.9" cy="239.1" r="0.81" fill="rgb(40,40,40)"/>
<circle cx="540.4" cy="241.6" r="0.65" fill="rgb(40,40,40)"/>
<circle cx="540.3" cy="240.0" r="0.78" fill="rgb(40,40,40)"/>
<circle cx="541.9" cy="235.5" r="0.63" fill="rgb(226,226,226)"/>
<circle cx="544.2" cy="236.5" r="0.79" fill="rgb(40,40,40)"/>
<circle cx="540.2" cy="242.3" r="0.65" fill="rgb(226,226,226)"/>
<circle cx="542.7" cy="240.4" r="0.85" fill="rgb(40,40,40)"/>
<circle cx="544.3" cy="239.6" r="0.70" fill="rgb(226,226,226)"/>
<circle cx="539.9" cy="241.9" r="0.72" fill="rgb(226,226,226)"/>
<circle cx="544.9" cy="237.9" r="0.62" fill="rgb(226,226,226)"/>
<circle cx="540.0" cy="241.1" r="0.58" fill="rgb(40,40,40)"/>
<circle cx="540.6" cy="240.9" r="0.91" fill="rgb(226,226,226)"/>
<circle cx="557.7" cy="239.2" r="3.76" fill="rgb(136,136,136)"/>
<circle cx="555.9" cy="238.7" r="0.86" fill="rgb(226,226,226)"/>
<circle cx="559.3" cy="241.7" r="0.55" fill="rgb(226,226,226)"/>
<circle cx="560.7" cy="240.4" r="0.56" fill="rgb(226,226,226)"/>
<circle cx="559.4" cy="239.8" r="0.81" fill="rgb(35,35,35)"/>
<circle cx="560.6" cy="237.3" r="0.91" fill="rgb(35,35,35)"/>
<circle cx="560.6" cy="241.0" r="0.55" fill="rgb(226,226,226)"/>
<circle cx="557.7" cy="235.9" r="0.50" fill="rgb(226,226,226)"/>
<circle cx="559.9" cy="237.0" r="0.94" fill="rgb(35,35,35)"/>
<circle cx="558.5" cy="239.4" r="0.46" fill="rgb(226,226,226)"/>
<circle cx="557.0" cy="236.5" r="0.53" fill="rgb(226,226,226)"/>
<circle cx="558.9" cy="241.7" r="0.93" fill="rgb(35,35,35)"/>
<circle cx="555.4" cy="241.9" r="0.65" fill="rgb(226,226,226)"/>
<circle cx="557.7" cy="240.9" r="0.95" fill="rgb(35,35,35)"/>
<circle cx="557.3" cy="237.8" r="0.53" fill="rgb(226,226,226)"/>
<circle cx="555.9" cy="241.7" r="0.72" fill="rgb(226,226,226)"/>
<circle cx="557.4" cy="238.6" r="0.85" fill="rgb(226,226,226)"/>
<circle cx="555.6" cy="238.1" r="0.75" fill="rgb(35,35,35)"/>
<circle cx="556.5" cy="241.1" r="0.88" fill="rgb(35,35,35)"/>
<circle cx="560.0" cy="237.8" r="0.54" fill="rgb(226,226,226)"/>
<circle cx="555.5" cy="241.2" r="0.85" fill="rgb(226,226,226)"/>
<circle cx="558.3" cy="236.7" r="0.85" fill="rgb(226,226,226)"/>
<circle cx="555.2" cy="240.7" r="0.81" fill="rgb(35,35,35)"/>
<circle cx="554.8" cy="241.1" r="0.91" fill="rgb(35,35,35)"/>
<circle cx="556.2" cy="237.9" r="0.58" fill="rgb(226,226,226)"/>
<circle cx="560.3" cy="237.4" r="0.86" fill="rgb(35,35,35)"/>
<circle cx="560.7" cy="239.0" r="0.83" fill="rgb(226,226,226)"/>
<circle cx="572.9" cy="241.5" r="0.48" fill="rgb(216,216,216)"/>
<circle cx="571.5" cy="239.3" r="0.86" fill="rgb(167,167,167)"/>
<circle cx="575.5" cy="238.1" r="0.47" fill="rgb(210,210,210)"/>
<circle cx="570.5" cy="237.9" r="0.69" fill="rgb(189,189,189)"/>
<circle cx="573.9" cy="238.8" r="0.79" fill="rgb(168,168,168)"/>
<circle cx="572.9" cy="240.2" r="0.84" fill="rgb(190,190,190)"/>
<circle cx="572.9" cy="237.7" r="0.77" fill="rgb(203,203,203)"/>
<circle cx="574.8" cy="240.4" r="0.76" fill="rgb(176,176,176)"/>
<circle cx="586.9" cy="238.0" r="0.59" fill="rgb(220,220,220)"/>
<circle cx="590.3" cy="238.2" r="0.61" fill="rgb(198,198,198)"/>
<circle cx="511.8" cy="254.4" r="4.56" fill="rgb(183,183,183)"/>
<circle cx="513.0" cy="251.3" r="0.68" fill="rgb(132,132,132)"/>
<circle cx="513.4" cy="252.6" r="0.88" fill="rgb(132,132,132)"/>
<circle cx="510.5" cy="254.6" r="0.80" fill="rgb(132,132,132)"/>
<circle cx="513.7" cy="256.8" r="0.52" fill="rgb(132,132,132)"/>
<circle cx="514.6" cy="254.2" r="0.80" fill="rgb(132,132,132)"/>
<circle cx="513.8" cy="256.6" r="0.65" fill="rgb(132,132,132)"/>
<circle cx="526.4" cy="254.4" r="4.56" fill="rgb(162,162,162)"/>
<circle cx="526.4" cy="257.8" r="0.51" fill="rgb(117,117,117)"/>
<circle cx="525.3" cy="254.6" r="0.84" fill="rgb(117,117,117)"/>
<circle cx="526.9" cy="254.0" r="0.69" fill="rgb(117,117,117)"/>
<circle cx="523.3" cy="255.0" r="0.79" fill="rgb(117,117,117)"/>
<circle cx="524.4" cy="257.4" r="0.57" fill="rgb(117,117,117)"/>
<circle cx="528.6" cy="257.0" r="0.55" fill="rgb(117,117,117)"/>
<circle cx="542.2" cy="254.4" r="3.97" fill="rgb(151,151,151)"/>
<circle cx="543.2" cy="256.9" r="0.53" fill="rgb(226,226,226)"/>
<circle cx="544.5" cy="253.3" r="0.58" fill="rgb(40,40,40)"/>
<circle cx="543.7" cy="253.5" r="0.76" fill="rgb(40,40,40)"/>
<circle cx="545.5" cy="253.8" r="0.72" fill="rgb(40,40,40)"/>
<circle cx="543.7" cy="252.4" r="0.91" fill="rgb(226,226,226)"/>
<circle cx="543.3" cy="251.5" r="0.57" fill="rgb(40,40,40)"/>
<circle cx="538.9" cy="255.2" r="0.91" fill="rgb(40,40,40)"/>
<circle cx="543.9" cy="257.0" r="0.65" fill="rgb(40,40,40)"/>
<circle cx="542.9" cy="255.6" r="0.70" fill="rgb(226,226,226)"/>
<circle cx="541.9" cy="256.7" r="0.83" fill="rgb(40,40,40)"/>
<circle cx="540.9" cy="253.6" r="0.63" fill="rgb(40,40,40)"/>
<circle cx="545.8" cy="253.5" r="0.74" fill="rgb(226,226,226)"/>
<circle cx="544.5" cy="253.9" r="0.61" fill="rgb(226,226,226)"/>
<circle cx="543.9" cy="254.7" r="0.59" fill="rgb(226,226,226)"/>
<circle cx="540.3" cy="252.3" r="0.79" fill="rgb(40,40,40)"/>
<circle cx="539.8" cy="257.2" r="0.72" fill="rgb(40,40,40)"/>
<circle cx="544.2" cy="252.1" r="0.75" fill="rgb(226,226,226)"/>
<circle cx="541.0" cy="257.9" r="0.94" fill="rgb(226,226,226)"/>
<circle cx="542.5" cy="254.5" r="0.55" fill="rgb(40,40,40)"/>
<circle cx="540.9" cy="254.3" r="0.78" fill="rgb(40,40,40)"/>
<circle cx="540.7" cy="251.1" r="0.79" fill="rgb(40,40,40)"/>
<circle cx="542.2" cy="254.2" r="0.66" fill="rgb(226,226,226)"/>
<circle cx="544.3" cy="254.0" r="0.45" fill="rgb(40,40,40)"/>
<circle cx="539.1" cy="256.2" r="0.86" fill="rgb(40,40,40)"/>
<circle cx="543.9" cy="254.5" r="0.87" fill="rgb(226,226,226)"/>
<circle cx="545.1" cy="256.6" r="0.89" fill="rgb(226,226,226)"/>
<circle cx="557.7" cy="254.4" r="3.97" fill="rgb(151,151,151)"/>
<circle cx="555.6" cy="254.2" r="0.65" fill="rgb(40,40,40)"/>
<circle cx="557.4" cy="253.5" r="0.94" fill="rgb(40,40,40)"/>
<circle cx="560.2" cy="256.5" r="0.52" fill="rgb(226,226,226)"/>
<circle cx="555.7" cy="256.7" r="0.95" fill="rgb(40,40,40)"/>
<circle cx="560.7" cy="254.3" r="0.53" fill="rgb(40,40,40)"/>
<circle cx="557.3" cy="251.6" r="0.90" fill="rgb(226,226,226)"/>
<circle cx="557.7" cy="255.8" r="0.52" fill="rgb(226,226,226)"/>
<circle cx="554.8" cy="252.6" r="0.70" fill="rgb(226,226,226)"/>
<circle cx="555.2" cy="253.1" r="0.72" fill="rgb(226,226,226)"/>
<circle cx="558.6" cy="254.5" r="0.57" fill="rgb(226,226,226)"/>
<circle cx="557.8" cy="252.5" r="0.57" fill="rgb(40,40,40)"/>
<circle cx="559.9" cy="255.8" r="0.62" fill="rgb(226,226,226)"/>
<circle cx="557.9" cy="252.6" r="0.87" fill="rgb(40,40,40)"/>
<circle cx="555.1" cy="255.2" r="0.75" fill="rgb(40,40,40)"/>
<circle cx="558.1" cy="255.3" r="0.62" fill="rgb(226,226,226)"/>
<circle cx="560.3" cy="256.0" r="0.60" fill="rgb(226,226,226)"/>
<circle cx="554.1" cy="254.1" r="0.53" fill="rgb(226,226,226)"/>
<circle cx="557.0" cy="256.4" r="0.80" fill="rgb(40,40,40)"/>
<circle cx="556.3" cy="255.1" r="0.51" fill="rgb(226,226,226)"/>
<circle cx="559.4" cy="251.9" r="0.76" fill="rgb(226,226,226)"/>
<circle cx="560.2" cy="255.4" r="0.50" fill="rgb(226,226,226)"/>
<circle cx="557.5" cy="251.2" r="0.53" fill="rgb(226,226,226)"/>
<circle cx="556.5" cy="252.2" r="0.50" fill="rgb(40,40,40)"/>
<circle cx="557.9" cy="254.3" r="0.65" fill="rgb(226,226,226)"/>
<circle cx="558.1" cy="255.5" r="0.95" fill="rgb(40,40,40)"/>
<circle cx="556.7" cy="256.1" r="0.56" fill="rgb(40,40,40)"/>
<circle cx="570.9" cy="256.0" r="0.62" fill="rgb(172,172,172)"/>
<circle cx="575.3" cy="255.4" r="0.90" fill="rgb(220,220,220)"/>
<circle cx="575.0" cy="255.8" r="0.64" fill="rgb(174,174,174)"/>
<circle cx="572.0" cy="252.4" r="0.80" fill="rgb(180,180,180)"/>
<circle cx="575.8" cy="253.2" r="0.64" fill="rgb(171,171,171)"/>
<circle cx="571.9" cy="254.5" r="0.74" fill="rgb(206,206,206)"/>
<circle cx="570.2" cy="252.9" r="0.42" fill="rgb(207,207,207)"/>
<circle cx="573.4" cy="253.4" r="0.56" fill="rgb(165,165,165)"/>
<circle cx="570.7" cy="253.0" r="0.57" fill="rgb(206,206,206)"/>
<circle cx="571.2" cy="256.5" r="0.54" fill="rgb(224,224,224)"/>
<circle cx="572.9" cy="254.5" r="0.45" fill="rgb(208,208,208)"/>
<circle cx="574.8" cy="252.4" r="0.48" fill="rgb(217,217,217)"/>
<circle cx="572.9" cy="253.3" r="0.59" fill="rgb(205,205,205)"/>
<circle cx="588.3" cy="254.4" r="0.58" fill="rgb(218,218,218)"/>
<circle cx="589.3" cy="254.4" r="0.85" fill="rgb(212,212,212)"/>
<circle cx="589.2" cy="252.8" r="0.88" fill="rgb(203,203,203)"/>
<circle cx="589.7" cy="253.7" r="0.50" fill="rgb(195,195,195)"/>
<circle cx="586.0" cy="254.6" r="0.59" fill="rgb(194,194,194)"/>
<text x="269.60" y="282.00" font-size="17.00" text-anchor="start" fill="#000" font-weight="bold"><tspan>d</tspan></text>
<rect x="303.70" y="289.80" width="379.70" height="141.50" fill="#fff"/>
<line x1="303.70" y1="313.38" x2="683.40" y2="313.38" stroke="#a8a8a8" stroke-width="0.90" stroke-dasharray="1.2 1.6"/>
<line x1="303.70" y1="336.94" x2="683.40" y2="336.94" stroke="#a8a8a8" stroke-width="0.90" stroke-dasharray="1.2 1.6"/>
<line x1="303.70" y1="384.06" x2="683.40" y2="384.06" stroke="#a8a8a8" stroke-width="0.90" stroke-dasharray="1.2 1.6"/>
<line x1="303.70" y1="407.62" x2="683.40" y2="407.62" stroke="#a8a8a8" stroke-width="0.90" stroke-dasharray="1.2 1.6"/>
<line x1="316.60" y1="289.80" x2="316.60" y2="431.30" stroke="#a8a8a8" stroke-width="0.90" stroke-dasharray="1.2 1.6"/>
<line x1="337.25" y1="289.80" x2="337.25" y2="431.30" stroke="#a8a8a8" stroke-width="0.90" stroke-dasharray="1.2 1.6"/>
<line x1="357.90" y1="289.80" x2="357.90" y2="431.30" stroke="#a8a8a8" stroke-width="0.90" stroke-dasharray="1.2 1.6"/>
<line x1="378.55" y1="289.80" x2="378.55" y2="431.30" stroke="#a8a8a8" stroke-width="0.90" stroke-dasharray="1.2 1.6"/>
<line x1="399.20" y1="289.80" x2="399.20" y2="431.30" stroke="#a8a8a8" stroke-width="0.90" stroke-dasharray="1.2 1.6"/>
<line x1="419.85" y1="289.80" x2="419.85" y2="431.30" stroke="#a8a8a8" stroke-width="0.90" stroke-dasharray="1.2 1.6"/>
<line x1="440.50" y1="289.80" x2="440.50" y2="431.30" stroke="#a8a8a8" stroke-width="0.90" stroke-dasharray="1.2 1.6"/>
<line x1="461.15" y1="289.80" x2="461.15" y2="431.30" stroke="#a8a8a8" stroke-width="0.90" stroke-dasharray="1.2 1.6"/>
<line x1="481.80" y1="289.80" x2="481.80" y2="431.30" stroke="#a8a8a8" stroke-width="0.90" stroke-dasharray="1.2 1.6"/>
<line x1="502.45" y1="289.80" x2="502.45" y2="431.30" stroke="#a8a8a8" stroke-width="0.90" stroke-dasharray="1.2 1.6"/>
<line x1="523.10" y1="289.80" x2="523.10" y2="431.30" stroke="#a8a8a8" stroke-width="0.90" stroke-dasharray="1.2 1.6"/>
<line x1="543.75" y1="289.80" x2="543.75" y2="431.30" stroke="#a8a8a8" stroke-width="0.90" stroke-dasharray="1.2 1.6"/>
<line x1="564.40" y1="289.80" x2="564.40" y2="431.30" stroke="#a8a8a8" stroke-width="0.90" stroke-dasharray="1.2 1.6"/>
<line x1="585.05" y1="289.80" x2="585.05" y2="431.30" stroke="#a8a8a8" stroke-width="0.90" stroke-dasharray="1.2 1.6"/>
<line x1="605.70" y1="289.80" x2="605.70" y2="431.30" stroke="#a8a8a8" stroke-width="0.90" stroke-dasharray="1.2 1.6"/>
<line x1="626.35" y1="289.80" x2="626.35" y2="431.30" stroke="#a8a8a8" stroke-width="0.90" stroke-dasharray="1.2 1.6"/>
<line x1="647.00" y1="289.80" x2="647.00" y2="431.30" stroke="#a8a8a8" stroke-width="0.90" stroke-dasharray="1.2 1.6"/>
<line x1="667.65" y1="289.80" x2="667.65" y2="431.30" stroke="#a8a8a8" stroke-width="0.90" stroke-dasharray="1.2 1.6"/>
<rect x="309.40" y="360.50" width="14.40" height="43.59" fill="#f7dede" stroke="#111" stroke-width="1.30"/>
<rect x="330.05" y="360.50" width="14.40" height="58.90" fill="#f7dede" stroke="#111" stroke-width="1.30"/>
<rect x="350.70" y="341.65" width="14.40" height="18.85" fill="#f7dede" stroke="#111" stroke-width="1.30"/>
<rect x="371.35" y="360.50" width="14.40" height="54.19" fill="#b97aa5" stroke="#111" stroke-width="1.30"/>
<rect x="392.00" y="360.50" width="14.40" height="54.19" fill="#b97aa5" stroke="#111" stroke-width="1.30"/>
<rect x="412.65" y="345.19" width="14.40" height="15.31" fill="#b97aa5" stroke="#111" stroke-width="1.30"/>
<rect x="433.30" y="316.32" width="14.40" height="44.18" fill="#deeaf8" stroke="#111" stroke-width="1.30"/>
<rect x="453.95" y="311.02" width="14.40" height="49.48" fill="#deeaf8" stroke="#111" stroke-width="1.30"/>
<rect x="474.60" y="351.67" width="14.40" height="8.83" fill="#deeaf8" stroke="#111" stroke-width="1.30"/>
<rect x="495.25" y="345.77" width="14.40" height="14.73" fill="#deeaf8" stroke="#111" stroke-width="1.30"/>
<rect x="515.90" y="335.17" width="14.40" height="25.33" fill="#deeaf8" stroke="#111" stroke-width="1.30"/>
<rect x="536.55" y="360.50" width="14.40" height="29.45" fill="#deeaf8" stroke="#111" stroke-width="1.30"/>
<rect x="557.20" y="319.86" width="14.40" height="40.64" fill="#8eafd9" stroke="#111" stroke-width="1.30"/>
<rect x="577.85" y="319.86" width="14.40" height="40.64" fill="#8eafd9" stroke="#111" stroke-width="1.30"/>
<rect x="598.50" y="357.56" width="14.40" height="2.94" fill="#8eafd9" stroke="#111" stroke-width="1.30"/>
<rect x="619.15" y="360.50" width="14.40" height="11.19" fill="#8eafd9" stroke="#111" stroke-width="1.30"/>
<rect x="639.80" y="354.61" width="14.40" height="5.89" fill="#8eafd9" stroke="#111" stroke-width="1.30"/>
<rect x="660.45" y="360.50" width="14.40" height="25.92" fill="#8eafd9" stroke="#111" stroke-width="1.30"/>
<line x1="316.60" y1="393.48" x2="316.60" y2="415.28" stroke="#111" stroke-width="1.20"/>
<line x1="313.80" y1="393.48" x2="319.40" y2="393.48" stroke="#111" stroke-width="1.20"/>
<line x1="313.80" y1="415.28" x2="319.40" y2="415.28" stroke="#111" stroke-width="1.20"/>
<circle cx="316.60" cy="394.66" r="2.00" fill="#f09a9a"/>
<circle cx="316.60" cy="404.09" r="2.00" fill="#f09a9a"/>
<circle cx="316.60" cy="414.69" r="2.00" fill="#f09a9a"/>
<line x1="337.25" y1="417.63" x2="337.25" y2="421.17" stroke="#111" stroke-width="1.20"/>
<line x1="334.45" y1="417.63" x2="340.05" y2="417.63" stroke="#111" stroke-width="1.20"/>
<line x1="334.45" y1="421.17" x2="340.05" y2="421.17" stroke="#111" stroke-width="1.20"/>
<circle cx="337.25" cy="417.63" r="2.00" fill="#f09a9a"/>
<circle cx="337.25" cy="420.58" r="2.00" fill="#f09a9a"/>
<circle cx="337.25" cy="421.76" r="2.00" fill="#f09a9a"/>
<line x1="357.90" y1="337.53" x2="357.90" y2="345.77" stroke="#111" stroke-width="1.20"/>
<line x1="355.10" y1="337.53" x2="360.70" y2="337.53" stroke="#111" stroke-width="1.20"/>
<line x1="355.10" y1="345.77" x2="360.70" y2="345.77" stroke="#111" stroke-width="1.20"/>
<circle cx="357.90" cy="338.12" r="2.00" fill="#f09a9a"/>
<circle cx="357.90" cy="343.42" r="2.00" fill="#f09a9a"/>
<circle cx="357.90" cy="345.19" r="2.00" fill="#f09a9a"/>
<line x1="378.55" y1="412.33" x2="378.55" y2="417.04" stroke="#111" stroke-width="1.20"/>
<line x1="375.75" y1="412.33" x2="381.35" y2="412.33" stroke="#111" stroke-width="1.20"/>
<line x1="375.75" y1="417.04" x2="381.35" y2="417.04" stroke="#111" stroke-width="1.20"/>
<circle cx="378.55" cy="412.92" r="2.00" fill="#8a2a8a"/>
<circle cx="378.55" cy="414.69" r="2.00" fill="#8a2a8a"/>
<circle cx="378.55" cy="416.45" r="2.00" fill="#8a2a8a"/>
<line x1="399.20" y1="413.51" x2="399.20" y2="415.87" stroke="#111" stroke-width="1.20"/>
<line x1="396.40" y1="413.51" x2="402.00" y2="413.51" stroke="#111" stroke-width="1.20"/>
<line x1="396.40" y1="415.87" x2="402.00" y2="415.87" stroke="#111" stroke-width="1.20"/>
<circle cx="399.20" cy="413.51" r="2.00" fill="#8a2a8a"/>
<circle cx="399.20" cy="414.69" r="2.00" fill="#8a2a8a"/>
<circle cx="399.20" cy="415.87" r="2.00" fill="#8a2a8a"/>
<line x1="419.85" y1="336.94" x2="419.85" y2="352.25" stroke="#111" stroke-width="1.20"/>
<line x1="417.05" y1="336.94" x2="422.65" y2="336.94" stroke="#111" stroke-width="1.20"/>
<line x1="417.05" y1="352.25" x2="422.65" y2="352.25" stroke="#111" stroke-width="1.20"/>
<path d="M419.85 334.85 L417.76 338.46 L421.94 338.46 Z" fill="#8a1a8a"/>
<path d="M419.85 343.10 L417.76 346.71 L421.94 346.71 Z" fill="#8a1a8a"/>
<path d="M419.85 350.16 L417.76 353.77 L421.94 353.77 Z" fill="#8a1a8a"/>
<line x1="440.50" y1="310.44" x2="440.50" y2="321.63" stroke="#111" stroke-width="1.20"/>
<line x1="437.70" y1="310.44" x2="443.30" y2="310.44" stroke="#111" stroke-width="1.20"/>
<line x1="437.70" y1="321.63" x2="443.30" y2="321.63" stroke="#111" stroke-width="1.20"/>
<path d="M440.50 308.93 L438.41 312.54 L442.59 312.54 Z" fill="#7aaae0"/>
<path d="M440.50 314.24 L438.41 317.84 L442.59 317.84 Z" fill="#7aaae0"/>
<path d="M440.50 319.54 L438.41 323.15 L442.59 323.15 Z" fill="#7aaae0"/>
<line x1="461.15" y1="306.31" x2="461.15" y2="316.91" stroke="#111" stroke-width="1.20"/>
<line x1="458.35" y1="306.31" x2="463.95" y2="306.31" stroke="#111" stroke-width="1.20"/>
<line x1="458.35" y1="316.91" x2="463.95" y2="316.91" stroke="#111" stroke-width="1.20"/>
<path d="M461.15 304.22 L459.06 307.83 L463.24 307.83 Z" fill="#7aaae0"/>
<path d="M461.15 308.93 L459.06 312.54 L463.24 312.54 Z" fill="#7aaae0"/>
<path d="M461.15 314.24 L459.06 317.84 L463.24 317.84 Z" fill="#7aaae0"/>
<line x1="481.80" y1="350.49" x2="481.80" y2="352.84" stroke="#111" stroke-width="1.20"/>
<line x1="479.00" y1="350.49" x2="484.60" y2="350.49" stroke="#111" stroke-width="1.20"/>
<line x1="479.00" y1="352.84" x2="484.60" y2="352.84" stroke="#111" stroke-width="1.20"/>
<path d="M481.80 348.40 L479.71 352.01 L483.89 352.01 Z" fill="#7aaae0"/>
<path d="M481.80 349.58 L479.71 353.19 L483.89 353.19 Z" fill="#7aaae0"/>
<path d="M481.80 350.16 L479.71 353.77 L483.89 353.77 Z" fill="#7aaae0"/>
<line x1="502.45" y1="339.88" x2="502.45" y2="352.25" stroke="#111" stroke-width="1.20"/>
<line x1="499.65" y1="339.88" x2="505.25" y2="339.88" stroke="#111" stroke-width="1.20"/>
<line x1="499.65" y1="352.25" x2="505.25" y2="352.25" stroke="#111" stroke-width="1.20"/>
<path d="M502.45 337.80 L500.36 341.40 L504.54 341.40 Z" fill="#7aaae0"/>
<path d="M502.45 347.81 L500.36 351.42 L504.54 351.42 Z" fill="#7aaae0"/>
<path d="M502.45 349.58 L500.36 353.19 L504.54 353.19 Z" fill="#7aaae0"/>
<line x1="523.10" y1="334.00" x2="523.10" y2="336.35" stroke="#111" stroke-width="1.20"/>
<line x1="520.30" y1="334.00" x2="525.90" y2="334.00" stroke="#111" stroke-width="1.20"/>
<line x1="520.30" y1="336.35" x2="525.90" y2="336.35" stroke="#111" stroke-width="1.20"/>
<path d="M523.10 332.49 L521.01 336.10 L525.19 336.10 Z" fill="#7aaae0"/>
<path d="M523.10 333.08 L521.01 336.69 L525.19 336.69 Z" fill="#7aaae0"/>
<path d="M523.10 333.67 L521.01 337.28 L525.19 337.28 Z" fill="#7aaae0"/>
<line x1="543.75" y1="386.42" x2="543.75" y2="394.07" stroke="#111" stroke-width="1.20"/>
<line x1="540.95" y1="386.42" x2="546.55" y2="386.42" stroke="#111" stroke-width="1.20"/>
<line x1="540.95" y1="394.07" x2="546.55" y2="394.07" stroke="#111" stroke-width="1.20"/>
<path d="M543.75 384.92 L541.66 388.52 L545.84 388.52 Z" fill="#7aaae0"/>
<path d="M543.75 388.45 L541.66 392.06 L545.84 392.06 Z" fill="#7aaae0"/>
<path d="M543.75 391.98 L541.66 395.59 L545.84 395.59 Z" fill="#7aaae0"/>
<line x1="564.40" y1="318.68" x2="564.40" y2="320.68" stroke="#111" stroke-width="1.20"/>
<line x1="561.60" y1="318.68" x2="567.20" y2="318.68" stroke="#111" stroke-width="1.20"/>
<line x1="561.60" y1="320.68" x2="567.20" y2="320.68" stroke="#111" stroke-width="1.20"/>
<path d="M564.40 316.59 L562.31 320.20 L566.49 320.20 Z" fill="#1a1aff"/>
<path d="M564.40 317.77 L562.31 321.38 L566.49 321.38 Z" fill="#1a1aff"/>
<path d="M564.40 318.36 L562.31 321.97 L566.49 321.97 Z" fill="#1a1aff"/>
<line x1="585.05" y1="309.85" x2="585.05" y2="327.52" stroke="#111" stroke-width="1.20"/>
<line x1="582.25" y1="309.85" x2="587.85" y2="309.85" stroke="#111" stroke-width="1.20"/>
<line x1="582.25" y1="327.52" x2="587.85" y2="327.52" stroke="#111" stroke-width="1.20"/>
<path d="M585.05 307.76 L582.96 311.37 L587.14 311.37 Z" fill="#1a1aff"/>
<path d="M585.05 323.07 L582.96 326.68 L587.14 326.68 Z" fill="#1a1aff"/>
<path d="M585.05 325.43 L582.96 329.04 L587.14 329.04 Z" fill="#1a1aff"/>
<line x1="605.70" y1="356.38" x2="605.70" y2="358.73" stroke="#111" stroke-width="1.20"/>
<line x1="602.90" y1="356.38" x2="608.50" y2="356.38" stroke="#111" stroke-width="1.20"/>
<line x1="602.90" y1="358.73" x2="608.50" y2="358.73" stroke="#111" stroke-width="1.20"/>
<path d="M605.70 354.29 L603.61 357.90 L607.79 357.90 Z" fill="#1a1aff"/>
<path d="M605.70 355.47 L603.61 359.07 L607.79 359.07 Z" fill="#1a1aff"/>
<path d="M605.70 356.64 L603.61 360.25 L607.79 360.25 Z" fill="#1a1aff"/>
<line x1="626.35" y1="367.57" x2="626.35" y2="375.81" stroke="#111" stroke-width="1.20"/>
<line x1="623.55" y1="367.57" x2="629.15" y2="367.57" stroke="#111" stroke-width="1.20"/>
<line x1="623.55" y1="375.81" x2="629.15" y2="375.81" stroke="#111" stroke-width="1.20"/>
<path d="M626.35 366.07 L624.26 369.68 L628.44 369.68 Z" fill="#1a1aff"/>
<path d="M626.35 370.19 L624.26 373.80 L628.44 373.80 Z" fill="#1a1aff"/>
<path d="M626.35 373.72 L624.26 377.33 L628.44 377.33 Z" fill="#1a1aff"/>
<line x1="647.00" y1="347.54" x2="647.00" y2="361.68" stroke="#111" stroke-width="1.20"/>
<line x1="644.20" y1="347.54" x2="649.80" y2="347.54" stroke="#111" stroke-width="1.20"/>
<line x1="644.20" y1="361.68" x2="649.80" y2="361.68" stroke="#111" stroke-width="1.20"/>
<path d="M647.00 345.45 L644.91 349.06 L649.09 349.06 Z" fill="#1a1aff"/>
<path d="M647.00 352.52 L644.91 356.13 L649.09 356.13 Z" fill="#1a1aff"/>
<path d="M647.00 359.00 L644.91 362.61 L649.09 362.61 Z" fill="#1a1aff"/>
<line x1="667.65" y1="382.88" x2="667.65" y2="389.95" stroke="#111" stroke-width="1.20"/>
<line x1="664.85" y1="382.88" x2="670.45" y2="382.88" stroke="#111" stroke-width="1.20"/>
<line x1="664.85" y1="389.95" x2="670.45" y2="389.95" stroke="#111" stroke-width="1.20"/>
<path d="M667.65 381.38 L665.56 384.99 L669.74 384.99 Z" fill="#1a1aff"/>
<path d="M667.65 384.33 L665.56 387.94 L669.74 387.94 Z" fill="#1a1aff"/>
<path d="M667.65 387.86 L665.56 391.47 L669.74 391.47 Z" fill="#1a1aff"/>
<line x1="303.70" y1="360.50" x2="683.40" y2="360.50" stroke="#111" stroke-width="1.30"/>
<line x1="430.40" y1="289.80" x2="430.40" y2="431.30" stroke="#333" stroke-width="1.20"/>
<rect x="303.70" y="289.80" width="379.70" height="141.50" fill="none" stroke="#222" stroke-width="1.8"/>
<text x="299.70" y="293.42" font-size="10.00" text-anchor="end" fill="#1a1a1a"><tspan>6</tspan></text>
<line x1="303.70" y1="289.82" x2="307.20" y2="289.82" stroke="#222" stroke-width="1.20"/>
<line x1="679.90" y1="289.82" x2="683.40" y2="289.82" stroke="#222" stroke-width="1.20"/>
<text x="299.70" y="316.98" font-size="10.00" text-anchor="end" fill="#1a1a1a"><tspan>4</tspan></text>
<line x1="303.70" y1="313.38" x2="307.20" y2="313.38" stroke="#222" stroke-width="1.20"/>
<line x1="679.90" y1="313.38" x2="683.40" y2="313.38" stroke="#222" stroke-width="1.20"/>
<text x="299.70" y="340.54" font-size="10.00" text-anchor="end" fill="#1a1a1a"><tspan>2</tspan></text>
<line x1="303.70" y1="336.94" x2="307.20" y2="336.94" stroke="#222" stroke-width="1.20"/>
<line x1="679.90" y1="336.94" x2="683.40" y2="336.94" stroke="#222" stroke-width="1.20"/>
<text x="299.70" y="364.10" font-size="10.00" text-anchor="end" fill="#1a1a1a"><tspan>0</tspan></text>
<line x1="303.70" y1="360.50" x2="307.20" y2="360.50" stroke="#222" stroke-width="1.20"/>
<line x1="679.90" y1="360.50" x2="683.40" y2="360.50" stroke="#222" stroke-width="1.20"/>
<text x="299.70" y="387.66" font-size="10.00" text-anchor="end" fill="#1a1a1a"><tspan>-2</tspan></text>
<line x1="303.70" y1="384.06" x2="307.20" y2="384.06" stroke="#222" stroke-width="1.20"/>
<line x1="679.90" y1="384.06" x2="683.40" y2="384.06" stroke="#222" stroke-width="1.20"/>
<text x="299.70" y="411.22" font-size="10.00" text-anchor="end" fill="#1a1a1a"><tspan>-4</tspan></text>
<line x1="303.70" y1="407.62" x2="307.20" y2="407.62" stroke="#222" stroke-width="1.20"/>
<line x1="679.90" y1="407.62" x2="683.40" y2="407.62" stroke="#222" stroke-width="1.20"/>
<text x="299.70" y="434.78" font-size="10.00" text-anchor="end" fill="#1a1a1a"><tspan>-6</tspan></text>
<line x1="303.70" y1="431.18" x2="307.20" y2="431.18" stroke="#222" stroke-width="1.20"/>
<line x1="679.90" y1="431.18" x2="683.40" y2="431.18" stroke="#222" stroke-width="1.20"/>
<text transform="translate(282.8 356) rotate(-90)" font-size="9.6" text-anchor="middle" fill="#1a1a1a">log<tspan font-size="6.5" dy="2">2</tspan><tspan dy="-2">(Relative mRNA level)</tspan></text>
<text x="366.80" y="284.00" font-size="10.00" text-anchor="middle" fill="#1a1a1a"><tspan font-style="italic">KmSPS22</tspan></text>
<text x="556.00" y="284.00" font-size="10.00" text-anchor="middle" fill="#1a1a1a"><tspan font-style="italic">ScSPS22</tspan></text>
<rect x="388.40" y="293.70" width="12.80" height="6.10" fill="#f7dede" stroke="#111" stroke-width="1.10"/>
<text x="425.80" y="300.40" font-size="10.00" text-anchor="end" fill="#1a1a1a"><tspan>YPD</tspan></text>
<rect x="360.40" y="304.70" width="12.60" height="6.10" fill="#b97aa5" stroke="#111" stroke-width="1.10"/>
<text x="425.80" y="311.40" font-size="10.00" text-anchor="end" fill="#1a1a1a"><tspan>YPD+NaCl</tspan></text>
<rect x="636.00" y="293.40" width="13.40" height="5.80" fill="#deeaf8" stroke="#111" stroke-width="1.10"/>
<text x="678.00" y="300.00" font-size="10.00" text-anchor="end" fill="#1a1a1a"><tspan>YPD</tspan></text>
<rect x="612.60" y="304.40" width="13.40" height="5.80" fill="#8eafd9" stroke="#111" stroke-width="1.10"/>
<text x="678.00" y="311.00" font-size="10.00" text-anchor="end" fill="#1a1a1a"><tspan>YPD+NaCl</tspan></text>
<text x="455.50" y="297.20" font-size="6.60" text-anchor="middle" fill="#111" font-weight="bold">NS, p = 0.945</text>
<path d="M445.00 303.00 L445.00 301.50 L456.30 301.50 L456.30 303.00" fill="none" stroke="#111" stroke-width="1.1"/>
<text x="517.00" y="322.00" font-size="6.60" text-anchor="middle" fill="#111" font-weight="bold">NS, p = 0.193</text>
<path d="M507.20 328.30 L507.20 326.80 L518.60 326.80 L518.60 328.30" fill="none" stroke="#111" stroke-width="1.1"/>
<text x="579.00" y="301.00" font-size="6.60" text-anchor="middle" fill="#111" font-weight="bold">NS, p = 1.000</text>
<path d="M569.30 306.50 L569.30 305.00 L580.30 305.00 L580.30 306.50" fill="none" stroke="#111" stroke-width="1.1"/>
<text x="641.50" y="337.50" font-size="6.60" text-anchor="middle" fill="#111" font-weight="bold">**, p = 0.006</text>
<path d="M631.20 342.90 L631.20 341.40 L642.60 341.40 L642.60 342.90" fill="none" stroke="#111" stroke-width="1.1"/>
<text transform="translate(321.60 438.50) rotate(-58.0)" font-size="9.50" text-anchor="end" fill="#1a1a1a"><tspan>KS-R3</tspan></text>
<text transform="translate(342.25 438.50) rotate(-58.0)" font-size="9.50" text-anchor="end" fill="#1a1a1a"><tspan font-style="italic">Km</tspan><tspan>-V</tspan></text>
<text transform="translate(362.90 438.50) rotate(-58.0)" font-size="9.50" text-anchor="end" fill="#1a1a1a"><tspan font-style="italic">Km</tspan><tspan>[</tspan><tspan font-style="italic">KmSPS22</tspan><tspan font-size="5.9" dy="1.1">CEN</tspan><tspan dy="-1.1">]</tspan></text>
<text transform="translate(383.55 438.50) rotate(-58.0)" font-size="9.50" text-anchor="end" fill="#1a1a1a"><tspan>KS-R3</tspan></text>
<text transform="translate(404.20 438.50) rotate(-58.0)" font-size="9.50" text-anchor="end" fill="#1a1a1a"><tspan font-style="italic">Km</tspan><tspan>-V</tspan></text>
<text transform="translate(424.85 438.50) rotate(-58.0)" font-size="9.50" text-anchor="end" fill="#1a1a1a"><tspan font-style="italic">Km</tspan><tspan>[</tspan><tspan font-style="italic">KmSPS22</tspan><tspan font-size="5.9" dy="1.1">CEN</tspan><tspan dy="-1.1">]</tspan></text>
<text transform="translate(445.50 438.50) rotate(-58.0)" font-size="9.50" text-anchor="end" fill="#1a1a1a"><tspan>KS-R3</tspan></text>
<text transform="translate(466.15 438.50) rotate(-58.0)" font-size="9.50" text-anchor="end" fill="#1a1a1a"><tspan font-style="italic">Km</tspan><tspan>[</tspan><tspan font-style="italic">ScSPS22</tspan><tspan font-size="5.9" dy="1.1">CEN</tspan><tspan dy="-1.1">]</tspan></text>
<text transform="translate(486.80 438.50) rotate(-58.0)" font-size="9.50" text-anchor="end" fill="#1a1a1a"><tspan font-style="italic">Km</tspan><tspan>[P</tspan><tspan font-style="italic">Km-ScSPS22</tspan><tspan font-size="5.9" dy="1.1">CEN</tspan><tspan dy="-1.1">]</tspan></text>
<text transform="translate(507.45 438.50) rotate(-58.0)" font-size="9.50" text-anchor="end" fill="#1a1a1a"><tspan font-style="italic">Sc</tspan><tspan>-R3[</tspan><tspan font-style="italic">ScSPS22</tspan><tspan font-size="5.9" dy="1.1">CEN</tspan><tspan dy="-1.1">]</tspan></text>
<text transform="translate(528.10 438.50) rotate(-58.0)" font-size="9.50" text-anchor="end" fill="#1a1a1a"><tspan font-style="italic">Sc</tspan><tspan>-R3[</tspan><tspan font-style="italic">ScSPS22</tspan><tspan font-size="5.9" dy="1.1">2μ</tspan><tspan dy="-1.1">]</tspan></text>
<text transform="translate(548.75 438.50) rotate(-58.0)" font-size="9.50" text-anchor="end" fill="#1a1a1a"><tspan font-style="italic">Sc</tspan><tspan>-R3</tspan></text>
<text transform="translate(569.40 438.50) rotate(-58.0)" font-size="9.50" text-anchor="end" fill="#1a1a1a"><tspan>KS-R3</tspan></text>
<text transform="translate(590.05 438.50) rotate(-58.0)" font-size="9.50" text-anchor="end" fill="#1a1a1a"><tspan font-style="italic">Km</tspan><tspan>[</tspan><tspan font-style="italic">ScSPS22</tspan><tspan font-size="5.9" dy="1.1">CEN</tspan><tspan dy="-1.1">]</tspan></text>
<text transform="translate(610.70 438.50) rotate(-58.0)" font-size="9.50" text-anchor="end" fill="#1a1a1a"><tspan font-style="italic">Km</tspan><tspan>[P</tspan><tspan font-style="italic">Km-ScSPS22</tspan><tspan font-size="5.9" dy="1.1">CEN</tspan><tspan dy="-1.1">]</tspan></text>
<text transform="translate(631.35 438.50) rotate(-58.0)" font-size="9.50" text-anchor="end" fill="#1a1a1a"><tspan font-style="italic">Sc</tspan><tspan>-R3[</tspan><tspan font-style="italic">ScSPS22</tspan><tspan font-size="5.9" dy="1.1">CEN</tspan><tspan dy="-1.1">]</tspan></text>
<text transform="translate(652.00 438.50) rotate(-58.0)" font-size="9.50" text-anchor="end" fill="#1a1a1a"><tspan font-style="italic">Sc</tspan><tspan>-R3[</tspan><tspan font-style="italic">ScSPS22</tspan><tspan font-size="5.9" dy="1.1">2μ</tspan><tspan dy="-1.1">]</tspan></text>
<text transform="translate(672.65 438.50) rotate(-58.0)" font-size="9.50" text-anchor="end" fill="#1a1a1a"><tspan font-style="italic">Sc</tspan><tspan>-R3</tspan></text>
<text x="0.80" y="541.20" font-size="17.00" text-anchor="start" fill="#000" font-weight="bold"><tspan>e</tspan></text>
<defs><linearGradient id="band" x1="0" x2="0" y1="0" y2="1"><stop offset="0" stop-color="#cfcdc9"/><stop offset="0.5" stop-color="#d6d4d0"/><stop offset="1" stop-color="#bebcb8"/></linearGradient><linearGradient id="glass" x1="0" x2="1"><stop offset="0" stop-color="#666"/><stop offset="0.15" stop-color="#8c8c8c"/><stop offset="0.4" stop-color="#808080"/><stop offset="0.5" stop-color="#4a4a4a"/><stop offset="0.6" stop-color="#7c7c7c"/><stop offset="0.85" stop-color="#909090"/><stop offset="1" stop-color="#646464"/></linearGradient></defs>
<rect x="72.90" y="533.10" width="127.90" height="33.90" fill="#d2d0cc"/>
<rect x="72.90" y="533.10" width="127.90" height="5.50" fill="url(#band)"/>
<rect x="72.90" y="538.60" width="127.90" height="23.20" fill="#282828"/>
<rect x="74.10" y="538.60" width="14.80" height="11.00" fill="url(#glass)"/>
<path d="M74.10 549.60 L74.10 559.80 A7.40 5.50 0 0 0 88.90 559.80 L88.90 549.60 Z" fill="#e4e4e2" stroke="#bdbdb8" stroke-width="0.5"/>
<line x1="74.60" y1="550.20" x2="88.40" y2="550.20" stroke="#eeeeec" stroke-width="1.00"/>
<rect x="96.10" y="538.60" width="14.80" height="11.00" fill="url(#glass)"/>
<path d="M96.10 549.60 L96.10 559.80 A7.40 5.50 0 0 0 110.90 559.80 L110.90 549.60 Z" fill="#e4e4e2" stroke="#bdbdb8" stroke-width="0.5"/>
<line x1="96.60" y1="550.20" x2="110.40" y2="550.20" stroke="#eeeeec" stroke-width="1.00"/>
<rect x="117.60" y="538.60" width="14.80" height="11.00" fill="url(#glass)"/>
<path d="M117.60 549.60 L117.60 559.80 A7.40 5.50 0 0 0 132.40 559.80 L132.40 549.60 Z" fill="#e4e4e2" stroke="#bdbdb8" stroke-width="0.5"/>
<line x1="118.10" y1="550.20" x2="131.90" y2="550.20" stroke="#eeeeec" stroke-width="1.00"/>
<rect x="139.60" y="538.60" width="14.80" height="11.00" fill="url(#glass)"/>
<path d="M139.60 549.60 L139.60 559.80 A7.40 5.50 0 0 0 154.40 559.80 L154.40 549.60 Z" fill="#e4e4e2" stroke="#bdbdb8" stroke-width="0.5"/>
<line x1="140.10" y1="550.20" x2="153.90" y2="550.20" stroke="#eeeeec" stroke-width="1.00"/>
<rect x="160.60" y="538.60" width="14.80" height="11.00" fill="url(#glass)"/>
<path d="M160.60 549.60 L160.60 559.80 A7.40 5.50 0 0 0 175.40 559.80 L175.40 549.60 Z" fill="#e4e4e2" stroke="#bdbdb8" stroke-width="0.5"/>
<line x1="161.10" y1="550.20" x2="174.90" y2="550.20" stroke="#eeeeec" stroke-width="1.00"/>
<rect x="182.70" y="538.60" width="14.80" height="11.00" fill="url(#glass)"/>
<path d="M182.70 549.60 L182.70 559.80 A7.40 5.50 0 0 0 197.50 559.80 L197.50 549.60 Z" fill="#e4e4e2" stroke="#bdbdb8" stroke-width="0.5"/>
<line x1="183.20" y1="550.20" x2="197.00" y2="550.20" stroke="#eeeeec" stroke-width="1.00"/>
<text x="61.00" y="554.20" font-size="10.00" text-anchor="end" fill="#1a1a1a"><tspan>0 min</tspan></text>
<rect x="72.90" y="569.00" width="127.90" height="34.20" fill="#d2d0cc"/>
<rect x="72.90" y="569.00" width="127.90" height="6.40" fill="url(#band)"/>
<rect x="72.90" y="575.40" width="127.90" height="22.40" fill="#282828"/>
<rect x="78.20" y="575.40" width="13.60" height="10.20" fill="url(#glass)"/>
<path d="M78.20 585.60 L78.20 595.40 A6.80 5.50 0 0 0 91.80 595.40 L91.80 585.60 Z" fill="#e4e4e2" stroke="#bdbdb8" stroke-width="0.5"/>
<line x1="78.70" y1="586.20" x2="91.30" y2="586.20" stroke="#eeeeec" stroke-width="1.00"/>
<rect x="99.40" y="575.40" width="13.60" height="10.20" fill="url(#glass)"/>
<path d="M99.40 585.60 L99.40 595.40 A6.80 5.50 0 0 0 113.00 595.40 L113.00 585.60 Z" fill="#d8d8d5" stroke="#bdbdb8" stroke-width="0.5"/>
<line x1="99.90" y1="586.20" x2="112.50" y2="586.20" stroke="#eeeeec" stroke-width="1.00"/>
<rect x="121.20" y="575.40" width="13.60" height="10.20" fill="url(#glass)"/>
<path d="M121.20 585.60 L121.20 595.40 A6.80 5.50 0 0 0 134.80 595.40 L134.80 585.60 Z" fill="#d6d6d3" stroke="#bdbdb8" stroke-width="0.5"/>
<line x1="121.70" y1="586.20" x2="134.30" y2="586.20" stroke="#eeeeec" stroke-width="1.00"/>
<rect x="141.80" y="575.40" width="13.60" height="10.20" fill="url(#glass)"/>
<path d="M141.80 585.60 L141.80 595.40 A6.80 5.50 0 0 0 155.40 595.40 L155.40 585.60 Z" fill="#e4e4e2" stroke="#bdbdb8" stroke-width="0.5"/>
<line x1="142.30" y1="586.20" x2="154.90" y2="586.20" stroke="#eeeeec" stroke-width="1.00"/>
<rect x="161.70" y="575.40" width="13.60" height="10.20" fill="url(#glass)"/>
<path d="M161.70 585.60 L161.70 595.40 A6.80 5.50 0 0 0 175.30 595.40 L175.30 585.60 Z" fill="#e2e2e0" stroke="#bdbdb8" stroke-width="0.5"/>
<line x1="162.20" y1="586.20" x2="174.80" y2="586.20" stroke="#eeeeec" stroke-width="1.00"/>
<rect x="183.90" y="575.40" width="13.60" height="10.20" fill="url(#glass)"/>
<path d="M183.90 585.60 L183.90 595.40 A6.80 5.50 0 0 0 197.50 595.40 L197.50 585.60 Z" fill="#e0e0de" stroke="#bdbdb8" stroke-width="0.5"/>
<line x1="184.40" y1="586.20" x2="197.00" y2="586.20" stroke="#eeeeec" stroke-width="1.00"/>
<text x="61.00" y="591.30" font-size="10.00" text-anchor="end" fill="#1a1a1a"><tspan>1 min</tspan></text>
<rect x="72.90" y="604.80" width="127.90" height="34.80" fill="#d2d0cc"/>
<rect x="72.90" y="604.80" width="127.90" height="7.40" fill="url(#band)"/>
<rect x="72.90" y="612.20" width="127.90" height="22.20" fill="#282828"/>
<rect x="79.80" y="612.20" width="13.40" height="10.30" fill="url(#glass)"/>
<path d="M79.80 622.50 L79.80 631.80 A6.70 5.50 0 0 0 93.20 631.80 L93.20 622.50 Z" fill="#e2e2e0" stroke="#bdbdb8" stroke-width="0.5"/>
<line x1="80.30" y1="623.10" x2="92.70" y2="623.10" stroke="#eeeeec" stroke-width="1.00"/>
<rect x="100.80" y="612.20" width="13.40" height="10.30" fill="url(#glass)"/>
<path d="M100.80 622.50 L100.80 631.80 A6.70 5.50 0 0 0 114.20 631.80 L114.20 622.50 Z" fill="#d8d8d5" stroke="#bdbdb8" stroke-width="0.5"/>
<line x1="101.30" y1="623.10" x2="113.70" y2="623.10" stroke="#eeeeec" stroke-width="1.00"/>
<rect x="121.80" y="612.20" width="13.40" height="10.30" fill="url(#glass)"/>
<path d="M121.80 622.50 L121.80 631.80 A6.70 5.50 0 0 0 135.20 631.80 L135.20 622.50 Z" fill="#d6d6d3" stroke="#bdbdb8" stroke-width="0.5"/>
<line x1="122.30" y1="623.10" x2="134.70" y2="623.10" stroke="#eeeeec" stroke-width="1.00"/>
<rect x="142.40" y="612.20" width="13.40" height="10.30" fill="url(#glass)"/>
<path d="M142.40 622.50 L142.40 631.80 A6.70 5.50 0 0 0 155.80 631.80 L155.80 622.50 Z" fill="#e2e2e0" stroke="#bdbdb8" stroke-width="0.5"/>
<line x1="142.90" y1="623.10" x2="155.30" y2="623.10" stroke="#eeeeec" stroke-width="1.00"/>
<rect x="161.90" y="612.20" width="13.40" height="10.30" fill="url(#glass)"/>
<path d="M161.90 622.50 L161.90 631.80 A6.70 5.50 0 0 0 175.30 631.80 L175.30 622.50 Z" fill="#dedede" stroke="#bdbdb8" stroke-width="0.5"/>
<line x1="162.40" y1="623.10" x2="174.80" y2="623.10" stroke="#eeeeec" stroke-width="1.00"/>
<rect x="183.30" y="612.20" width="13.40" height="10.30" fill="url(#glass)"/>
<path d="M183.30 622.50 L183.30 631.80 A6.70 5.50 0 0 0 196.70 631.80 L196.70 622.50 Z" fill="#dcdcda" stroke="#bdbdb8" stroke-width="0.5"/>
<line x1="183.80" y1="623.10" x2="196.20" y2="623.10" stroke="#eeeeec" stroke-width="1.00"/>
<text x="61.00" y="627.70" font-size="10.00" text-anchor="end" fill="#1a1a1a"><tspan>3 min</tspan></text>
<rect x="72.90" y="641.00" width="127.90" height="34.10" fill="#d2d0cc"/>
<rect x="72.90" y="641.00" width="127.90" height="7.20" fill="url(#band)"/>
<rect x="72.90" y="648.20" width="127.90" height="22.20" fill="#282828"/>
<rect x="79.40" y="648.20" width="13.60" height="10.30" fill="url(#glass)"/>
<path d="M79.40 658.50 L79.40 667.80 A6.80 5.50 0 0 0 93.00 667.80 L93.00 658.50 Z" fill="#e2e2e0" stroke="#bdbdb8" stroke-width="0.5"/>
<line x1="79.90" y1="659.10" x2="92.50" y2="659.10" stroke="#eeeeec" stroke-width="1.00"/>
<rect x="100.70" y="648.20" width="13.60" height="10.30" fill="url(#glass)"/>
<path d="M100.70 658.50 L100.70 667.80 A6.80 5.50 0 0 0 114.30 667.80 L114.30 658.50 Z" fill="#d8d8d5" stroke="#bdbdb8" stroke-width="0.5"/>
<line x1="101.20" y1="659.10" x2="113.80" y2="659.10" stroke="#eeeeec" stroke-width="1.00"/>
<rect x="121.70" y="648.20" width="13.60" height="10.30" fill="url(#glass)"/>
<path d="M121.70 658.50 L121.70 667.80 A6.80 5.50 0 0 0 135.30 667.80 L135.30 658.50 Z" fill="#d6d6d3" stroke="#bdbdb8" stroke-width="0.5"/>
<line x1="122.20" y1="659.10" x2="134.80" y2="659.10" stroke="#eeeeec" stroke-width="1.00"/>
<rect x="142.30" y="648.20" width="13.60" height="10.30" fill="url(#glass)"/>
<path d="M142.30 658.50 L142.30 667.80 A6.80 5.50 0 0 0 155.90 667.80 L155.90 658.50 Z" fill="#e2e2e0" stroke="#bdbdb8" stroke-width="0.5"/>
<line x1="142.80" y1="659.10" x2="155.40" y2="659.10" stroke="#eeeeec" stroke-width="1.00"/>
<rect x="161.80" y="648.20" width="13.60" height="10.30" fill="url(#glass)"/>
<path d="M161.80 658.50 L161.80 667.80 A6.80 5.50 0 0 0 175.40 667.80 L175.40 658.50 Z" fill="#e0e0de" stroke="#bdbdb8" stroke-width="0.5"/>
<line x1="162.30" y1="659.10" x2="174.90" y2="659.10" stroke="#eeeeec" stroke-width="1.00"/>
<rect x="183.30" y="648.20" width="13.60" height="10.30" fill="url(#glass)"/>
<path d="M183.30 658.50 L183.30 667.80 A6.80 5.50 0 0 0 196.90 667.80 L196.90 658.50 Z" fill="#dcdcda" stroke="#bdbdb8" stroke-width="0.5"/>
<line x1="183.80" y1="659.10" x2="196.40" y2="659.10" stroke="#eeeeec" stroke-width="1.00"/>
<text x="61.00" y="664.30" font-size="10.00" text-anchor="end" fill="#1a1a1a"><tspan>5 min</tspan></text>
<text transform="translate(88.90 682.30) rotate(-63.0)" font-size="10.00" text-anchor="end" fill="#1a1a1a"><tspan font-style="italic">Km</tspan><tspan>-V</tspan></text>
<text transform="translate(110.70 682.30) rotate(-63.0)" font-size="10.00" text-anchor="end" fill="#1a1a1a"><tspan>KS-R1</tspan></text>
<text transform="translate(132.50 682.30) rotate(-63.0)" font-size="10.00" text-anchor="end" fill="#1a1a1a"><tspan font-style="italic">Km</tspan><tspan>[</tspan><tspan font-style="italic">ScFLO9</tspan><tspan font-size="6.2" dy="1.2">CEN</tspan><tspan dy="-1.2">]</tspan></text>
<text transform="translate(154.20 682.30) rotate(-63.0)" font-size="10.00" text-anchor="end" fill="#1a1a1a"><tspan font-style="italic">Sc</tspan><tspan>-R1</tspan></text>
<text transform="translate(175.80 682.30) rotate(-63.0)" font-size="10.00" text-anchor="end" fill="#1a1a1a"><tspan font-style="italic">Sc</tspan><tspan>-R1[</tspan><tspan font-style="italic">ScFLO9</tspan><tspan font-size="6.2" dy="1.2">CEN</tspan><tspan dy="-1.2">]</tspan></text>
<text transform="translate(197.20 682.30) rotate(-63.0)" font-size="10.00" text-anchor="end" fill="#1a1a1a"><tspan font-style="italic">Sc</tspan><tspan>-R1[</tspan><tspan font-style="italic">ScFLO9</tspan><tspan font-size="6.2" dy="1.2">2μ</tspan><tspan dy="-1.2">]</tspan></text>
<text x="240.50" y="540.30" font-size="17.00" text-anchor="start" fill="#000" font-weight="bold"><tspan>f</tspan></text>
<line x1="289.40" y1="533.90" x2="289.40" y2="673.50" stroke="#333" stroke-width="1.20"/>
<line x1="289.40" y1="673.50" x2="429.20" y2="673.50" stroke="#9a9a9a" stroke-width="1.60"/>
<line x1="285.60" y1="673.50" x2="289.40" y2="673.50" stroke="#333" stroke-width="1.10"/>
<text x="283.80" y="677.60" font-size="11.60" text-anchor="end" fill="#1a1a1a"><tspan>0</tspan></text>
<line x1="285.60" y1="641.85" x2="289.40" y2="641.85" stroke="#333" stroke-width="1.10"/>
<text x="283.80" y="645.95" font-size="11.60" text-anchor="end" fill="#1a1a1a"><tspan>5</tspan></text>
<line x1="285.60" y1="610.20" x2="289.40" y2="610.20" stroke="#333" stroke-width="1.10"/>
<text x="283.80" y="614.30" font-size="11.60" text-anchor="end" fill="#1a1a1a"><tspan>10</tspan></text>
<line x1="285.60" y1="578.55" x2="289.40" y2="578.55" stroke="#333" stroke-width="1.10"/>
<text x="283.80" y="582.65" font-size="11.60" text-anchor="end" fill="#1a1a1a"><tspan>15</tspan></text>
<line x1="285.60" y1="546.90" x2="289.40" y2="546.90" stroke="#333" stroke-width="1.10"/>
<text x="283.80" y="551.00" font-size="11.60" text-anchor="end" fill="#1a1a1a"><tspan>20</tspan></text>
<line x1="291.73" y1="673.50" x2="291.73" y2="677.50" stroke="#555" stroke-width="1.00"/>
<line x1="296.38" y1="673.50" x2="296.38" y2="677.50" stroke="#555" stroke-width="1.00"/>
<line x1="303.37" y1="673.50" x2="303.37" y2="677.50" stroke="#555" stroke-width="1.00"/>
<line x1="317.34" y1="673.50" x2="317.34" y2="677.50" stroke="#555" stroke-width="1.00"/>
<line x1="359.24" y1="673.50" x2="359.24" y2="677.50" stroke="#555" stroke-width="1.00"/>
<line x1="429.08" y1="673.50" x2="429.08" y2="677.50" stroke="#555" stroke-width="1.00"/>
<line x1="296.38" y1="677.50" x2="296.38" y2="686.00" stroke="#555" stroke-width="0.90"/>
<line x1="303.37" y1="677.50" x2="303.37" y2="693.50" stroke="#555" stroke-width="0.90"/>
<text x="287.90" y="685.00" font-size="11.00" text-anchor="middle" fill="#1a1a1a"><tspan>10</tspan></text>
<text x="317.70" y="685.00" font-size="11.00" text-anchor="middle" fill="#1a1a1a"><tspan>120</tspan></text>
<text x="359.40" y="685.00" font-size="11.00" text-anchor="middle" fill="#1a1a1a"><tspan>300</tspan></text>
<text x="428.60" y="685.00" font-size="11.00" text-anchor="middle" fill="#1a1a1a"><tspan>600</tspan></text>
<text x="296.00" y="694.30" font-size="11.00" text-anchor="middle" fill="#1a1a1a"><tspan>30</tspan></text>
<text x="303.20" y="702.70" font-size="11.00" text-anchor="middle" fill="#1a1a1a"><tspan>60</tspan></text>
<text x="365.30" y="703.20" font-size="13.60" text-anchor="middle" fill="#1a1a1a"><tspan>Time (s)</tspan></text>
<text transform="translate(258.7 625) rotate(-90)" font-size="14.6" fill="#1a1a1a">OD<tspan font-size="8.6" dy="3.2">600</tspan></text>
<polyline points="289.40,546.90 291.73,555.76 296.38,559.88 303.37,560.51 317.34,574.12 359.24,604.50 429.08,646.91" fill="none" stroke="#f5a055" stroke-width="1.1"/>
<path d="M289.40 545.20 L291.10 546.90 L289.40 548.60 L287.70 546.90 Z" fill="#f5a055"/>
<line x1="291.73" y1="553.23" x2="291.73" y2="558.29" stroke="#f5a055" stroke-width="1.10"/>
<path d="M291.73 554.06 L293.43 555.76 L291.73 557.46 L290.03 555.76 Z" fill="#f5a055"/>
<line x1="296.38" y1="554.81" x2="296.38" y2="564.94" stroke="#f5a055" stroke-width="1.10"/>
<path d="M296.38 558.18 L298.08 559.88 L296.38 561.58 L294.68 559.88 Z" fill="#f5a055"/>
<line x1="303.37" y1="555.76" x2="303.37" y2="565.26" stroke="#f5a055" stroke-width="1.10"/>
<path d="M303.37 558.81 L305.07 560.51 L303.37 562.21 L301.67 560.51 Z" fill="#f5a055"/>
<line x1="317.34" y1="557.98" x2="317.34" y2="590.26" stroke="#f5a055" stroke-width="1.10"/>
<path d="M317.34 572.42 L319.04 574.12 L317.34 575.82 L315.64 574.12 Z" fill="#f5a055"/>
<line x1="359.24" y1="602.60" x2="359.24" y2="606.40" stroke="#f5a055" stroke-width="1.10"/>
<path d="M359.24 602.80 L360.94 604.50 L359.24 606.20 L357.54 604.50 Z" fill="#f5a055"/>
<line x1="429.08" y1="645.01" x2="429.08" y2="648.81" stroke="#f5a055" stroke-width="1.10"/>
<path d="M429.08 645.21 L430.78 646.91 L429.08 648.61 L427.38 646.91 Z" fill="#f5a055"/>
<polyline points="289.40,546.90 291.73,553.86 296.38,554.81 303.37,557.66 317.34,570.00 359.24,617.16 429.08,655.14" fill="none" stroke="#b5652a" stroke-width="1.1"/>
<path d="M289.40 545.20 L291.10 546.90 L289.40 548.60 L287.70 546.90 Z" fill="#b5652a"/>
<line x1="291.73" y1="552.60" x2="291.73" y2="555.13" stroke="#b5652a" stroke-width="1.10"/>
<path d="M291.73 552.16 L293.43 553.86 L291.73 555.56 L290.03 553.86 Z" fill="#b5652a"/>
<line x1="296.38" y1="553.55" x2="296.38" y2="556.08" stroke="#b5652a" stroke-width="1.10"/>
<path d="M296.38 553.11 L298.08 554.81 L296.38 556.51 L294.68 554.81 Z" fill="#b5652a"/>
<line x1="303.37" y1="555.76" x2="303.37" y2="559.56" stroke="#b5652a" stroke-width="1.10"/>
<path d="M303.37 555.96 L305.07 557.66 L303.37 559.36 L301.67 557.66 Z" fill="#b5652a"/>
<line x1="317.34" y1="568.11" x2="317.34" y2="571.90" stroke="#b5652a" stroke-width="1.10"/>
<path d="M317.34 568.30 L319.04 570.00 L317.34 571.70 L315.64 570.00 Z" fill="#b5652a"/>
<line x1="359.24" y1="610.83" x2="359.24" y2="623.49" stroke="#b5652a" stroke-width="1.10"/>
<path d="M359.24 615.46 L360.94 617.16 L359.24 618.86 L357.54 617.16 Z" fill="#b5652a"/>
<line x1="429.08" y1="653.24" x2="429.08" y2="657.04" stroke="#b5652a" stroke-width="1.10"/>
<path d="M429.08 653.44 L430.78 655.14 L429.08 656.84 L427.38 655.14 Z" fill="#b5652a"/>
<polyline points="289.40,546.90 291.73,603.24 296.38,641.53 303.37,643.75 317.34,647.23 359.24,648.50 429.08,656.41" fill="none" stroke="#3a9a3a" stroke-width="1.1"/>
<rect x="287.90" y="545.40" width="3.00" height="3.00" fill="#3a9a3a"/>
<line x1="291.73" y1="556.39" x2="291.73" y2="650.08" stroke="#3a9a3a" stroke-width="1.10"/>
<rect x="290.23" y="601.74" width="3.00" height="3.00" fill="#3a9a3a"/>
<line x1="296.38" y1="620.01" x2="296.38" y2="663.06" stroke="#3a9a3a" stroke-width="1.10"/>
<rect x="294.88" y="640.03" width="3.00" height="3.00" fill="#3a9a3a"/>
<line x1="303.37" y1="621.59" x2="303.37" y2="665.90" stroke="#3a9a3a" stroke-width="1.10"/>
<rect x="301.87" y="642.25" width="3.00" height="3.00" fill="#3a9a3a"/>
<line x1="317.34" y1="628.56" x2="317.34" y2="665.90" stroke="#3a9a3a" stroke-width="1.10"/>
<rect x="315.84" y="645.73" width="3.00" height="3.00" fill="#3a9a3a"/>
<line x1="359.24" y1="632.04" x2="359.24" y2="664.95" stroke="#3a9a3a" stroke-width="1.10"/>
<rect x="357.74" y="647.00" width="3.00" height="3.00" fill="#3a9a3a"/>
<line x1="429.08" y1="644.38" x2="429.08" y2="668.44" stroke="#3a9a3a" stroke-width="1.10"/>
<rect x="427.58" y="654.91" width="3.00" height="3.00" fill="#3a9a3a"/>
<polyline points="289.40,546.90 291.73,598.81 296.38,645.01 303.37,649.13 317.34,654.51 359.24,657.04 429.08,660.21" fill="none" stroke="#cc4de8" stroke-width="1.1"/>
<path d="M289.40 545.03 L287.53 548.26 L291.27 548.26 Z" fill="#cc4de8"/>
<line x1="291.73" y1="580.13" x2="291.73" y2="617.48" stroke="#cc4de8" stroke-width="1.10"/>
<path d="M291.73 596.94 L289.86 600.17 L293.60 600.17 Z" fill="#cc4de8"/>
<line x1="296.38" y1="634.89" x2="296.38" y2="655.14" stroke="#cc4de8" stroke-width="1.10"/>
<path d="M296.38 643.14 L294.51 646.38 L298.25 646.38 Z" fill="#cc4de8"/>
<line x1="303.37" y1="637.10" x2="303.37" y2="661.16" stroke="#cc4de8" stroke-width="1.10"/>
<path d="M303.37 647.26 L301.50 650.49 L305.24 650.49 Z" fill="#cc4de8"/>
<line x1="317.34" y1="643.43" x2="317.34" y2="665.59" stroke="#cc4de8" stroke-width="1.10"/>
<path d="M317.34 652.64 L315.47 655.87 L319.21 655.87 Z" fill="#cc4de8"/>
<line x1="359.24" y1="648.18" x2="359.24" y2="665.90" stroke="#cc4de8" stroke-width="1.10"/>
<path d="M359.24 655.17 L357.37 658.40 L361.11 658.40 Z" fill="#cc4de8"/>
<line x1="429.08" y1="657.04" x2="429.08" y2="663.37" stroke="#cc4de8" stroke-width="1.10"/>
<path d="M429.08 658.34 L427.21 661.57 L430.95 661.57 Z" fill="#cc4de8"/>
<polyline points="289.40,546.90 291.73,552.60 296.38,553.23 303.37,557.03 317.34,565.89 359.24,590.58 429.08,643.75" fill="none" stroke="#3333ff" stroke-width="1.1"/>
<path d="M289.40 548.77 L287.53 545.54 L291.27 545.54 Z" fill="#3333ff"/>
<line x1="291.73" y1="550.38" x2="291.73" y2="554.81" stroke="#3333ff" stroke-width="1.10"/>
<path d="M291.73 554.47 L289.86 551.24 L293.60 551.24 Z" fill="#3333ff"/>
<line x1="296.38" y1="551.33" x2="296.38" y2="555.13" stroke="#3333ff" stroke-width="1.10"/>
<path d="M296.38 555.10 L294.51 551.87 L298.25 551.87 Z" fill="#3333ff"/>
<line x1="303.37" y1="550.70" x2="303.37" y2="563.36" stroke="#3333ff" stroke-width="1.10"/>
<path d="M303.37 558.90 L301.50 555.67 L305.24 555.67 Z" fill="#3333ff"/>
<line x1="317.34" y1="562.73" x2="317.34" y2="569.05" stroke="#3333ff" stroke-width="1.10"/>
<path d="M317.34 567.76 L315.47 564.53 L319.21 564.53 Z" fill="#3333ff"/>
<line x1="359.24" y1="585.51" x2="359.24" y2="595.64" stroke="#3333ff" stroke-width="1.10"/>
<path d="M359.24 592.45 L357.37 589.22 L361.11 589.22 Z" fill="#3333ff"/>
<line x1="429.08" y1="635.52" x2="429.08" y2="651.98" stroke="#3333ff" stroke-width="1.10"/>
<path d="M429.08 645.62 L427.21 642.39 L430.95 642.39 Z" fill="#3333ff"/>
<polyline points="289.40,546.90 291.73,548.48 296.38,549.75 303.37,549.75 317.34,549.43 359.24,557.03 429.08,576.65" fill="none" stroke="#ff2b2b" stroke-width="1.1"/>
<circle cx="289.40" cy="546.90" r="1.70" fill="#ff2b2b"/>
<line x1="291.73" y1="547.85" x2="291.73" y2="549.12" stroke="#ff2b2b" stroke-width="1.10"/>
<circle cx="291.73" cy="548.48" r="1.70" fill="#ff2b2b"/>
<line x1="296.38" y1="549.12" x2="296.38" y2="550.38" stroke="#ff2b2b" stroke-width="1.10"/>
<circle cx="296.38" cy="549.75" r="1.70" fill="#ff2b2b"/>
<line x1="303.37" y1="549.12" x2="303.37" y2="550.38" stroke="#ff2b2b" stroke-width="1.10"/>
<circle cx="303.37" cy="549.75" r="1.70" fill="#ff2b2b"/>
<line x1="317.34" y1="548.48" x2="317.34" y2="550.38" stroke="#ff2b2b" stroke-width="1.10"/>
<circle cx="317.34" cy="549.43" r="1.70" fill="#ff2b2b"/>
<line x1="359.24" y1="550.70" x2="359.24" y2="563.36" stroke="#ff2b2b" stroke-width="1.10"/>
<circle cx="359.24" cy="557.03" r="1.70" fill="#ff2b2b"/>
<line x1="429.08" y1="570.00" x2="429.08" y2="583.30" stroke="#ff2b2b" stroke-width="1.10"/>
<circle cx="429.08" cy="576.65" r="1.70" fill="#ff2b2b"/>
<line x1="280.30" y1="718.90" x2="298.50" y2="718.90" stroke="#ff2b2b" stroke-width="1.10"/>
<circle cx="289.40" cy="718.90" r="1.60" fill="#ff2b2b"/>
<text x="304.30" y="722.60" font-size="10.00" text-anchor="start" fill="#1a1a1a"><tspan font-style="italic">Km</tspan><tspan>-V</tspan></text>
<line x1="280.30" y1="729.40" x2="298.50" y2="729.40" stroke="#3333ff" stroke-width="1.10"/>
<path d="M289.40 731.16 L287.64 728.12 L291.16 728.12 Z" fill="#3333ff"/>
<text x="304.30" y="733.10" font-size="10.00" text-anchor="start" fill="#1a1a1a"><tspan font-style="italic">Sc</tspan><tspan>-R1</tspan></text>
<line x1="280.30" y1="740.00" x2="298.50" y2="740.00" stroke="#cc4de8" stroke-width="1.10"/>
<path d="M289.40 738.24 L287.64 741.28 L291.16 741.28 Z" fill="#cc4de8"/>
<text x="304.30" y="743.70" font-size="10.00" text-anchor="start" fill="#1a1a1a"><tspan>KS-R1</tspan></text>
<line x1="342.00" y1="718.90" x2="360.20" y2="718.90" stroke="#f5a055" stroke-width="1.10"/>
<path d="M351.10 717.30 L352.70 718.90 L351.10 720.50 L349.50 718.90 Z" fill="#f5a055"/>
<text x="366.00" y="722.60" font-size="10.00" text-anchor="start" fill="#1a1a1a"><tspan font-style="italic">Sc</tspan><tspan>-R1[</tspan><tspan font-style="italic">ScFLO9</tspan><tspan font-size="6.2" dy="1.2">CEN</tspan><tspan dy="-1.2">]</tspan></text>
<line x1="342.00" y1="729.40" x2="360.20" y2="729.40" stroke="#b5652a" stroke-width="1.10"/>
<path d="M351.10 727.80 L352.70 729.40 L351.10 731.00 L349.50 729.40 Z" fill="#b5652a"/>
<text x="366.00" y="733.10" font-size="10.00" text-anchor="start" fill="#1a1a1a"><tspan font-style="italic">Sc</tspan><tspan>-R1[</tspan><tspan font-style="italic">ScFLO9</tspan><tspan font-size="6.2" dy="1.2">2μ</tspan><tspan dy="-1.2">]</tspan></text>
<line x1="342.00" y1="740.00" x2="360.20" y2="740.00" stroke="#3a9a3a" stroke-width="1.10"/>
<rect x="349.50" y="738.40" width="3.20" height="3.20" fill="#3a9a3a"/>
<text x="366.00" y="743.70" font-size="10.00" text-anchor="start" fill="#1a1a1a"><tspan font-style="italic">Km</tspan><tspan>[</tspan><tspan font-style="italic">ScFLO9</tspan><tspan font-size="6.2" dy="1.2">CEN</tspan><tspan dy="-1.2">]</tspan></text>
<text x="469.00" y="541.00" font-size="17.00" text-anchor="start" fill="#000" font-weight="bold"><tspan>g</tspan></text>
<rect x="521.30" y="552.60" width="159.30" height="119.60" fill="#fff"/>
<line x1="521.30" y1="576.60" x2="680.60" y2="576.60" stroke="#a8a8a8" stroke-width="0.90" stroke-dasharray="1.2 1.6"/>
<line x1="521.30" y1="600.50" x2="680.60" y2="600.50" stroke="#a8a8a8" stroke-width="0.90" stroke-dasharray="1.2 1.6"/>
<line x1="521.30" y1="648.30" x2="680.60" y2="648.30" stroke="#a8a8a8" stroke-width="0.90" stroke-dasharray="1.2 1.6"/>
<line x1="535.00" y1="552.60" x2="535.00" y2="672.20" stroke="#a8a8a8" stroke-width="0.90" stroke-dasharray="1.2 1.6"/>
<line x1="557.10" y1="552.60" x2="557.10" y2="672.20" stroke="#a8a8a8" stroke-width="0.90" stroke-dasharray="1.2 1.6"/>
<line x1="579.20" y1="552.60" x2="579.20" y2="672.20" stroke="#a8a8a8" stroke-width="0.90" stroke-dasharray="1.2 1.6"/>
<line x1="601.30" y1="552.60" x2="601.30" y2="672.20" stroke="#a8a8a8" stroke-width="0.90" stroke-dasharray="1.2 1.6"/>
<line x1="623.40" y1="552.60" x2="623.40" y2="672.20" stroke="#a8a8a8" stroke-width="0.90" stroke-dasharray="1.2 1.6"/>
<line x1="645.50" y1="552.60" x2="645.50" y2="672.20" stroke="#a8a8a8" stroke-width="0.90" stroke-dasharray="1.2 1.6"/>
<line x1="667.60" y1="552.60" x2="667.60" y2="672.20" stroke="#a8a8a8" stroke-width="0.90" stroke-dasharray="1.2 1.6"/>
<rect x="526.90" y="624.04" width="16.20" height="0.36" fill="#f7dede" stroke="#111" stroke-width="1.30"/>
<rect x="549.00" y="624.40" width="16.20" height="0.96" fill="#f7dede" stroke="#111" stroke-width="1.30"/>
<rect x="571.10" y="584.25" width="16.20" height="40.15" fill="#f7dede" stroke="#111" stroke-width="1.30"/>
<rect x="593.20" y="574.33" width="16.20" height="50.07" fill="#f7dede" stroke="#111" stroke-width="1.30"/>
<rect x="615.30" y="608.87" width="16.20" height="15.53" fill="#b97aa5" stroke="#111" stroke-width="1.30"/>
<rect x="637.40" y="582.22" width="16.20" height="42.18" fill="#b97aa5" stroke="#111" stroke-width="1.30"/>
<rect x="659.50" y="624.40" width="16.20" height="31.07" fill="#b97aa5" stroke="#111" stroke-width="1.30"/>
<line x1="535.00" y1="616.63" x2="535.00" y2="631.57" stroke="#111" stroke-width="1.20"/>
<line x1="531.20" y1="616.63" x2="538.80" y2="616.63" stroke="#111" stroke-width="1.20"/>
<line x1="531.20" y1="631.57" x2="538.80" y2="631.57" stroke="#111" stroke-width="1.20"/>
<circle cx="535.26" cy="619.02" r="2.40" fill="#f09a9a"/>
<circle cx="534.17" cy="622.01" r="2.40" fill="#f09a9a"/>
<circle cx="534.33" cy="630.97" r="2.40" fill="#f09a9a"/>
<line x1="557.10" y1="618.42" x2="557.10" y2="632.17" stroke="#111" stroke-width="1.20"/>
<line x1="553.30" y1="618.42" x2="560.90" y2="618.42" stroke="#111" stroke-width="1.20"/>
<line x1="553.30" y1="632.17" x2="560.90" y2="632.17" stroke="#111" stroke-width="1.20"/>
<circle cx="557.11" cy="619.02" r="2.40" fill="#f09a9a"/>
<circle cx="557.11" cy="629.18" r="2.40" fill="#f09a9a"/>
<circle cx="556.86" cy="629.78" r="2.40" fill="#f09a9a"/>
<line x1="579.20" y1="576.00" x2="579.20" y2="593.33" stroke="#111" stroke-width="1.20"/>
<line x1="575.40" y1="576.00" x2="583.00" y2="576.00" stroke="#111" stroke-width="1.20"/>
<line x1="575.40" y1="593.33" x2="583.00" y2="593.33" stroke="#111" stroke-width="1.20"/>
<circle cx="579.69" cy="578.99" r="2.40" fill="#f09a9a"/>
<circle cx="578.26" cy="591.54" r="2.40" fill="#f09a9a"/>
<circle cx="579.30" cy="583.77" r="2.40" fill="#f09a9a"/>
<line x1="601.30" y1="565.85" x2="601.30" y2="582.57" stroke="#111" stroke-width="1.20"/>
<line x1="597.50" y1="565.85" x2="605.10" y2="565.85" stroke="#111" stroke-width="1.20"/>
<line x1="597.50" y1="582.57" x2="605.10" y2="582.57" stroke="#111" stroke-width="1.20"/>
<circle cx="600.63" cy="569.43" r="2.40" fill="#f09a9a"/>
<circle cx="602.11" cy="581.98" r="2.40" fill="#f09a9a"/>
<circle cx="601.91" cy="571.82" r="2.40" fill="#f09a9a"/>
<line x1="623.40" y1="607.07" x2="623.40" y2="610.06" stroke="#111" stroke-width="1.20"/>
<line x1="619.60" y1="607.07" x2="627.20" y2="607.07" stroke="#111" stroke-width="1.20"/>
<line x1="619.60" y1="610.06" x2="627.20" y2="610.06" stroke="#111" stroke-width="1.20"/>
<circle cx="624.24" cy="607.67" r="2.40" fill="#8a1a9a"/>
<circle cx="623.45" cy="608.87" r="2.40" fill="#8a1a9a"/>
<circle cx="622.65" cy="609.46" r="2.40" fill="#8a1a9a"/>
<line x1="645.50" y1="578.99" x2="645.50" y2="584.97" stroke="#111" stroke-width="1.20"/>
<line x1="641.70" y1="578.99" x2="649.30" y2="578.99" stroke="#111" stroke-width="1.20"/>
<line x1="641.70" y1="584.97" x2="649.30" y2="584.97" stroke="#111" stroke-width="1.20"/>
<circle cx="646.78" cy="579.59" r="2.40" fill="#8a1a9a"/>
<circle cx="645.53" cy="583.77" r="2.40" fill="#8a1a9a"/>
<circle cx="645.13" cy="583.17" r="2.40" fill="#8a1a9a"/>
<line x1="667.60" y1="651.88" x2="667.60" y2="659.05" stroke="#111" stroke-width="1.20"/>
<line x1="663.80" y1="651.88" x2="671.40" y2="651.88" stroke="#111" stroke-width="1.20"/>
<line x1="663.80" y1="659.05" x2="671.40" y2="659.05" stroke="#111" stroke-width="1.20"/>
<circle cx="666.97" cy="652.48" r="2.40" fill="#8a1a9a"/>
<circle cx="667.31" cy="658.46" r="2.40" fill="#8a1a9a"/>
<circle cx="668.23" cy="658.46" r="2.40" fill="#8a1a9a"/>
<line x1="521.30" y1="624.40" x2="680.60" y2="624.40" stroke="#111" stroke-width="1.30"/>
<line x1="568.40" y1="552.60" x2="568.40" y2="672.20" stroke="#222" stroke-width="1.20"/>
<rect x="521.30" y="552.60" width="159.30" height="119.60" fill="none" stroke="#222" stroke-width="1.35"/>
<text x="515.00" y="556.30" font-size="10.00" text-anchor="end" fill="#1a1a1a"><tspan>6</tspan></text>
<line x1="521.30" y1="552.70" x2="524.80" y2="552.70" stroke="#222" stroke-width="1.20"/>
<line x1="677.10" y1="552.70" x2="680.60" y2="552.70" stroke="#222" stroke-width="1.20"/>
<text x="515.00" y="580.20" font-size="10.00" text-anchor="end" fill="#1a1a1a"><tspan>4</tspan></text>
<line x1="521.30" y1="576.60" x2="524.80" y2="576.60" stroke="#222" stroke-width="1.20"/>
<line x1="677.10" y1="576.60" x2="680.60" y2="576.60" stroke="#222" stroke-width="1.20"/>
<text x="515.00" y="604.10" font-size="10.00" text-anchor="end" fill="#1a1a1a"><tspan>2</tspan></text>
<line x1="521.30" y1="600.50" x2="524.80" y2="600.50" stroke="#222" stroke-width="1.20"/>
<line x1="677.10" y1="600.50" x2="680.60" y2="600.50" stroke="#222" stroke-width="1.20"/>
<text x="515.00" y="628.00" font-size="10.00" text-anchor="end" fill="#1a1a1a"><tspan>0</tspan></text>
<line x1="521.30" y1="624.40" x2="524.80" y2="624.40" stroke="#222" stroke-width="1.20"/>
<line x1="677.10" y1="624.40" x2="680.60" y2="624.40" stroke="#222" stroke-width="1.20"/>
<text x="515.00" y="651.90" font-size="10.00" text-anchor="end" fill="#1a1a1a"><tspan>-2</tspan></text>
<line x1="521.30" y1="648.30" x2="524.80" y2="648.30" stroke="#222" stroke-width="1.20"/>
<line x1="677.10" y1="648.30" x2="680.60" y2="648.30" stroke="#222" stroke-width="1.20"/>
<text x="515.00" y="675.80" font-size="10.00" text-anchor="end" fill="#1a1a1a"><tspan>-4</tspan></text>
<line x1="521.30" y1="672.20" x2="524.80" y2="672.20" stroke="#222" stroke-width="1.20"/>
<line x1="677.10" y1="672.20" x2="680.60" y2="672.20" stroke="#222" stroke-width="1.20"/>
<text transform="translate(497.8 614) rotate(-90)" font-size="9.8" text-anchor="middle" fill="#1a1a1a">log<tspan font-size="6.5" dy="2">2</tspan><tspan dy="-2">(Relative mRNA level)</tspan></text>
<text x="545.70" y="545.00" font-size="10.00" text-anchor="middle" fill="#1a1a1a"><tspan font-style="italic">KmFLO5</tspan></text>
<text x="622.90" y="545.00" font-size="10.00" text-anchor="middle" fill="#1a1a1a"><tspan font-style="italic">ScFLO9</tspan></text>
<text x="591.50" y="560.00" font-size="6.60" text-anchor="middle" fill="#111" font-weight="bold">NS, p = 0.241</text>
<path d="M584.30 564.30 L584.30 562.80 L594.40 562.80 L594.40 564.30" fill="none" stroke="#111" stroke-width="1.1"/>
<text x="639.30" y="569.50" font-size="6.60" text-anchor="middle" fill="#111" font-weight="bold">***, p = 0.00096</text>
<path d="M628.00 574.30 L628.00 572.80 L639.00 572.80 L639.00 574.30" fill="none" stroke="#111" stroke-width="1.1"/>
<text transform="translate(537.80 679.90) rotate(-60.0)" font-size="10.20" text-anchor="end" fill="#1a1a1a"><tspan>KS-R1</tspan></text>
<text transform="translate(559.90 679.90) rotate(-60.0)" font-size="10.20" text-anchor="end" fill="#1a1a1a"><tspan font-style="italic">Km</tspan><tspan>-V</tspan></text>
<text transform="translate(582.00 679.90) rotate(-60.0)" font-size="10.20" text-anchor="end" fill="#1a1a1a"><tspan>KS-R1</tspan></text>
<text transform="translate(604.10 679.90) rotate(-60.0)" font-size="10.20" text-anchor="end" fill="#1a1a1a"><tspan font-style="italic">Km</tspan><tspan>[</tspan><tspan font-style="italic">ScFLO9</tspan><tspan font-size="6.3" dy="1.2">CEN</tspan><tspan dy="-1.2">]</tspan></text>
<text transform="translate(626.20 679.90) rotate(-60.0)" font-size="10.20" text-anchor="end" fill="#1a1a1a"><tspan font-style="italic">Sc</tspan><tspan>-R1[</tspan><tspan font-style="italic">ScFLO9</tspan><tspan font-size="6.3" dy="1.2">CEN</tspan><tspan dy="-1.2">]</tspan></text>
<text transform="translate(648.30 679.90) rotate(-60.0)" font-size="10.20" text-anchor="end" fill="#1a1a1a"><tspan font-style="italic">Sc</tspan><tspan>-R1[</tspan><tspan font-style="italic">ScFLO9</tspan><tspan font-size="6.3" dy="1.2">2μ</tspan><tspan dy="-1.2">]</tspan></text>
<text transform="translate(670.40 679.90) rotate(-60.0)" font-size="10.20" text-anchor="end" fill="#1a1a1a"><tspan font-style="italic">Sc</tspan><tspan>-R1</tspan></text></svg></body></html>
